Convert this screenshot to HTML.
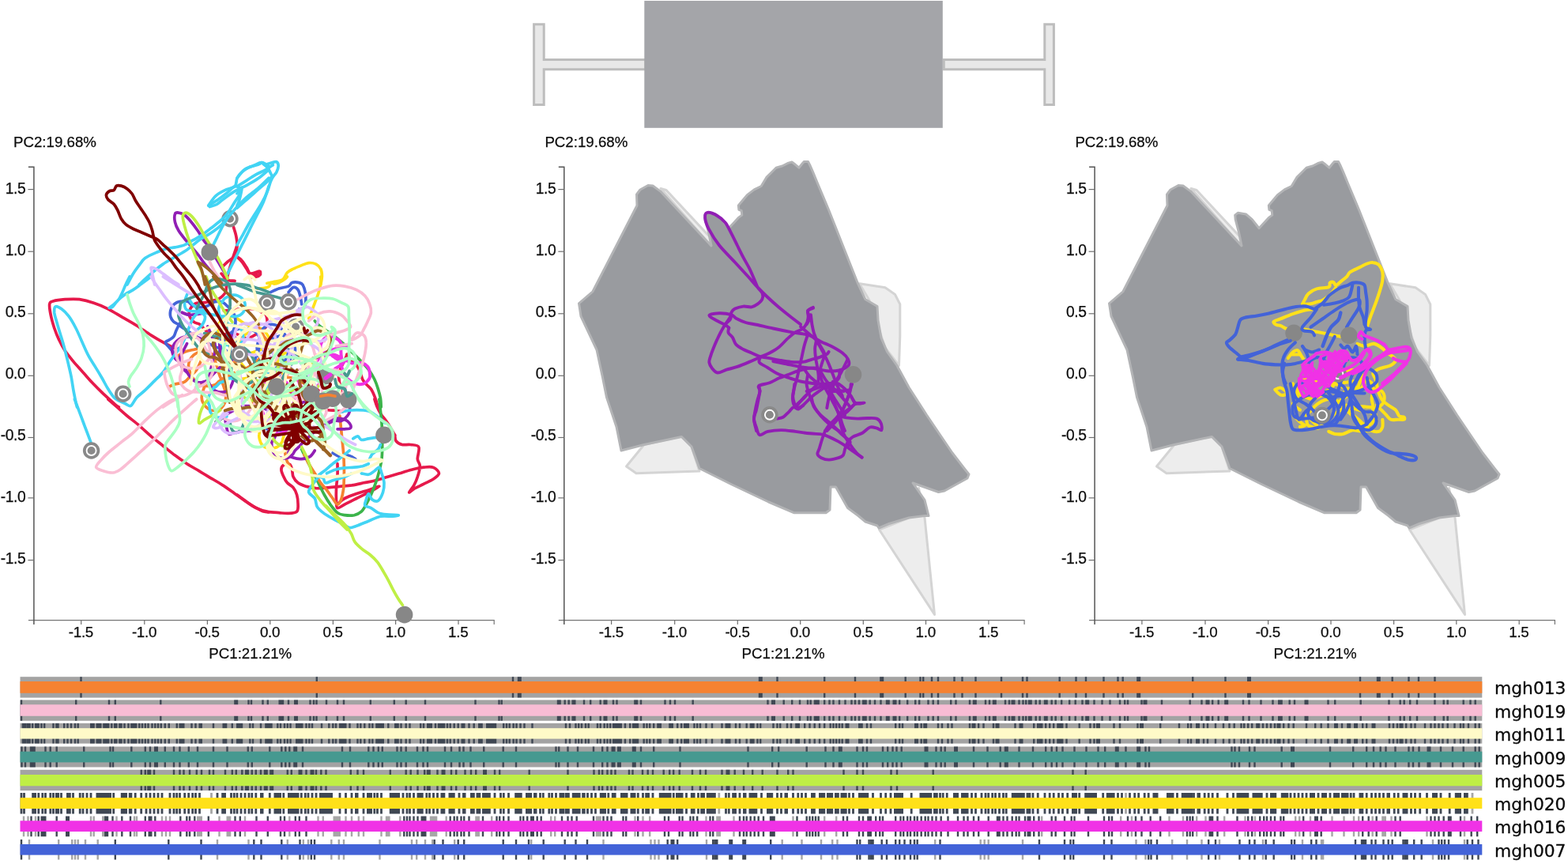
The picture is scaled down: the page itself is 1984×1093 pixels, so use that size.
<!DOCTYPE html>
<html lang="en"><head><meta charset="utf-8"><title>PCA trajectories</title>
<style>
html,body{margin:0;padding:0;background:#fff;}
body{width:1984px;height:1093px;overflow:hidden;}
svg{display:block;}
.ax{font-family:"Liberation Sans",sans-serif;font-size:18.8px;letter-spacing:-0.3px;fill:#0c0c0c;stroke:#0c0c0c;stroke-width:0.25px;}
.lab{font-family:"Liberation Sans",sans-serif;font-size:18.7px;fill:#0c0c0c;stroke:#0c0c0c;stroke-width:0.25px;}
.nm{font-family:"DejaVu Sans","Liberation Sans",sans-serif;font-size:21.8px;fill:#0c0c0c;stroke:#0c0c0c;stroke-width:0.3px;}
.tr{fill:none;stroke-linejoin:round;stroke-linecap:round;}
.axl{stroke:#555;stroke-width:1.5;fill:none;}
.tk{stroke:#707070;stroke-width:1.2;fill:none;}
.axx{stroke:#757575;stroke-width:1.2;fill:none;}
</style></head><body>
<svg width="1984" height="1093" viewBox="0 0 1984 1093">
<rect width="1984" height="1093" fill="#fff"/>
<g id="boxglyph">
<path d="M675.6,30.7H688.2V75.6H817V87.7H688.2V132.6H675.6Z" fill="#e8e8e8" stroke="#bdbdbd" stroke-width="3"/>
<path d="M1194.3,75.6H1321.8V30.7H1333.4V132.6H1321.8V87.7H1194.3Z" fill="#e8e8e8" stroke="#bdbdbd" stroke-width="3"/>
<rect x="815.3" y="1" width="377.5" height="160.8" fill="#a4a5a9"/>
</g>
<g id="axes0">
<path class="axx" d="M35.9,784.6H625.2V790.1"/>
<path class="axl" d="M35.9,211.2H42.9V790.1"/>
<line class="tk" x1="35.4" x2="42.9" y1="239.6" y2="239.6"/>
<text class="ax" style="font-size:19.3px;letter-spacing:-0.45px" x="32.3" y="245.3" text-anchor="end">1.5</text>
<line class="tk" x1="35.4" x2="42.9" y1="318.2" y2="318.2"/>
<text class="ax" style="font-size:19.3px;letter-spacing:-0.45px" x="32.3" y="323.3" text-anchor="end">1.0</text>
<line class="tk" x1="35.4" x2="42.9" y1="396.8" y2="396.8"/>
<text class="ax" style="font-size:19.3px;letter-spacing:-0.45px" x="32.3" y="401.2" text-anchor="end">0.5</text>
<line class="tk" x1="35.4" x2="42.9" y1="475.3" y2="475.3"/>
<text class="ax" style="font-size:19.3px;letter-spacing:-0.45px" x="32.3" y="479.3" text-anchor="end">0.0</text>
<line class="tk" x1="35.4" x2="42.9" y1="553.5" y2="553.5"/>
<text class="ax" style="font-size:19.3px;letter-spacing:-0.45px" x="32.3" y="557.2" text-anchor="end">-0.5</text>
<line class="tk" x1="35.4" x2="42.9" y1="629.9" y2="629.9"/>
<text class="ax" style="font-size:19.3px;letter-spacing:-0.45px" x="32.3" y="635.1" text-anchor="end">-1.0</text>
<line class="tk" x1="35.4" x2="42.9" y1="708.6" y2="708.6"/>
<text class="ax" style="font-size:19.3px;letter-spacing:-0.45px" x="32.3" y="712.7" text-anchor="end">-1.5</text>
<line class="tk" x1="102.7" x2="102.7" y1="784.6" y2="790.1"/>
<text class="ax" x="102.4" y="806.2" text-anchor="middle">-1.5</text>
<line class="tk" x1="182.8" x2="182.8" y1="784.6" y2="790.1"/>
<text class="ax" x="182.5" y="806.2" text-anchor="middle">-1.0</text>
<line class="tk" x1="262.4" x2="262.4" y1="784.6" y2="790.1"/>
<text class="ax" x="262.1" y="806.2" text-anchor="middle">-0.5</text>
<line class="tk" x1="341.8" x2="341.8" y1="784.6" y2="790.1"/>
<text class="ax" x="341.5" y="806.2" text-anchor="middle">0.0</text>
<line class="tk" x1="421.4" x2="421.4" y1="784.6" y2="790.1"/>
<text class="ax" x="421.1" y="806.2" text-anchor="middle">0.5</text>
<line class="tk" x1="500.6" x2="500.6" y1="784.6" y2="790.1"/>
<text class="ax" x="500.3" y="806.2" text-anchor="middle">1.0</text>
<line class="tk" x1="580.0" x2="580.0" y1="784.6" y2="790.1"/>
<text class="ax" x="579.7" y="806.2" text-anchor="middle">1.5</text>
<text class="lab" x="17.0" y="185.8">PC2:19.68%</text>
<text class="lab" x="264.3" y="833">PC1:21.21%</text>
</g>
<g id="axes1">
<path class="axx" d="M706.8,784.6H1296.1V790.1"/>
<path class="axl" d="M706.8,211.2H713.8V790.1"/>
<line class="tk" x1="706.3" x2="713.8" y1="239.6" y2="239.6"/>
<text class="ax" style="font-size:19.3px;letter-spacing:-0.45px" x="703.2" y="245.3" text-anchor="end">1.5</text>
<line class="tk" x1="706.3" x2="713.8" y1="318.2" y2="318.2"/>
<text class="ax" style="font-size:19.3px;letter-spacing:-0.45px" x="703.2" y="323.3" text-anchor="end">1.0</text>
<line class="tk" x1="706.3" x2="713.8" y1="396.8" y2="396.8"/>
<text class="ax" style="font-size:19.3px;letter-spacing:-0.45px" x="703.2" y="401.2" text-anchor="end">0.5</text>
<line class="tk" x1="706.3" x2="713.8" y1="475.3" y2="475.3"/>
<text class="ax" style="font-size:19.3px;letter-spacing:-0.45px" x="703.2" y="479.3" text-anchor="end">0.0</text>
<line class="tk" x1="706.3" x2="713.8" y1="553.5" y2="553.5"/>
<text class="ax" style="font-size:19.3px;letter-spacing:-0.45px" x="703.2" y="557.2" text-anchor="end">-0.5</text>
<line class="tk" x1="706.3" x2="713.8" y1="629.9" y2="629.9"/>
<text class="ax" style="font-size:19.3px;letter-spacing:-0.45px" x="703.2" y="635.1" text-anchor="end">-1.0</text>
<line class="tk" x1="706.3" x2="713.8" y1="708.6" y2="708.6"/>
<text class="ax" style="font-size:19.3px;letter-spacing:-0.45px" x="703.2" y="712.7" text-anchor="end">-1.5</text>
<line class="tk" x1="773.6" x2="773.6" y1="784.6" y2="790.1"/>
<text class="ax" x="773.3" y="806.2" text-anchor="middle">-1.5</text>
<line class="tk" x1="853.7" x2="853.7" y1="784.6" y2="790.1"/>
<text class="ax" x="853.4" y="806.2" text-anchor="middle">-1.0</text>
<line class="tk" x1="933.3" x2="933.3" y1="784.6" y2="790.1"/>
<text class="ax" x="933.0" y="806.2" text-anchor="middle">-0.5</text>
<line class="tk" x1="1012.7" x2="1012.7" y1="784.6" y2="790.1"/>
<text class="ax" x="1012.4" y="806.2" text-anchor="middle">0.0</text>
<line class="tk" x1="1092.3" x2="1092.3" y1="784.6" y2="790.1"/>
<text class="ax" x="1092.0" y="806.2" text-anchor="middle">0.5</text>
<line class="tk" x1="1171.5" x2="1171.5" y1="784.6" y2="790.1"/>
<text class="ax" x="1171.2" y="806.2" text-anchor="middle">1.0</text>
<line class="tk" x1="1250.9" x2="1250.9" y1="784.6" y2="790.1"/>
<text class="ax" x="1250.6" y="806.2" text-anchor="middle">1.5</text>
<text class="lab" x="689.4" y="185.8">PC2:19.68%</text>
<text class="lab" x="938.6" y="833">PC1:21.21%</text>
</g>
<g id="axes2">
<path class="axx" d="M1378.1,784.6H1967.4V790.1"/>
<path class="axl" d="M1378.1,211.2H1385.1V790.1"/>
<line class="tk" x1="1377.6" x2="1385.1" y1="239.6" y2="239.6"/>
<text class="ax" style="font-size:19.3px;letter-spacing:-0.45px" x="1374.5" y="245.3" text-anchor="end">1.5</text>
<line class="tk" x1="1377.6" x2="1385.1" y1="318.2" y2="318.2"/>
<text class="ax" style="font-size:19.3px;letter-spacing:-0.45px" x="1374.5" y="323.3" text-anchor="end">1.0</text>
<line class="tk" x1="1377.6" x2="1385.1" y1="396.8" y2="396.8"/>
<text class="ax" style="font-size:19.3px;letter-spacing:-0.45px" x="1374.5" y="401.2" text-anchor="end">0.5</text>
<line class="tk" x1="1377.6" x2="1385.1" y1="475.3" y2="475.3"/>
<text class="ax" style="font-size:19.3px;letter-spacing:-0.45px" x="1374.5" y="479.3" text-anchor="end">0.0</text>
<line class="tk" x1="1377.6" x2="1385.1" y1="553.5" y2="553.5"/>
<text class="ax" style="font-size:19.3px;letter-spacing:-0.45px" x="1374.5" y="557.2" text-anchor="end">-0.5</text>
<line class="tk" x1="1377.6" x2="1385.1" y1="629.9" y2="629.9"/>
<text class="ax" style="font-size:19.3px;letter-spacing:-0.45px" x="1374.5" y="635.1" text-anchor="end">-1.0</text>
<line class="tk" x1="1377.6" x2="1385.1" y1="708.6" y2="708.6"/>
<text class="ax" style="font-size:19.3px;letter-spacing:-0.45px" x="1374.5" y="712.7" text-anchor="end">-1.5</text>
<line class="tk" x1="1444.9" x2="1444.9" y1="784.6" y2="790.1"/>
<text class="ax" x="1444.6" y="806.2" text-anchor="middle">-1.5</text>
<line class="tk" x1="1525.0" x2="1525.0" y1="784.6" y2="790.1"/>
<text class="ax" x="1524.7" y="806.2" text-anchor="middle">-1.0</text>
<line class="tk" x1="1604.6" x2="1604.6" y1="784.6" y2="790.1"/>
<text class="ax" x="1604.3" y="806.2" text-anchor="middle">-0.5</text>
<line class="tk" x1="1684.0" x2="1684.0" y1="784.6" y2="790.1"/>
<text class="ax" x="1683.7" y="806.2" text-anchor="middle">0.0</text>
<line class="tk" x1="1763.6" x2="1763.6" y1="784.6" y2="790.1"/>
<text class="ax" x="1763.3" y="806.2" text-anchor="middle">0.5</text>
<line class="tk" x1="1842.8" x2="1842.8" y1="784.6" y2="790.1"/>
<text class="ax" x="1842.5" y="806.2" text-anchor="middle">1.0</text>
<line class="tk" x1="1922.2" x2="1922.2" y1="784.6" y2="790.1"/>
<text class="ax" x="1921.9" y="806.2" text-anchor="middle">1.5</text>
<text class="lab" x="1360.4" y="185.8">PC2:19.68%</text>
<text class="lab" x="1611.6" y="833">PC1:21.21%</text>
</g>
<g id="hull1">
<polygon points="1087.5,358.8 1120.0,363.8 1132.5,372.5 1138.8,385.0 1138.8,425.0 1137.5,462.5 1120.0,440.0 1100.0,380.0" fill="#ededed" stroke="#d4d4d4" stroke-width="3" stroke-linejoin="round"/>
<polygon points="815.0,562.5 792.5,590.0 805.0,598.8 885.0,596.0 875.0,565.0 862.0,552.0" fill="#ededed" stroke="#d4d4d4" stroke-width="3" stroke-linejoin="round"/>
<polygon points="1112.5,670.0 1182.5,777.5 1170.0,655.0 1162.5,617.5 1150.0,655.0" fill="#ededed" stroke="#d4d4d4" stroke-width="3" stroke-linejoin="round"/>
<polygon points="836.0,238.5 843.0,240.5 903.5,305.5 900.5,312.0" fill="#ededed" stroke="#d4d4d4" stroke-width="3" stroke-linejoin="round"/>
<polygon points="732.5,383.8 750.0,368.8 806.0,260.0 805.5,246.0 810.0,240.0 820.0,234.5 826.0,235.0 835.7,242.1 900.0,310.9 896.6,294.3 892.2,277.6 891.7,272.1 895.5,269.3 905.5,271.0 913.3,277.6 922.1,288.7 934.3,275.4 938.8,272.1 938.2,266.5 934.9,265.4 934.3,259.9 939.9,253.2 945.4,246.6 954.3,239.9 963.2,235.5 966.5,229.9 969.8,224.4 976.5,217.7 982.0,212.2 989.8,210.0 997.6,206.1 1002.0,205.0 1006.4,208.3 1010.9,212.2 1015.3,206.7 1017.5,204.4 1022.5,204.4 1025.3,210.0 1028.6,217.7 1034.1,231.0 1049.0,266.5 1085.0,357.5 1095.0,378.8 1110.0,387.5 1111.0,405.0 1115.0,427.5 1122.5,445.0 1135.0,462.5 1150.0,490.0 1172.5,525.0 1205.0,573.0 1220.0,592.5 1226.0,600.0 1224.0,605.0 1195.0,621.0 1187.5,622.5 1155.0,611.0 1170.0,632.5 1175.0,652.5 1170.0,652.5 1150.0,655.0 1125.0,662.5 1112.0,668.0 1110.0,665.0 1095.0,660.0 1086.0,652.5 1072.5,642.5 1057.5,616.0 1051.0,616.0 1050.0,645.0 1045.0,648.8 1005.0,648.8 972.5,635.0 925.0,612.5 885.0,592.5 875.0,565.0 862.5,552.5 815.0,562.5 786.0,570.0 780.0,540.0 767.5,502.5 762.5,477.5 755.0,442.5 735.0,400.0" fill="#999b9f" stroke="#b3b4b6" stroke-width="3" stroke-linejoin="round"/>
</g>
<g id="hull2">
<polygon points="1758.5,358.8 1791.0,363.8 1803.5,372.5 1809.8,385.0 1809.8,425.0 1808.5,462.5 1791.0,440.0 1771.0,380.0" fill="#ededed" stroke="#d4d4d4" stroke-width="3" stroke-linejoin="round"/>
<polygon points="1486.0,562.5 1463.5,590.0 1476.0,598.8 1556.0,596.0 1546.0,565.0 1533.0,552.0" fill="#ededed" stroke="#d4d4d4" stroke-width="3" stroke-linejoin="round"/>
<polygon points="1783.5,670.0 1853.5,777.5 1841.0,655.0 1833.5,617.5 1821.0,655.0" fill="#ededed" stroke="#d4d4d4" stroke-width="3" stroke-linejoin="round"/>
<polygon points="1507.0,238.5 1514.0,240.5 1574.5,305.5 1571.5,312.0" fill="#ededed" stroke="#d4d4d4" stroke-width="3" stroke-linejoin="round"/>
<polygon points="1403.5,383.8 1421.0,368.8 1477.0,260.0 1476.5,246.0 1481.0,240.0 1491.0,234.5 1497.0,235.0 1506.7,242.1 1571.0,310.9 1567.6,294.3 1563.2,277.6 1562.7,272.1 1566.5,269.3 1576.5,271.0 1584.3,277.6 1593.1,288.7 1605.3,275.4 1609.8,272.1 1609.2,266.5 1605.9,265.4 1605.3,259.9 1610.9,253.2 1616.4,246.6 1625.3,239.9 1634.2,235.5 1637.5,229.9 1640.8,224.4 1647.5,217.7 1653.0,212.2 1660.8,210.0 1668.6,206.1 1673.0,205.0 1677.4,208.3 1681.9,212.2 1686.3,206.7 1688.5,204.4 1693.5,204.4 1696.3,210.0 1699.6,217.7 1705.1,231.0 1720.0,266.5 1756.0,357.5 1766.0,378.8 1781.0,387.5 1782.0,405.0 1786.0,427.5 1793.5,445.0 1806.0,462.5 1821.0,490.0 1843.5,525.0 1876.0,573.0 1891.0,592.5 1897.0,600.0 1895.0,605.0 1866.0,621.0 1858.5,622.5 1826.0,611.0 1841.0,632.5 1846.0,652.5 1841.0,652.5 1821.0,655.0 1796.0,662.5 1783.0,668.0 1781.0,665.0 1766.0,660.0 1757.0,652.5 1743.5,642.5 1728.5,616.0 1722.0,616.0 1721.0,645.0 1716.0,648.8 1676.0,648.8 1643.5,635.0 1596.0,612.5 1556.0,592.5 1546.0,565.0 1533.5,552.5 1486.0,562.5 1457.0,570.0 1451.0,540.0 1438.5,502.5 1433.5,477.5 1426.0,442.5 1406.0,400.0" fill="#999b9f" stroke="#b3b4b6" stroke-width="3" stroke-linejoin="round"/>
</g>
<g id="traj0" style="stroke-width:3.7">
<path class="tr" stroke="#e6194b" d="M295.5,287.2C296.0,289.0 297.8,294.0 298.6,297.8C299.3,301.6 300.3,305.6 300.1,309.9C299.8,314.2 299.1,320.0 297.1,323.5C295.0,327.1 290.5,328.8 288.0,331.1C285.5,333.4 282.9,336.1 281.9,337.1"/>
<path class="tr" stroke="#e6194b" d="M297.1,323.5C298.3,324.3 302.1,325.5 304.6,328.1C307.1,330.6 310.2,335.6 312.2,338.6C314.2,341.7 314.2,345.2 316.7,346.2C319.2,347.2 325.3,344.4 327.3,344.7C329.3,344.9 330.1,347.0 328.8,347.7C327.6,348.5 321.2,349.0 319.7,349.2"/>
<path class="tr" stroke="#e6194b" d="M300.1,309.9C299.1,312.9 295.8,322.5 294.0,328.1C292.3,333.6 290.5,338.9 289.5,343.2C288.5,347.5 286.7,351.8 288.0,353.8C289.2,355.8 295.5,355.0 297.1,355.3"/>
<path class="tr" stroke="#e6194b" d="M300.0,325.0C301.0,326.0 304.0,328.6 306.0,331.1C308.1,333.6 310.3,337.6 312.1,340.2C313.9,342.7 313.9,345.7 316.6,346.2C319.4,346.7 327.0,342.7 328.7,343.2C330.5,343.7 329.0,348.0 327.2,349.2C325.5,350.5 319.7,350.5 318.1,350.7"/>
<path class="tr" stroke="#e6194b" d="M224.5,442.2C222.0,441.0 214.9,437.7 209.4,434.7C203.8,431.7 197.3,427.9 191.2,424.1C185.2,420.3 179.1,415.8 173.1,412.0C167.0,408.2 161.0,404.9 154.9,401.4C148.9,397.9 142.8,393.9 136.8,390.8C130.7,387.8 124.7,385.3 118.6,383.3C112.6,381.2 106.5,379.5 100.5,378.7C94.4,378.0 87.9,378.4 82.3,378.7C76.8,379.1 70.5,380.0 67.2,381.0C63.9,382.0 63.2,381.9 62.7,384.8C62.2,387.7 63.2,393.3 64.2,398.4C65.2,403.4 67.0,409.7 68.7,415.0C70.5,420.3 72.5,425.4 74.8,430.1C77.0,434.9 79.3,439.2 82.3,443.8C85.4,448.3 89.1,452.8 92.9,457.4C96.7,461.9 101.0,466.4 105.0,471.0C109.1,475.5 112.8,480.0 117.1,484.6C121.4,489.1 125.9,493.6 130.7,498.2C135.5,502.7 142.6,509.0 145.8,511.8C149.1,514.6 149.6,514.4 150.4,515.0"/>
<path class="tr" stroke="#e6194b" d="M136.8,505.0C138.8,506.8 144.8,512.1 148.9,515.6C152.9,519.1 156.4,522.4 161.0,526.2C165.5,529.9 171.0,534.0 176.1,538.3C181.1,542.6 186.2,547.6 191.2,551.9C196.2,556.2 201.3,559.9 206.3,564.0C211.4,568.0 216.4,572.3 221.5,576.1C226.5,579.8 231.5,583.4 236.6,586.7C241.6,589.9 246.7,592.7 251.7,595.7C256.7,598.8 261.8,601.8 266.8,604.8C271.9,607.8 276.9,610.6 281.9,613.9C287.0,617.1 292.0,620.9 297.1,624.5C302.1,628.0 307.6,632.0 312.2,635.0C316.7,638.1 320.7,640.6 324.3,642.6C327.8,644.6 330.7,646.3 333.3,647.1C336.0,648.0 338.9,647.8 340.0,647.9"/>
<path class="tr" stroke="#e6194b" d="M300.0,626.0C302.0,627.5 308.1,632.3 312.1,635.0C316.1,637.8 319.9,640.6 324.2,642.6C328.5,644.6 333.0,646.1 337.8,647.1C342.6,648.1 348.4,648.3 352.9,648.6C357.5,649.0 361.2,649.7 365.0,649.4C368.8,649.2 373.6,649.0 375.6,647.1C377.6,645.2 377.1,641.6 377.1,638.1C377.1,634.5 376.6,629.5 375.6,626.0C374.6,622.4 373.1,619.4 371.1,616.9C369.1,614.4 365.5,613.1 363.5,610.8C361.5,608.6 360.2,606.1 359.0,603.3C357.7,600.5 355.9,596.7 355.9,594.2C355.9,591.7 357.2,589.3 359.0,588.2C360.7,587.0 364.8,586.4 366.5,587.4C368.3,588.4 368.8,591.6 369.6,594.2C370.3,596.9 369.8,600.5 371.1,603.3C372.3,606.1 374.3,608.8 377.1,610.8C379.9,612.9 383.9,614.2 387.7,615.4C391.5,616.5 395.3,617.4 399.8,617.7C404.3,617.9 409.9,617.3 414.9,616.9C420.0,616.5 425.0,615.9 430.0,615.4C435.1,614.9 440.1,614.6 445.2,613.9C450.2,613.1 455.2,611.9 460.3,610.8C465.3,609.8 470.4,609.1 475.4,607.8C480.4,606.6 485.5,604.8 490.5,603.3C495.6,601.8 500.6,600.3 505.6,598.8C510.7,597.2 515.7,595.5 520.8,594.2C525.8,593.0 531.4,591.7 535.9,591.2C540.4,590.7 544.7,589.9 548.0,591.2C551.3,592.4 555.5,596.2 555.5,598.8C555.5,601.3 551.3,604.0 548.0,606.3C544.7,608.6 539.9,610.3 535.9,612.4C531.9,614.4 526.8,616.6 523.8,618.4C520.8,620.2 517.7,623.7 517.7,622.9C517.7,622.2 522.0,617.1 523.8,613.9C525.6,610.6 527.1,607.3 528.3,603.3C529.6,599.3 531.4,593.5 531.4,589.7C531.4,585.9 528.6,584.6 528.3,580.6C528.1,576.6 531.4,568.5 529.8,565.5C528.3,562.5 522.8,563.0 519.3,562.5C515.7,562.0 511.7,563.2 508.7,562.5C505.6,561.7 502.6,559.9 501.1,557.9C499.6,555.9 499.8,551.6 499.6,550.4"/>
<path class="tr" stroke="#e6194b" d="M427.0,586.7C427.0,589.2 427.3,596.7 427.0,601.8C426.8,606.8 425.8,611.6 425.5,616.9C425.3,622.2 425.3,629.2 425.5,633.5C425.8,637.8 425.3,641.8 427.0,642.6C428.8,643.4 432.1,640.1 436.1,638.1C440.1,636.0 446.2,633.0 451.2,630.5C456.3,628.0 461.5,625.5 466.3,622.9C471.1,620.4 479.9,615.9 479.9,615.4C479.9,614.9 471.1,618.4 466.3,619.9C461.5,621.4 456.3,622.7 451.2,624.5C446.2,626.2 439.9,628.5 436.1,630.5C432.3,632.5 429.8,635.5 428.5,636.6"/>
<path class="tr" stroke="#e6194b" d="M439.1,448.3C439.9,449.3 441.6,452.1 443.6,454.3C445.7,456.6 449.2,459.1 451.2,461.9C453.2,464.7 454.5,467.9 455.7,471.0C457.0,474.0 457.5,477.5 458.8,480.0C460.0,482.6 461.5,484.1 463.3,486.1C465.1,488.1 467.6,489.6 469.4,492.1C471.1,494.7 472.6,498.2 473.9,501.2C475.2,504.2 476.2,508.0 476.9,510.3C477.7,512.6 478.2,514.2 478.4,515.0"/>
<path class="tr" stroke="#e6194b" d="M439.1,448.3C438.6,449.5 437.3,453.1 436.1,455.8C434.8,458.6 432.8,461.9 431.6,464.9C430.3,467.9 428.8,470.5 428.5,474.0C428.3,477.5 429.5,482.6 430.0,486.1C430.5,489.6 431.3,493.6 431.6,495.2"/>
<path class="tr" stroke="#e6194b" d="M473.9,505.0C474.4,506.5 475.7,511.0 476.9,514.1C478.2,517.1 479.2,519.6 481.5,523.1C483.7,526.7 487.5,530.7 490.5,535.2C493.5,539.8 498.1,547.8 499.6,550.4"/>
<path class="tr" stroke="#e6194b" d="M283.3,393.0C284.2,392.9 287.1,392.8 289.0,392.7C290.8,392.5 292.5,392.5 294.5,392.2C296.5,392.0 298.8,391.5 300.9,391.2C302.9,391.0 304.9,390.7 306.9,390.6C309.0,390.5 311.2,390.8 313.3,390.8C315.3,390.8 317.0,390.5 319.1,390.7C321.2,390.8 323.9,391.0 325.7,391.7C327.6,392.3 328.6,393.6 330.3,394.6C332.0,395.6 334.8,396.3 336.1,397.8C337.3,399.2 337.4,401.3 337.8,403.3C338.1,405.3 338.5,407.7 338.1,409.6C337.8,411.5 337.0,413.2 335.8,414.6C334.6,415.9 332.7,416.3 331.0,417.5C329.3,418.7 327.3,420.6 325.6,421.8C323.9,423.0 322.5,423.9 320.7,424.8C318.9,425.8 316.7,427.0 314.8,427.5C312.9,427.9 311.1,428.1 309.3,427.6C307.4,427.1 305.4,425.3 303.5,424.4C301.7,423.5 299.9,422.8 298.1,422.3C296.3,421.9 294.6,421.8 292.7,421.8C290.8,421.7 288.5,421.4 286.7,422.0C284.8,422.6 283.5,424.6 281.6,425.4C279.7,426.2 277.4,426.6 275.4,426.6C273.3,426.6 271.4,426.2 269.5,425.5C267.7,424.9 265.8,424.1 264.3,422.9C262.8,421.7 262.0,419.8 260.7,418.3C259.3,416.8 257.6,415.2 256.2,413.7C254.7,412.3 253.7,410.8 252.0,409.9C250.4,408.9 248.1,409.0 246.4,408.0C244.7,407.0 243.2,405.6 242.0,403.9C240.8,402.3 239.7,399.9 239.3,398.0C239.0,396.2 239.3,394.6 239.9,392.8C240.5,391.1 241.6,389.0 242.8,387.5C244.1,386.0 245.5,384.7 247.3,383.9C249.2,383.2 251.7,383.3 253.8,383.1C255.8,382.9 257.8,382.9 259.8,382.6C261.9,382.3 264.1,381.5 266.0,381.0C267.9,380.6 269.5,380.4 271.4,379.9C273.2,379.3 275.4,378.8 277.2,377.9C278.9,376.9 280.4,375.7 281.8,374.3C283.2,372.9 284.8,371.3 285.6,369.4C286.3,367.5 286.3,364.8 286.4,362.8C286.5,360.7 286.5,358.9 286.1,356.9C285.7,354.9 284.7,352.8 283.7,351.0C282.7,349.2 280.7,346.9 280.1,346.1"/>
<path class="tr" stroke="#e6194b" d="M402.9,493.8C402.1,493.2 399.8,491.1 398.2,489.8C396.6,488.5 394.8,487.4 393.4,486.0C391.9,484.7 390.9,483.1 389.6,481.7C388.4,480.3 387.3,479.3 385.7,477.9C384.1,476.5 381.7,474.6 380.0,473.4C378.3,472.3 377.1,471.4 375.3,470.8C373.6,470.2 371.3,469.6 369.4,470.0C367.6,470.3 365.7,471.7 364.1,472.9C362.5,474.2 360.8,475.9 359.8,477.4C358.8,479.0 358.3,480.2 358.1,482.1C358.0,483.9 358.4,486.7 359.1,488.7C359.7,490.6 360.6,492.5 362.0,493.8C363.4,495.2 365.7,495.9 367.7,496.8C369.6,497.7 371.9,499.0 373.8,499.3C375.7,499.7 377.2,498.5 379.0,498.8C380.9,499.2 383.0,500.7 384.9,501.5C386.8,502.3 388.7,502.8 390.3,503.9C392.0,504.9 393.4,506.9 394.9,508.0C396.4,509.1 397.8,509.3 399.6,510.4C401.3,511.4 403.3,513.3 405.2,514.4C407.0,515.5 408.9,516.2 410.6,516.9C412.2,517.6 413.1,518.3 415.1,518.7C417.1,519.1 420.3,519.1 422.4,519.2C424.5,519.4 425.7,519.5 427.5,519.8C429.3,520.0 432.2,520.6 433.2,520.8"/>
<circle cx="291.0" cy="276.7" r="10.7" fill="#898989"/>
<circle cx="291.0" cy="276.7" r="6.0" fill="none" stroke="#fff" stroke-width="1.9"/>
<path class="tr" stroke="#3cb44b" d="M398.3,405.9C399.5,407.2 403.1,411.2 405.8,413.5C408.6,415.8 411.6,417.3 414.9,419.6C418.2,421.8 422.0,424.3 425.5,427.1C429.0,429.9 433.1,433.4 436.1,436.2C439.1,439.0 441.1,441.2 443.6,443.8C446.2,446.3 448.4,448.5 451.2,451.3C454.0,454.1 457.5,457.4 460.3,460.4C463.1,463.4 465.6,466.2 467.8,469.5C470.1,472.7 472.1,476.3 473.9,480.0C475.7,483.8 477.2,488.1 478.4,492.1C479.7,496.2 480.8,500.4 481.5,504.2C482.1,508.0 482.1,513.2 482.2,515.0"/>
<path class="tr" stroke="#3cb44b" d="M479.9,505.0C480.2,507.5 480.9,515.1 481.5,520.1C482.0,525.2 482.6,530.2 483.0,535.2C483.3,540.3 483.6,545.3 483.7,550.4C483.8,555.4 483.8,560.4 483.7,565.5C483.6,570.5 483.6,575.6 483.0,580.6C482.3,585.6 481.2,590.7 479.9,595.7C478.7,600.8 477.2,605.8 475.4,610.8C473.6,615.9 471.4,621.4 469.4,626.0C467.3,630.5 465.3,634.5 463.3,638.1C461.3,641.6 459.8,644.9 457.3,647.1C454.7,649.4 451.7,650.9 448.2,651.7C444.7,652.4 439.6,652.2 436.1,651.7C432.6,651.2 430.0,650.9 427.0,648.6C424.0,646.4 420.7,641.8 417.9,638.1C415.2,634.3 412.9,630.5 410.4,626.0C407.9,621.4 405.3,615.9 402.8,610.8C400.3,605.8 397.8,600.8 395.3,595.7C392.7,590.7 390.0,585.1 387.7,580.6C385.4,576.1 382.7,570.5 381.7,568.5"/>
<path class="tr" stroke="#3cb44b" d="M272.9,533.7C273.9,533.2 277.1,532.0 278.9,530.7C280.7,529.4 282.7,526.9 283.4,526.2"/>
<path class="tr" stroke="#ffe119" d="M337.8,358.3C339.1,358.1 342.1,357.6 345.4,356.8C348.6,356.0 354.4,355.8 357.5,353.8C360.5,351.8 361.2,347.0 363.5,344.7C365.8,342.4 368.0,341.7 371.1,340.2C374.1,338.6 378.4,336.9 381.7,335.6C384.9,334.4 387.7,332.9 390.7,332.6C393.8,332.3 397.3,332.9 399.8,334.1C402.3,335.4 404.6,337.6 405.8,340.2C407.1,342.7 407.4,345.9 407.4,349.2C407.4,352.5 406.1,358.2 405.8,360.0"/>
<path class="tr" stroke="#ffe119" d="M325.7,365.1C327.2,365.0 332.3,364.9 334.8,364.4C337.3,363.9 339.6,363.2 340.8,362.1C342.1,361.0 341.3,358.1 342.3,357.6C343.3,357.1 345.1,359.1 346.9,359.1C348.6,359.1 350.7,358.6 352.9,357.6C355.2,356.6 358.7,354.3 360.5,353.0C362.2,351.8 363.0,350.5 363.5,350.0"/>
<path class="tr" stroke="#ffe119" d="M405.8,350.0C405.8,351.5 406.4,355.5 405.8,359.1C405.3,362.6 404.1,367.1 402.8,371.2C401.6,375.2 399.8,379.2 398.3,383.3C396.8,387.3 395.0,392.1 393.8,395.4C392.5,398.6 391.2,401.7 390.7,402.9"/>
<path class="tr" stroke="#ffe119" d="M351.4,457.4C350.4,457.9 347.3,459.4 345.3,460.6C343.3,461.9 341.3,463.4 339.4,464.8C337.5,466.1 335.9,467.4 333.9,468.7C332.0,470.0 329.9,471.3 327.9,472.6C326.0,473.8 324.2,475.3 322.2,476.1C320.2,477.0 318.5,477.1 316.0,477.6C313.6,478.1 310.2,478.8 307.7,479.1C305.2,479.4 303.1,480.0 300.9,479.5C298.8,479.1 296.7,477.8 294.9,476.5C293.1,475.3 291.2,474.0 290.1,472.0C289.0,470.1 288.5,467.2 288.4,464.9C288.2,462.7 288.6,460.9 289.4,458.6C290.1,456.4 291.2,453.2 292.9,451.5C294.6,449.8 297.3,449.2 299.7,448.7C302.1,448.2 305.0,448.7 307.4,448.5C309.8,448.3 311.9,447.7 314.1,447.3C316.2,446.9 318.0,446.5 320.1,445.8C322.2,445.1 324.7,444.2 326.9,443.3C329.1,442.5 331.2,442.1 333.3,440.8C335.4,439.5 338.2,437.8 339.4,435.7C340.6,433.5 341.0,430.4 340.6,428.1C340.2,425.8 338.4,423.8 337.2,422.0C336.0,420.2 334.9,418.4 333.2,417.3C331.5,416.1 329.2,415.0 326.9,414.9C324.6,414.9 321.7,415.8 319.4,416.9C317.2,417.9 315.1,419.7 313.3,421.0C311.4,422.4 310.0,423.4 308.5,425.1C307.1,426.8 305.8,429.2 304.8,431.3C303.7,433.3 303.0,435.2 302.5,437.5C301.9,439.8 301.3,442.6 301.3,445.1C301.2,447.5 301.6,450.2 302.1,452.4C302.7,454.6 303.4,456.4 304.5,458.4C305.6,460.3 307.2,462.3 308.8,464.0C310.4,465.7 312.3,467.1 314.2,468.5C316.2,469.9 318.4,471.7 320.6,472.4C322.8,473.0 325.3,472.7 327.5,472.2C329.7,471.8 332.0,471.0 333.7,469.7C335.5,468.3 336.8,466.4 337.9,464.4C338.9,462.3 339.7,459.8 340.0,457.4C340.3,455.0 339.7,452.1 339.5,449.8C339.3,447.4 339.4,445.5 339.0,443.3C338.5,441.1 337.6,438.9 336.9,436.6C336.3,434.3 336.0,431.6 335.1,429.5C334.3,427.4 333.4,425.9 332.0,424.0C330.7,422.1 328.8,419.8 326.8,418.1C324.9,416.5 322.6,415.1 320.6,414.1C318.6,413.1 316.8,412.9 314.8,412.0C312.7,411.0 310.1,409.8 308.1,408.6C306.1,407.4 304.8,406.1 302.9,404.9C301.0,403.6 298.7,401.9 296.7,401.2C294.6,400.5 292.6,400.2 290.4,400.5C288.2,400.7 285.3,401.4 283.4,402.5C281.4,403.6 279.9,405.2 278.6,407.0C277.3,408.8 275.9,411.0 275.4,413.3C275.0,415.7 275.3,418.9 276.0,421.1C276.7,423.2 277.9,424.6 279.5,426.1C281.1,427.7 283.5,429.3 285.7,430.2C287.9,431.1 290.5,430.9 292.8,431.5C295.2,432.0 297.5,433.1 299.6,433.8C301.8,434.4 304.7,435.1 305.7,435.3"/>
<path class="tr" stroke="#ffe119" d="M359.7,483.5C359.9,484.7 360.6,488.4 360.8,490.7C361.0,493.0 361.2,495.2 360.9,497.5C360.7,499.8 360.1,502.1 359.4,504.3C358.7,506.5 357.9,508.9 357.0,510.9C356.0,513.0 355.1,514.8 353.7,516.7C352.3,518.6 350.2,520.6 348.6,522.3C346.9,524.0 345.6,525.4 344.0,527.1C342.3,528.9 340.6,531.0 338.9,532.7C337.3,534.4 335.4,535.4 334.0,537.0C332.5,538.7 331.1,540.7 330.1,542.8C329.0,544.9 328.1,547.5 327.9,549.7C327.6,551.9 327.9,553.8 328.5,555.9C329.1,558.0 330.0,560.6 331.3,562.3C332.6,564.0 334.4,565.6 336.4,566.4C338.3,567.2 340.5,567.4 343.0,567.2C345.4,567.0 348.7,566.7 350.9,565.4C353.2,564.2 355.3,561.6 356.5,559.8C357.7,558.1 357.4,556.9 358.0,554.9C358.7,552.9 359.7,550.0 360.2,547.7C360.8,545.3 361.2,543.1 361.1,540.7C361.0,538.4 359.6,535.9 359.6,533.6C359.7,531.2 361.3,529.0 361.5,526.7C361.7,524.3 360.9,521.8 360.6,519.5C360.3,517.1 359.8,514.9 359.9,512.5C360.0,510.1 361.0,507.3 361.2,504.9C361.4,502.6 361.1,500.5 361.0,498.3C360.8,496.0 360.5,493.7 360.4,491.4C360.3,489.2 360.7,486.9 360.3,484.7C360.0,482.5 359.2,480.3 358.4,478.1C357.7,475.9 357.0,473.7 355.8,471.6C354.7,469.6 352.3,468.0 351.5,465.8C350.8,463.6 350.8,460.8 351.1,458.6C351.4,456.3 352.2,454.2 353.5,452.3C354.9,450.4 357.5,448.5 359.4,447.3C361.4,446.1 364.2,445.2 365.1,444.8"/>
<path class="tr" stroke="#4363d8" d="M342.3,369.7C344.1,368.9 349.1,366.4 352.9,365.1C356.7,363.9 362.2,363.4 365.0,362.1C367.8,360.8 367.3,358.3 369.6,357.6C371.8,356.8 376.4,357.1 378.6,357.6C380.9,358.1 381.9,358.6 383.2,360.6C384.4,362.6 385.6,366.4 386.2,369.7C386.8,372.9 387.2,377.0 386.9,380.2C386.7,383.5 386.1,387.6 384.7,389.3C383.3,391.1 379.6,390.6 378.6,390.8"/>
<path class="tr" stroke="#4363d8" d="M365.0,369.7C366.0,368.6 369.1,364.1 371.1,363.6C373.1,363.1 375.6,364.6 377.1,366.6C378.6,368.6 379.4,372.7 380.1,375.7C380.9,378.7 381.4,383.3 381.7,384.8"/>
<path class="tr" stroke="#4363d8" d="M227.5,409.0C226.7,410.5 224.2,415.3 223.0,418.0C221.7,420.8 221.5,423.6 219.9,425.6C218.4,427.6 215.7,428.9 213.9,430.1C212.1,431.4 209.4,431.7 209.4,433.2C209.4,434.7 212.1,437.2 213.9,439.2C215.7,441.2 217.9,445.0 219.9,445.3C222.0,445.5 225.0,441.5 226.0,440.7"/>
<path class="tr" stroke="#4363d8" style="stroke-width:4" d="M333.3,541.3C335.3,541.8 341.3,543.8 345.4,544.3C349.4,544.8 355.4,544.3 357.5,544.3"/>
<path class="tr" stroke="#4363d8" d="M421.0,573.0C422.5,573.8 426.8,577.1 430.0,577.6C433.3,578.1 437.3,575.6 440.6,576.1C443.9,576.6 448.2,579.8 449.7,580.6"/>
<path class="tr" stroke="#4363d8" d="M286.6,443.6C285.5,443.1 282.2,441.7 279.9,440.9C277.6,440.1 275.1,439.8 272.9,439.0C270.7,438.2 268.7,437.1 266.7,436.0C264.6,434.9 262.6,433.6 260.6,432.5C258.6,431.4 256.7,430.5 254.7,429.4C252.8,428.3 250.8,427.0 248.8,425.8C246.8,424.7 244.7,423.8 242.6,422.4C240.5,421.1 238.3,419.0 236.4,417.7C234.4,416.3 232.8,415.7 230.9,414.4C229.0,413.2 226.8,411.3 224.9,410.0C223.0,408.8 221.0,408.3 219.5,406.7C218.0,405.2 216.5,402.9 215.8,400.6C215.2,398.4 215.2,395.7 215.7,393.3C216.3,391.0 217.5,388.2 218.9,386.4C220.3,384.6 222.0,383.4 224.0,382.5C226.0,381.6 228.5,381.1 230.8,381.0C233.2,380.8 236.0,380.8 238.0,381.6C240.0,382.4 240.8,384.7 242.7,385.7C244.6,386.8 247.3,387.6 249.6,388.1C252.0,388.6 254.5,388.9 256.8,388.6C259.1,388.4 261.2,387.6 263.3,386.6C265.3,385.5 267.1,383.4 269.3,382.5C271.5,381.7 274.2,381.2 276.3,381.3C278.5,381.4 280.5,381.8 282.4,382.9C284.4,383.9 286.2,385.9 288.1,387.6C289.9,389.3 292.0,391.1 293.4,392.9C294.8,394.8 295.8,396.4 296.6,398.6C297.3,400.7 297.9,403.6 298.0,406.0C298.1,408.4 297.8,410.5 297.3,412.7C296.7,414.9 295.3,417.1 294.7,419.4C294.0,421.6 293.6,424.0 293.1,426.3C292.7,428.6 292.2,430.8 291.9,433.2C291.6,435.6 291.7,438.4 291.5,440.6C291.4,442.9 291.2,444.5 291.0,446.7C290.9,448.9 290.9,451.7 290.6,454.1C290.2,456.5 289.2,458.6 289.0,460.9C288.7,463.2 288.9,465.5 289.1,467.7C289.4,470.0 289.5,472.4 290.5,474.5C291.6,476.6 293.7,478.8 295.6,480.1C297.5,481.5 299.6,482.4 301.8,482.8C304.0,483.2 306.5,483.1 308.7,482.7C311.0,482.2 313.5,481.4 315.3,480.0C317.1,478.5 318.6,476.2 319.6,474.0C320.6,471.8 320.8,469.1 321.1,466.7C321.5,464.3 321.3,461.9 321.7,459.6C322.0,457.3 322.5,455.2 323.3,453.0C324.0,450.8 325.5,448.8 326.2,446.7C327.0,444.5 327.3,442.4 327.7,440.0C328.0,437.7 328.4,434.8 328.4,432.4C328.4,430.1 328.5,428.2 327.7,426.1C326.9,424.0 325.4,421.4 323.7,419.8C322.0,418.3 319.9,417.7 317.7,417.0C315.4,416.2 312.8,415.7 310.4,415.5C308.0,415.2 305.9,415.2 303.5,415.7C301.1,416.1 298.2,417.1 296.2,418.2C294.1,419.2 292.9,420.5 291.2,421.9C289.5,423.4 287.4,425.1 285.9,426.9C284.5,428.6 283.6,430.5 282.4,432.5C281.3,434.5 279.9,436.6 279.1,438.9C278.3,441.1 277.8,444.7 277.5,445.9"/>
<path class="tr" stroke="#4363d8" d="M360.3,469.0C360.6,467.8 361.3,464.0 362.3,461.9C363.3,459.8 365.0,458.2 366.2,456.3C367.4,454.4 368.2,452.4 369.4,450.4C370.6,448.4 372.8,446.3 373.4,444.2C374.0,442.1 373.6,439.8 373.1,437.7C372.6,435.6 371.5,433.3 370.1,431.6C368.8,429.9 366.7,428.8 364.7,427.6C362.7,426.4 360.4,424.6 358.1,424.3C355.8,424.0 353.2,425.1 351.0,425.8C348.8,426.5 347.1,427.1 345.1,428.4C343.0,429.6 340.6,431.7 338.9,433.3C337.2,434.9 335.8,435.8 334.8,437.9C333.9,440.0 333.7,443.4 333.4,445.7C333.2,448.1 333.5,449.7 333.6,451.9C333.8,454.2 333.4,457.1 334.3,459.1C335.3,461.2 337.2,463.2 339.2,464.3C341.2,465.5 343.9,466.3 346.2,466.2C348.5,466.1 351.1,464.8 353.2,463.7C355.2,462.5 357.1,461.1 358.5,459.4C360.0,457.7 361.0,455.5 362.0,453.4C363.0,451.2 364.4,449.0 364.7,446.8C365.1,444.5 364.4,442.2 364.4,439.8C364.4,437.3 365.1,434.4 364.7,432.1C364.4,429.7 363.2,427.6 362.1,425.7C361.1,423.8 359.7,422.5 358.4,420.6C357.2,418.6 356.2,415.4 354.5,413.8C352.8,412.2 350.4,411.5 348.2,411.0C346.1,410.4 343.9,410.1 341.6,410.6C339.4,411.1 336.7,412.6 334.8,414.0C333.0,415.3 331.5,416.7 330.5,418.8C329.4,420.8 329.3,423.8 328.7,426.1C328.0,428.5 327.2,430.4 326.6,432.6C326.0,434.9 325.2,437.6 325.1,439.8C325.1,442.0 325.6,443.7 326.2,445.8C326.7,447.9 327.4,450.1 328.5,452.3C329.6,454.4 331.5,456.9 332.8,458.9C334.1,461.0 334.9,462.6 336.1,464.5C337.3,466.4 338.9,468.0 340.0,470.2C341.1,472.3 341.9,475.2 342.5,477.5C343.1,479.7 343.4,482.7 343.6,483.8"/>
<path class="tr" stroke="#f58231" d="M430.0,526.2C430.3,528.9 431.0,537.5 431.6,542.8C432.1,548.1 432.6,552.9 433.1,557.9C433.6,563.0 434.2,568.0 434.6,573.0C435.0,578.1 435.2,583.1 435.3,588.2C435.5,593.2 435.5,598.2 435.3,603.3C435.2,608.3 435.2,613.6 434.6,618.4C433.9,623.2 432.8,628.7 431.6,632.0C430.3,635.3 428.8,638.3 427.0,638.1C425.3,637.8 423.2,633.5 421.0,630.5C418.7,627.5 415.9,623.2 413.4,619.9C410.9,616.6 408.4,614.4 405.8,610.8C403.3,607.3 400.8,602.8 398.3,598.8C395.8,594.7 393.0,590.7 390.7,586.7C388.5,582.6 385.7,576.6 384.7,574.6"/>
<path class="tr" stroke="#f58231" d="M360.5,568.5C360.7,570.5 361.0,577.1 362.0,580.6C363.0,584.1 365.8,588.2 366.5,589.7"/>
<path class="tr" stroke="#f58231" d="M221.5,452.8C223.5,451.6 229.5,447.0 233.5,445.3C237.6,443.5 242.1,443.0 245.6,442.2C249.2,441.5 253.2,441.0 254.7,440.7"/>
<path class="tr" stroke="#f58231" d="M213.9,489.1C215.2,488.6 218.2,487.1 221.5,486.1C224.7,485.1 230.3,484.8 233.5,483.1C236.8,481.3 238.6,478.0 241.1,475.5C243.6,473.0 246.4,471.2 248.7,467.9C250.9,464.7 253.7,457.9 254.7,455.8"/>
<path class="tr" stroke="#f58231" d="M301.5,456.1C300.5,456.5 297.3,457.7 295.1,458.7C293.0,459.7 290.7,461.1 288.6,462.1C286.5,463.2 284.5,463.8 282.6,464.8C280.6,465.8 278.8,466.9 276.7,468.1C274.7,469.3 272.2,470.6 270.4,472.0C268.6,473.5 267.3,474.9 265.9,476.7C264.6,478.5 263.4,480.6 262.1,482.7C260.9,484.8 259.7,487.0 258.7,489.3C257.7,491.7 256.9,494.6 256.3,496.9C255.7,499.1 255.1,500.9 255.2,503.0C255.2,505.1 255.8,507.4 256.9,509.5C257.9,511.6 259.6,513.8 261.3,515.4C263.0,517.0 264.9,518.4 267.0,519.0C269.1,519.5 271.7,519.2 273.9,518.7C276.2,518.2 278.7,517.3 280.4,515.8C282.1,514.3 283.4,511.9 284.3,509.8C285.2,507.7 285.6,505.5 285.7,503.2C285.9,500.9 285.7,498.4 285.2,496.1C284.8,493.8 283.9,491.7 283.2,489.5C282.5,487.4 281.8,485.3 281.0,483.2C280.3,481.1 279.4,478.9 278.6,476.7C277.8,474.5 276.9,472.2 276.2,470.1C275.5,467.9 275.3,466.1 274.6,463.7C273.9,461.4 272.8,458.4 272.1,456.1C271.3,453.8 271.6,451.4 270.3,449.7C269.0,448.0 266.6,446.8 264.4,445.8C262.2,444.8 259.2,443.9 256.9,443.8C254.7,443.8 253.0,444.7 251.0,445.6C249.0,446.5 246.8,447.5 245.0,449.1C243.3,450.6 241.6,452.9 240.5,455.0C239.4,457.2 238.6,459.7 238.5,462.0C238.4,464.2 239.2,466.4 239.8,468.7C240.4,471.0 240.9,473.7 242.0,475.7C243.0,477.7 244.6,479.0 246.3,480.7C248.0,482.4 250.3,484.6 252.4,485.8C254.5,487.0 256.6,487.7 258.8,488.1C261.1,488.4 263.6,488.4 266.0,488.1C268.3,487.8 270.8,487.2 272.7,486.3C274.6,485.3 275.5,483.8 277.4,482.3C279.4,480.9 282.3,478.7 284.5,477.4C286.6,476.2 288.3,475.6 290.2,474.6C292.1,473.7 294.0,472.5 296.0,471.7C298.0,470.9 300.0,470.6 302.2,469.8C304.5,469.0 307.2,467.9 309.4,466.9C311.6,466.0 313.2,465.1 315.2,463.9C317.3,462.8 319.8,461.4 321.7,459.9C323.6,458.4 325.1,456.7 326.8,455.1C328.5,453.5 330.2,451.9 331.7,450.2C333.3,448.5 335.0,446.9 336.2,444.9C337.3,443.0 338.4,440.5 338.7,438.4C339.1,436.2 339.2,433.9 338.4,431.8C337.7,429.7 335.4,427.8 334.1,425.8C332.9,423.8 332.1,421.9 330.9,419.8C329.6,417.8 327.8,415.5 326.8,413.4C325.8,411.3 325.1,408.3 324.7,407.3"/>
<path class="tr" stroke="#f58231" d="M402.3,515.7C402.2,514.5 402.0,511.1 401.8,508.8C401.6,506.6 401.6,504.3 400.9,502.0C400.2,499.8 399.1,497.3 397.8,495.3C396.5,493.3 394.8,491.5 393.1,490.0C391.3,488.4 389.4,486.8 387.3,485.8C385.3,484.7 382.8,484.5 380.7,483.6C378.7,482.7 377.1,481.2 375.0,480.3C373.0,479.3 370.6,478.2 368.3,477.7C366.0,477.3 363.5,477.1 361.2,477.5C359.0,477.8 356.9,479.1 354.8,480.1C352.7,481.0 350.9,482.8 348.6,483.4C346.4,483.9 343.7,483.6 341.3,483.6C338.9,483.6 336.7,483.5 334.3,483.5C331.9,483.5 329.2,483.1 326.9,483.6C324.7,484.2 322.4,485.4 320.7,486.8C319.1,488.2 318.0,490.0 317.1,492.0C316.2,494.0 315.2,496.4 315.2,498.7C315.1,501.0 315.7,503.7 316.8,505.8C317.8,508.0 319.6,510.2 321.5,511.5C323.3,512.8 325.9,513.1 328.0,513.6C330.1,514.2 332.1,514.7 334.3,515.0C336.6,515.3 339.3,515.5 341.7,515.7C344.1,515.8 346.1,515.9 348.6,515.6C351.1,515.4 354.2,514.8 356.5,514.4C358.8,513.9 360.4,513.0 362.5,512.8C364.6,512.7 366.7,513.1 369.1,513.4C371.5,513.7 374.4,514.0 376.7,514.6C379.0,515.3 380.8,516.4 383.0,517.3C385.2,518.2 388.1,518.7 389.9,520.0C391.7,521.3 393.2,524.5 393.8,525.3"/>
<path class="tr" stroke="#911eb4" d="M278.9,355.3C277.4,353.8 273.1,349.7 269.8,346.2C266.6,342.7 262.3,337.9 259.3,334.1C256.2,330.3 254.2,326.8 251.7,323.5C249.2,320.3 246.9,317.7 244.1,314.5C241.4,311.2 238.1,307.7 235.1,303.9C232.0,300.1 228.3,295.6 226.0,291.8C223.7,288.0 222.2,284.7 221.5,281.2C220.7,277.7 220.7,272.6 221.5,270.6C222.2,268.6 224.0,268.8 226.0,269.1C228.0,269.3 231.0,270.4 233.5,272.1C236.1,273.9 238.3,276.4 241.1,279.7C243.9,283.0 247.4,287.7 250.2,291.8C253.0,295.8 255.0,299.8 257.7,303.9C260.5,307.9 263.8,311.4 266.8,316.0C269.8,320.5 272.9,326.0 275.9,331.1C278.9,336.1 283.4,343.7 285.0,346.2"/>
<path class="tr" stroke="#911eb4" style="stroke-width:4" d="M230.5,395.4C232.0,395.9 236.1,398.1 239.6,398.4C243.1,398.6 248.4,397.4 251.7,396.9C255.0,396.4 258.0,395.6 259.3,395.4"/>
<path class="tr" stroke="#911eb4" d="M236.6,434.7C235.8,436.2 233.5,440.7 232.0,443.8C230.5,446.8 227.8,449.3 227.5,452.8C227.2,456.4 229.0,461.9 230.5,464.9C232.0,467.9 235.6,470.0 236.6,471.0"/>
<path class="tr" stroke="#911eb4" d="M285.0,530.7C285.2,532.2 285.7,536.8 286.5,539.8C287.2,542.8 287.7,547.6 289.5,548.9C291.3,550.1 293.3,548.0 297.1,547.3C300.8,546.7 307.1,545.4 312.2,545.1C317.2,544.7 324.8,545.1 327.3,545.1"/>
<path class="tr" stroke="#911eb4" d="M413.4,532.2C415.4,531.7 421.7,529.4 425.5,529.2C429.3,528.9 433.3,529.7 436.1,530.7C438.9,531.7 440.9,533.5 442.1,535.2C443.4,537.0 444.7,540.0 443.6,541.3C442.6,542.6 438.9,542.6 436.1,542.8C433.3,543.1 428.5,542.8 427.0,542.8"/>
<path class="tr" stroke="#911eb4" d="M366.5,565.5C366.3,567.0 364.3,572.3 365.0,574.6C365.8,576.8 368.3,578.1 371.1,579.1C373.8,580.1 378.1,580.9 381.7,580.6C385.2,580.4 389.5,579.3 392.2,577.6C395.0,575.8 397.3,571.3 398.3,570.0"/>
<path class="tr" stroke="#911eb4" d="M258.5,432.9C257.6,432.1 255.4,429.1 253.4,428.1C251.4,427.1 248.5,427.0 246.3,426.7C244.0,426.3 242.0,426.0 239.8,426.0C237.5,425.9 234.9,425.9 232.7,426.4C230.5,427.0 228.6,427.8 226.7,429.1C224.7,430.4 222.5,432.3 221.0,434.3C219.6,436.3 218.4,438.8 218.0,441.1C217.6,443.3 217.9,445.6 218.6,447.7C219.2,449.8 220.5,452.0 221.9,453.7C223.4,455.5 225.6,456.7 227.3,458.2C229.0,459.7 230.7,461.1 232.1,462.9C233.5,464.6 234.5,466.8 235.7,468.8C236.8,470.8 237.8,472.9 239.2,474.9C240.6,476.8 242.3,479.1 244.1,480.5C245.9,482.0 247.9,483.0 250.0,483.5C252.1,483.9 254.3,483.9 256.6,483.4C258.8,482.8 261.5,481.8 263.4,480.4C265.3,479.0 266.5,476.7 268.1,475.0C269.7,473.3 271.1,471.9 272.8,470.2C274.4,468.6 276.0,466.6 277.8,465.1C279.6,463.5 281.8,462.1 283.7,461.0C285.7,459.9 287.3,459.7 289.2,458.5C291.2,457.3 293.5,455.5 295.4,453.9C297.3,452.3 299.4,450.8 300.6,448.9C301.7,446.9 302.4,444.3 302.5,442.2C302.7,440.1 301.9,438.3 301.5,436.1C301.0,433.9 301.0,430.8 299.8,428.9C298.5,427.1 296.2,425.5 294.0,424.8C291.9,424.2 288.9,424.4 286.7,425.0C284.4,425.5 281.9,426.6 280.5,428.2C279.0,429.7 278.4,431.9 278.0,434.1C277.7,436.3 277.9,439.0 278.3,441.4C278.7,443.7 279.3,445.8 280.2,448.0C281.2,450.1 282.8,452.4 284.0,454.4C285.2,456.4 286.4,457.9 287.5,459.9C288.6,461.8 289.7,463.9 290.7,466.0C291.6,468.1 292.6,470.2 293.4,472.4C294.1,474.6 295.2,476.9 295.2,479.1C295.3,481.4 294.4,483.6 293.4,485.9C292.5,488.2 291.2,491.1 289.6,492.8C287.9,494.5 285.8,495.5 283.6,495.9C281.3,496.4 278.4,496.2 276.1,495.7C273.8,495.2 271.3,494.1 269.7,492.7C268.0,491.3 267.1,489.6 266.0,487.5C264.9,485.4 263.3,482.5 263.1,480.3C263.0,478.0 264.7,476.2 265.3,473.9C265.9,471.6 266.3,468.8 266.8,466.5C267.4,464.2 267.8,462.4 268.3,460.1C268.8,457.8 269.4,454.9 270.0,452.6C270.5,450.4 271.3,448.8 271.6,446.7C272.0,444.6 272.3,442.3 272.3,439.8C272.2,437.4 272.1,434.4 271.3,432.0C270.6,429.5 268.8,427.5 267.8,425.4C266.8,423.3 266.3,421.2 265.4,419.1C264.6,417.0 263.3,413.9 262.8,412.9"/>
<path class="tr" stroke="#911eb4" d="M382.0,509.5C383.0,509.1 385.9,508.0 388.1,507.4C390.2,506.7 392.6,506.0 394.9,505.6C397.2,505.2 399.3,504.9 401.8,504.8C404.3,504.7 407.6,505.0 410.1,504.7C412.6,504.5 414.8,503.7 416.8,503.3C418.9,502.8 420.4,502.4 422.6,502.1C424.7,501.9 427.5,501.3 429.7,501.6C431.9,501.9 433.9,502.7 435.9,504.1C437.9,505.5 440.3,507.9 441.4,510.1C442.6,512.3 442.7,514.8 442.7,517.1C442.7,519.3 442.3,521.5 441.3,523.5C440.3,525.5 438.4,527.6 436.7,529.1C435.1,530.6 433.4,532.1 431.3,532.6C429.2,533.1 426.4,531.8 424.1,532.2C421.7,532.5 419.3,533.8 417.1,534.7C415.0,535.6 413.0,536.6 410.9,537.7C408.9,538.8 407.0,540.0 405.1,541.3C403.1,542.6 401.2,544.0 399.3,545.4C397.4,546.9 395.2,548.5 393.5,550.1C391.7,551.6 390.4,553.2 388.7,554.7C387.1,556.2 385.3,557.5 383.7,559.1C382.0,560.8 380.7,562.7 379.0,564.5C377.3,566.2 375.0,567.9 373.5,569.7C372.0,571.4 371.7,573.6 370.1,575.1C368.6,576.7 366.3,578.5 364.2,579.2C362.0,579.9 359.3,579.9 357.1,579.6C354.9,579.2 352.9,578.5 351.1,577.3C349.2,576.1 347.2,574.4 346.0,572.5C344.8,570.6 344.3,568.2 344.0,565.9C343.7,563.6 343.4,561.0 344.1,558.8C344.7,556.7 346.9,555.2 347.9,553.0C348.8,550.9 349.4,548.5 349.8,546.1C350.2,543.7 350.4,540.8 350.2,538.6C349.9,536.3 349.0,534.5 348.2,532.4C347.3,530.3 346.3,528.2 345.0,526.1C343.7,524.0 341.9,521.4 340.2,519.8C338.5,518.3 336.9,517.7 334.8,516.9C332.7,516.0 329.9,515.2 327.6,514.6C325.3,514.1 323.2,513.6 320.9,513.5C318.6,513.3 316.0,513.6 313.6,513.7C311.3,513.8 309.2,513.5 306.8,514.0C304.5,514.5 301.7,515.6 299.5,516.7C297.3,517.8 295.4,519.3 293.5,520.4C291.6,521.5 289.9,521.8 288.1,523.2C286.3,524.5 283.7,527.8 282.8,528.7"/>
<path class="tr" stroke="#42d4f4" d="M263.8,260.0C265.8,258.8 271.9,255.2 275.9,252.5C279.9,249.7 284.5,246.2 288.0,243.4C291.5,240.6 294.3,236.6 297.1,235.8C299.8,235.1 303.6,237.1 304.6,238.9C305.6,240.6 304.4,243.6 303.1,246.4C301.8,249.2 299.3,252.0 297.1,255.5C294.8,259.0 292.0,264.1 289.5,267.6C287.0,271.1 285.7,273.1 281.9,276.7C278.2,280.2 271.4,285.2 266.8,288.8C262.3,292.3 258.5,295.3 254.7,297.8C250.9,300.3 247.7,301.9 244.1,303.9C240.6,305.9 237.3,308.4 233.5,309.9C229.8,311.4 225.2,312.2 221.5,312.9C217.7,313.7 214.6,313.4 210.9,314.5C207.1,315.5 203.3,317.0 198.8,319.0C194.2,321.0 187.4,323.8 183.6,326.6C179.9,329.3 178.6,332.3 176.1,335.6C173.6,338.9 171.0,342.2 168.5,346.2C166.0,350.3 162.2,357.7 161.0,360.0"/>
<path class="tr" stroke="#42d4f4" d="M263.8,260.0C265.3,258.0 269.3,251.2 272.9,247.9C276.4,244.6 280.9,242.4 285.0,240.4C289.0,238.3 294.5,238.3 297.1,235.8C299.6,233.3 298.6,228.3 300.1,225.2C301.6,222.2 303.6,219.9 306.1,217.7C308.6,215.4 311.7,213.3 315.2,211.6C318.7,210.0 324.5,208.9 327.3,207.9C330.1,206.8 329.7,205.2 331.8,205.6C334.0,206.0 338.6,209.4 340.0,210.1"/>
<path class="tr" stroke="#42d4f4" d="M340.0,214.7C337.9,216.4 331.9,222.0 327.3,225.2C322.7,228.5 317.2,231.5 312.2,234.3C307.1,237.1 302.1,238.9 297.1,241.9C292.0,244.9 285.7,249.7 281.9,252.5C278.2,255.2 277.1,257.0 274.4,258.5C271.6,260.0 266.8,261.0 265.3,261.5"/>
<path class="tr" stroke="#42d4f4" d="M340.0,225.2C337.9,227.3 331.9,233.3 327.3,237.3C322.7,241.4 316.7,245.4 312.2,249.4C307.6,253.5 303.9,257.5 300.1,261.5C296.3,265.6 293.0,269.6 289.5,273.6C286.0,277.7 282.7,282.2 278.9,285.7C275.1,289.3 271.4,291.8 266.8,294.8C262.3,297.8 256.7,300.3 251.7,303.9C246.7,307.4 241.6,312.4 236.6,316.0C231.5,319.5 226.5,322.0 221.5,325.0C216.4,328.1 211.4,330.6 206.3,334.1C201.3,337.6 196.2,341.9 191.2,346.2C186.2,350.5 178.6,357.7 176.1,360.0"/>
<path class="tr" stroke="#42d4f4" d="M340.0,235.8C338.9,239.1 336.0,249.2 333.3,255.5C330.7,261.8 327.3,267.6 324.3,273.6C321.2,279.7 318.2,285.7 315.2,291.8C312.2,297.8 309.2,303.9 306.1,309.9C303.1,316.0 300.1,322.0 297.1,328.1C294.0,334.1 289.5,343.2 288.0,346.2"/>
<path class="tr" stroke="#42d4f4" d="M289.5,273.6C288.2,275.6 284.5,281.2 281.9,285.7C279.4,290.3 276.9,295.8 274.4,300.8C271.9,305.9 268.1,313.4 266.8,316.0"/>
<path class="tr" stroke="#42d4f4" d="M300.0,225.2C301.5,223.5 305.8,217.2 309.1,214.7C312.3,212.1 316.1,211.6 319.7,210.1C323.2,208.6 327.7,205.8 330.2,205.6C332.8,205.3 332.8,208.5 334.8,208.6C336.8,208.7 339.8,207.0 342.3,206.3C344.9,205.7 348.3,204.2 349.9,204.8C351.5,205.5 352.2,208.0 352.2,210.1C352.2,212.3 351.0,215.4 349.9,217.7C348.8,219.9 346.6,221.7 345.4,223.7C344.1,225.7 343.6,226.5 342.3,229.8C341.1,233.1 339.8,238.6 337.8,243.4C335.8,248.2 332.8,254.0 330.2,258.5C327.7,263.0 325.2,266.6 322.7,270.6C320.2,274.6 317.6,278.4 315.1,282.7C312.6,287.0 310.1,291.8 307.6,296.3C305.0,300.8 301.3,307.7 300.0,309.9"/>
<path class="tr" stroke="#42d4f4" d="M334.8,208.6C335.5,209.4 337.8,210.9 339.3,213.1C340.8,215.4 343.1,220.7 343.9,222.2"/>
<path class="tr" stroke="#42d4f4" d="M300.0,235.8C302.0,234.6 308.1,230.8 312.1,228.3C316.1,225.7 320.2,223.0 324.2,220.7C328.2,218.4 332.8,216.7 336.3,214.7C339.8,212.6 343.9,209.6 345.4,208.6"/>
<path class="tr" stroke="#42d4f4" d="M300.0,244.9C301.0,243.6 305.5,236.1 306.0,237.3C306.6,238.6 304.0,248.7 303.0,252.5C302.0,256.2 300.5,258.8 300.0,260.0"/>
<path class="tr" stroke="#42d4f4" d="M300.0,263.0C302.0,261.3 308.1,256.0 312.1,252.5C316.1,248.9 320.2,245.4 324.2,241.9C328.2,238.3 333.0,234.3 336.3,231.3C339.6,228.3 342.6,225.0 343.9,223.7"/>
<path class="tr" stroke="#42d4f4" d="M164.0,350.0C163.2,351.5 161.0,355.8 159.5,359.1C157.9,362.3 156.4,366.4 154.9,369.7C153.4,372.9 152.1,376.2 150.4,378.7C148.6,381.2 146.4,383.0 144.3,384.8C142.3,386.5 138.5,388.8 138.3,389.3C138.0,389.8 141.1,389.3 142.8,387.8C144.6,386.3 146.4,382.8 148.9,380.2C151.4,377.7 154.7,374.9 157.9,372.7C161.2,370.4 165.0,368.9 168.5,366.6C172.1,364.4 175.3,361.8 179.1,359.1C182.9,356.3 189.2,351.5 191.2,350.0"/>
<path class="tr" stroke="#42d4f4" d="M97.5,515.0C97.2,513.9 96.7,512.3 95.9,508.8C95.2,505.2 93.9,499.2 92.9,493.6C91.9,488.1 91.2,481.8 89.9,475.5C88.6,469.2 86.9,462.1 85.4,455.8C83.9,449.5 82.3,443.2 80.8,437.7C79.3,432.2 77.8,427.6 76.3,422.6C74.8,417.5 73.0,412.0 71.8,407.5C70.5,402.9 69.0,398.6 68.7,395.4C68.5,392.1 68.7,388.6 70.2,387.8C71.8,387.0 75.0,388.8 77.8,390.8C80.6,392.8 83.9,395.9 86.9,399.9C89.9,403.9 93.2,409.7 95.9,415.0C98.7,420.3 101.0,426.1 103.5,431.7C106.0,437.2 108.3,443.0 111.1,448.3C113.8,453.6 117.1,458.4 120.1,463.4C123.2,468.4 126.4,473.7 129.2,478.5C132.0,483.3 134.0,487.9 136.8,492.1C139.5,496.4 142.3,501.2 145.8,504.2C149.4,507.3 154.7,508.8 157.9,510.3C161.2,511.8 163.0,514.6 165.5,513.3C168.0,512.0 170.0,506.0 173.1,502.7C176.1,499.4 179.9,497.2 183.6,493.6C187.4,490.1 192.0,485.3 195.7,481.6C199.5,477.8 203.3,474.7 206.3,471.0C209.4,467.2 211.4,462.7 213.9,458.9C216.4,455.1 218.9,451.8 221.5,448.3C224.0,444.8 226.7,441.5 229.0,437.7C231.3,433.9 233.3,429.6 235.1,425.6C236.8,421.6 238.1,417.3 239.6,413.5C241.1,409.7 242.1,405.9 244.1,402.9C246.1,399.9 249.2,395.9 251.7,395.4C254.2,394.9 258.5,397.4 259.3,399.9C260.0,402.4 258.0,407.5 256.2,410.5C254.5,413.5 249.9,416.8 248.7,418.0"/>
<path class="tr" stroke="#42d4f4" d="M236.6,372.7C236.1,374.4 233.5,380.0 233.5,383.3C233.5,386.5 234.1,390.6 236.6,392.3C239.1,394.1 244.9,393.9 248.7,393.9C252.4,393.9 257.5,392.6 259.3,392.3"/>
<path class="tr" stroke="#42d4f4" d="M94.4,505.0C95.2,507.0 97.5,513.1 99.0,517.1C100.5,521.1 102.0,525.2 103.5,529.2C105.0,533.2 106.5,537.3 108.0,541.3C109.6,545.3 111.4,550.4 112.6,553.4C113.7,556.4 114.5,558.4 114.8,559.4"/>
<path class="tr" stroke="#42d4f4" d="M425.5,523.1C427.3,522.6 431.8,520.9 436.1,520.1C440.4,519.4 446.2,518.6 451.2,518.6C456.3,518.6 461.8,518.6 466.3,520.1C470.9,521.6 474.9,525.2 478.4,527.7C482.0,530.2 486.0,534.0 487.5,535.2"/>
<path class="tr" stroke="#42d4f4" d="M446.7,554.9C447.7,554.4 451.0,551.6 452.7,551.9C454.5,552.1 455.0,555.9 457.3,556.4C459.5,556.9 463.1,555.4 466.3,554.9C469.6,554.4 475.2,553.6 476.9,553.4"/>
<path class="tr" stroke="#42d4f4" d="M481.5,562.5C480.9,563.5 480.2,566.5 478.4,568.5C476.7,570.5 472.6,572.5 470.9,574.6C469.1,576.6 468.3,579.6 467.8,580.6"/>
<path class="tr" stroke="#42d4f4" d="M442.1,570.0C440.6,571.3 436.6,574.8 433.1,577.6C429.5,580.4 424.7,583.6 421.0,586.7C417.2,589.7 413.4,593.2 410.4,595.7C407.4,598.2 403.1,600.3 402.8,601.8C402.6,603.3 407.4,603.3 408.9,604.8C410.4,606.3 409.9,610.3 411.9,610.8C413.9,611.4 416.9,609.1 421.0,607.8C425.0,606.6 432.1,604.8 436.1,603.3C440.1,601.8 443.6,599.5 445.2,598.8"/>
<path class="tr" stroke="#42d4f4" d="M413.4,598.8C415.2,598.0 420.2,595.3 424.0,594.2C427.8,593.1 432.1,592.4 436.1,591.9C440.1,591.4 444.4,591.6 448.2,591.2C452.0,590.8 455.7,590.4 458.8,589.7C461.8,588.9 465.1,587.2 466.3,586.7"/>
<path class="tr" stroke="#42d4f4" d="M457.3,598.8C458.8,599.0 463.6,600.8 466.3,600.3C469.1,599.8 471.6,597.2 473.9,595.7C476.2,594.2 478.4,590.7 479.9,591.2C481.5,591.7 482.0,595.5 483.0,598.8C484.0,602.0 485.7,606.8 486.0,610.8C486.2,614.9 485.7,619.2 484.5,622.9C483.2,626.7 480.7,632.0 478.4,633.5C476.2,635.0 472.9,633.5 470.9,632.0C468.9,630.5 467.6,624.5 466.3,624.5C465.1,624.5 464.1,629.5 463.3,632.0C462.6,634.5 460.8,637.8 461.8,639.6C462.8,641.3 466.6,641.1 469.4,642.6C472.1,644.1 475.2,647.3 478.4,648.6C481.7,650.0 484.7,650.4 489.0,650.9C493.3,651.4 502.9,651.3 504.1,651.7C505.4,652.1 500.4,652.9 496.6,653.2C492.8,653.4 486.5,652.2 481.5,653.2C476.4,654.2 471.4,657.2 466.3,659.2C461.3,661.2 455.2,663.9 451.2,665.3C447.2,666.7 445.2,668.1 442.1,667.6C439.1,667.0 436.6,664.1 433.1,662.3C429.5,660.4 425.0,658.5 421.0,656.2C416.9,653.9 412.1,651.2 408.9,648.6C405.6,646.1 403.1,644.1 401.3,641.1C399.5,638.1 400.1,633.5 398.3,630.5C396.5,627.5 391.5,625.5 390.7,622.9C390.0,620.4 391.7,618.7 393.8,615.4C395.8,612.1 401.3,605.3 402.8,603.3"/>
<path class="tr" stroke="#42d4f4" d="M273.1,420.4C273.3,421.3 273.7,424.0 274.3,425.9C274.9,427.8 275.6,430.2 276.8,431.8C278.1,433.4 280.0,434.8 281.8,435.5C283.6,436.3 285.6,436.0 287.5,436.4C289.5,436.7 291.9,437.5 293.7,437.5C295.6,437.6 296.8,437.3 298.6,436.8C300.3,436.3 302.9,435.6 304.4,434.4C306.0,433.1 307.3,430.9 307.8,429.1C308.3,427.4 307.6,425.7 307.3,423.8C307.0,422.0 306.9,419.6 306.1,417.9C305.3,416.3 304.1,414.8 302.5,413.8C300.9,412.8 298.5,412.5 296.4,411.9C294.4,411.4 292.3,411.0 290.3,410.4C288.4,409.8 286.6,409.2 284.9,408.2C283.2,407.2 281.2,405.9 280.1,404.4C278.9,402.9 278.7,401.1 278.1,399.3C277.6,397.5 276.9,395.5 276.8,393.5C276.7,391.5 276.8,389.2 277.4,387.4C278.0,385.7 279.2,384.5 280.4,382.8C281.6,381.1 282.9,378.7 284.5,377.4C286.1,376.1 288.1,375.6 289.9,374.9C291.7,374.2 293.4,373.3 295.2,373.2C297.1,373.1 299.2,373.4 301.0,374.1C302.9,374.9 304.9,376.0 306.3,377.5C307.8,378.9 309.1,381.0 309.7,382.9C310.3,384.7 310.2,386.6 309.9,388.5C309.7,390.4 309.3,392.6 308.3,394.3C307.2,396.0 305.7,397.6 303.8,398.7C302.0,399.7 299.3,400.3 297.3,400.5C295.2,400.7 293.5,399.7 291.5,399.6C289.6,399.6 287.5,399.9 285.5,400.0C283.5,400.0 281.6,400.2 279.7,400.0C277.8,399.8 276.0,399.1 274.0,398.8C272.0,398.4 269.6,398.2 267.6,397.8C265.6,397.4 264.0,397.0 262.1,396.4C260.2,395.7 258.0,394.6 256.2,393.8C254.4,393.0 252.9,392.8 251.2,391.7C249.6,390.6 247.8,388.8 246.4,387.4C244.9,386.1 243.7,385.1 242.5,383.5C241.3,382.0 239.7,378.9 239.2,378.0"/>
<path class="tr" stroke="#42d4f4" d="M286.9,526.8C285.9,526.9 283.3,527.4 281.2,527.6C279.1,527.8 276.4,528.4 274.5,528.0C272.5,527.6 270.9,526.4 269.4,525.1C268.0,523.9 266.5,522.5 265.8,520.6C265.1,518.7 265.6,515.7 265.2,513.8C264.8,511.8 263.7,510.7 263.5,508.9C263.3,507.2 263.5,504.9 263.8,503.0C264.2,501.2 264.7,499.6 265.7,497.7C266.6,495.8 268.1,493.2 269.5,491.7C270.9,490.1 272.7,489.5 274.1,488.3C275.6,487.1 276.4,485.4 278.1,484.4C279.8,483.3 282.5,482.9 284.3,482.0C286.2,481.1 287.2,479.4 289.1,478.9C291.0,478.5 293.7,478.8 295.8,479.3C297.9,479.8 300.1,480.8 301.6,481.8C303.2,482.8 303.6,484.0 305.1,485.2C306.6,486.4 309.1,487.9 310.8,489.1C312.6,490.3 314.0,491.5 315.7,492.3C317.4,493.1 319.0,493.5 321.0,493.9C323.0,494.2 325.6,494.4 327.7,494.4C329.8,494.4 331.8,494.6 333.5,493.8C335.2,493.0 336.8,491.1 338.0,489.4C339.1,487.6 339.9,485.2 340.4,483.4C340.8,481.5 341.0,480.2 340.7,478.4C340.4,476.5 338.8,473.4 338.4,472.4"/>
<circle cx="115.6" cy="570.0" r="10.7" fill="#898989"/>
<circle cx="115.6" cy="570.0" r="6.0" fill="none" stroke="#fff" stroke-width="1.9"/>
<circle cx="486.0" cy="550.4" r="10.8" fill="#878787"/>
<path class="tr" stroke="#f032e6" d="M399.8,449.8C401.3,449.3 405.3,448.0 408.9,446.8C412.4,445.5 417.2,443.5 421.0,442.2C424.7,441.0 428.5,439.7 431.6,439.2C434.6,438.7 437.9,439.2 439.1,439.2"/>
<path class="tr" stroke="#f032e6" style="stroke-width:5" d="M421.0,449.8C422.5,450.8 427.3,454.8 430.0,455.8C432.8,456.9 436.3,455.8 437.6,455.8"/>
<path class="tr" stroke="#f032e6" style="stroke-width:4" d="M424.0,466.4C425.5,465.4 430.8,462.4 433.1,460.4C435.3,458.4 436.8,455.3 437.6,454.3"/>
<path class="tr" stroke="#f032e6" style="stroke-width:5" d="M411.9,478.5 L417.9,474.0"/>
<path class="tr" stroke="#f032e6" style="stroke-width:4" d="M426.0,469.3C425.4,469.9 424.0,471.7 422.5,473.0C421.1,474.2 419.2,475.5 417.3,476.7C415.5,478.0 413.2,479.4 411.4,480.4C409.5,481.5 407.9,481.8 406.4,483.1C404.9,484.3 403.7,486.2 402.4,487.6C401.0,489.0 400.0,490.5 398.4,491.4C396.7,492.4 394.8,493.3 392.6,493.5C390.5,493.8 387.4,493.5 385.5,492.9C383.7,492.3 382.7,491.2 381.6,489.9C380.5,488.5 379.5,486.9 378.8,485.0C378.1,483.0 377.2,480.2 377.4,478.3C377.6,476.4 379.0,475.0 380.2,473.3C381.5,471.7 383.2,469.4 384.9,468.3C386.6,467.2 388.7,467.4 390.5,466.6C392.2,465.8 394.3,464.8 395.6,463.5C397.0,462.2 397.6,460.3 398.7,458.8C399.9,457.4 401.7,456.5 402.6,454.7C403.6,453.0 404.0,450.1 404.5,448.1C404.9,446.1 405.0,444.6 405.2,442.7C405.4,440.7 405.2,438.3 405.7,436.3C406.2,434.4 407.2,432.5 408.3,430.9C409.4,429.3 410.8,427.6 412.6,426.8C414.4,426.0 417.0,425.7 419.0,425.8C420.9,425.9 422.3,426.5 424.1,427.4C425.8,428.3 428.2,429.6 429.5,431.1C430.8,432.6 431.7,434.6 432.0,436.5C432.3,438.4 431.4,440.3 431.4,442.3C431.3,444.3 431.5,446.7 431.6,448.7C431.7,450.6 432.2,452.0 432.1,454.0C432.0,455.9 431.0,458.3 431.2,460.4C431.4,462.6 432.6,464.9 433.2,466.8C433.8,468.7 434.0,470.0 434.8,471.8C435.5,473.6 436.4,475.9 437.7,477.5C439.0,479.1 440.8,480.0 442.6,481.3C444.3,482.5 446.2,484.1 448.1,485.0C449.9,485.8 451.6,486.0 453.6,486.1C455.5,486.2 457.8,486.1 459.7,485.6C461.5,485.0 463.0,483.9 464.4,482.6C465.8,481.2 467.4,479.4 467.9,477.6C468.5,475.7 468.1,473.5 467.8,471.4C467.5,469.3 467.1,466.9 466.2,465.2C465.3,463.6 464.0,462.3 462.5,461.3C460.9,460.3 459.0,459.8 457.0,459.3C455.1,458.8 452.6,458.3 450.7,458.4C448.7,458.4 447.3,459.9 445.4,459.5C443.4,459.2 441.0,457.1 439.0,456.4C437.1,455.7 435.3,456.0 433.7,455.2C432.0,454.3 430.7,452.5 429.1,451.5C427.4,450.5 425.6,449.6 423.5,449.0C421.5,448.5 418.6,448.0 416.6,448.2C414.7,448.4 413.4,449.4 412.0,450.5C410.5,451.5 408.9,452.7 408.2,454.4C407.4,456.2 407.2,459.0 407.4,461.0C407.5,463.1 408.3,465.1 409.3,466.7C410.3,468.2 411.8,469.4 413.4,470.5C414.9,471.6 416.6,472.8 418.4,473.2C420.3,473.6 422.4,472.7 424.4,473.0C426.4,473.2 428.3,474.0 430.2,474.6C432.1,475.3 434.3,475.9 435.9,477.0C437.4,478.1 439.0,480.6 439.6,481.3"/>
<path class="tr" stroke="#f032e6" d="M358.4,532.8C359.2,532.2 361.8,530.4 362.9,528.8C364.0,527.1 364.1,524.7 365.1,522.9C366.1,521.1 368.0,519.6 368.9,517.9C369.8,516.1 369.8,514.2 370.4,512.3C371.0,510.4 372.3,508.5 372.4,506.5C372.4,504.5 371.2,502.4 370.8,500.4C370.5,498.3 371.0,496.2 370.3,494.3C369.7,492.5 368.1,490.8 366.8,489.1C365.6,487.5 364.3,485.6 363.0,484.2C361.6,482.8 360.2,481.9 358.7,480.8C357.2,479.7 355.8,478.2 353.9,477.4C352.1,476.7 349.4,476.3 347.5,476.4C345.5,476.6 343.7,477.5 342.2,478.5C340.7,479.4 339.6,480.7 338.4,482.1C337.2,483.4 336.1,484.7 334.8,486.4C333.6,488.1 331.8,490.3 330.9,492.2C330.1,494.1 329.9,495.7 329.7,497.7C329.5,499.7 329.5,502.1 329.4,504.2C329.4,506.3 329.2,508.4 329.3,510.4C329.4,512.3 329.7,514.2 330.3,515.9C330.8,517.7 331.7,519.1 332.4,521.0C333.1,522.9 333.7,525.4 334.4,527.3C335.1,529.2 335.6,530.5 336.4,532.3C337.3,534.0 338.6,535.9 339.4,537.7C340.2,539.6 339.9,541.8 341.2,543.4C342.5,545.0 345.5,546.2 347.4,547.1C349.3,548.0 350.8,548.9 352.6,548.8C354.4,548.7 356.5,547.5 358.2,546.7C359.9,545.8 361.7,545.1 362.9,543.7C364.0,542.3 364.7,539.2 365.1,538.3"/>
<path class="tr" stroke="#bfef45" d="M288.0,352.3C287.0,350.0 284.0,342.9 281.9,338.6C279.9,334.4 278.4,331.1 275.9,326.6C273.4,322.0 269.6,316.0 266.8,311.4C264.0,306.9 261.8,303.6 259.3,299.3C256.7,295.1 254.5,290.0 251.7,285.7C248.9,281.4 245.4,276.4 242.6,273.6C239.8,270.9 237.0,269.1 235.1,269.1C233.2,269.1 231.5,270.9 231.3,273.6C231.0,276.4 232.4,281.2 233.5,285.7C234.7,290.3 236.3,295.8 238.1,300.8C239.8,305.9 242.1,310.9 244.1,316.0C246.1,321.0 248.2,326.0 250.2,331.1C252.2,336.1 254.5,341.4 256.2,346.2C258.0,351.0 260.0,357.7 260.8,360.0"/>
<path class="tr" stroke="#bfef45" d="M263.8,505.0C262.8,506.3 259.5,509.5 257.7,512.6C256.0,515.6 254.2,519.4 253.2,523.1C252.2,526.9 250.7,534.0 251.7,535.2C252.7,536.5 256.2,532.5 259.3,530.7C262.3,528.9 266.6,526.7 269.8,524.7C273.1,522.6 277.4,519.6 278.9,518.6"/>
<path class="tr" stroke="#bfef45" d="M340.8,527.7C341.1,530.2 341.6,538.3 342.3,542.8C343.1,547.3 343.6,551.6 345.4,554.9C347.1,558.2 349.9,560.7 352.9,562.5C355.9,564.2 361.7,565.0 363.5,565.5"/>
<path class="tr" stroke="#bfef45" d="M381.7,565.5C382.7,567.5 385.9,573.5 387.7,577.6C389.5,581.6 391.0,585.1 392.2,589.7C393.5,594.2 394.5,599.8 395.3,604.8C396.0,609.8 395.0,615.1 396.8,619.9C398.5,624.7 402.3,629.0 405.8,633.5C409.4,638.1 413.9,642.6 417.9,647.1C422.0,651.7 426.5,656.9 430.0,660.7C433.6,664.6 437.6,668.4 439.1,670.0"/>
<path class="tr" stroke="#bfef45" d="M412.6,640.0C414.6,642.0 420.6,648.1 424.7,652.1C428.7,656.1 433.5,660.4 436.8,664.2C440.1,668.0 442.3,671.2 444.3,674.8C446.4,678.3 446.6,682.1 448.9,685.4C451.1,688.6 454.7,691.7 457.9,694.4C461.2,697.2 465.3,699.2 468.5,702.0C471.8,704.8 474.8,707.5 477.6,711.1C480.4,714.6 482.9,719.4 485.2,723.2C487.4,726.9 489.2,730.0 491.2,733.8C493.2,737.5 495.2,742.1 497.3,745.8C499.3,749.6 501.3,753.2 503.3,756.4C505.3,759.7 508.3,764.0 509.4,765.5"/>
<path class="tr" stroke="#bfef45" d="M260.8,350.0C261.8,352.5 264.3,360.1 266.8,365.1C269.3,370.2 272.9,375.2 275.9,380.2C278.9,385.3 281.9,390.8 285.0,395.4C288.0,399.9 292.5,405.4 294.0,407.5"/>
<path class="tr" stroke="#bfef45" d="M325.3,498.7C326.5,498.6 329.9,498.4 332.3,498.2C334.7,498.0 337.2,497.9 339.5,497.6C341.9,497.2 343.9,496.4 346.2,496.0C348.5,495.7 350.9,495.7 353.2,495.4C355.6,495.1 357.9,494.5 360.2,494.4C362.5,494.2 364.5,494.7 366.8,494.5C369.0,494.4 371.4,493.7 373.7,493.3C376.0,492.8 378.1,492.4 380.6,492.0C383.1,491.7 386.5,491.5 388.8,491.3C391.2,491.0 392.4,490.7 394.5,490.4C396.7,490.1 400.0,490.4 402.0,489.4C404.0,488.3 405.3,486.1 406.6,484.1C407.9,482.1 409.4,479.6 409.9,477.4C410.3,475.1 410.0,472.7 409.4,470.5C408.7,468.4 407.5,466.4 406.0,464.6C404.6,462.9 402.4,460.8 400.5,459.9C398.5,458.9 396.5,459.1 394.3,458.8C392.0,458.6 389.5,458.7 387.1,458.4C384.7,458.2 382.2,457.6 380.0,457.3C377.8,457.1 376.3,456.8 373.9,457.0C371.6,457.1 368.4,457.7 366.0,458.1C363.6,458.5 361.6,458.7 359.5,459.5C357.3,460.4 354.7,461.7 353.0,463.2C351.3,464.8 350.4,466.9 349.3,468.8C348.2,470.7 347.5,472.6 346.5,474.7C345.5,476.7 344.1,478.9 343.3,481.2C342.5,483.4 342.4,486.1 341.6,488.3C340.8,490.5 339.8,492.5 338.5,494.5C337.3,496.4 335.8,498.3 334.1,500.0C332.5,501.6 330.5,503.4 328.6,504.5C326.6,505.7 324.8,506.7 322.5,506.8C320.2,507.0 317.1,506.3 314.8,505.5C312.5,504.8 310.4,503.9 308.7,502.5C307.0,501.1 305.4,499.5 304.6,497.4C303.8,495.3 303.5,492.2 304.1,489.9C304.6,487.7 306.3,485.6 307.9,484.0C309.6,482.4 311.5,481.0 313.7,480.4C315.9,479.8 318.8,480.1 321.2,480.5C323.6,480.8 326.1,481.4 328.2,482.5C330.4,483.6 333.1,486.3 334.0,487.1"/>
<circle cx="511.6" cy="777.6" r="10.8" fill="#878787"/>
<circle cx="265.3" cy="319.0" r="10.8" fill="#878787"/>
<path class="tr" stroke="#fabed4" d="M265.3,331.1C266.3,333.1 269.1,339.4 271.4,343.2C273.6,347.0 276.6,351.0 278.9,353.8C281.2,356.6 284.0,358.9 285.0,360.0"/>
<path class="tr" stroke="#fabed4" d="M377.1,378.7C379.4,377.5 385.9,373.4 390.7,371.2C395.5,368.9 400.8,366.8 405.8,365.1C410.9,363.5 415.9,361.8 421.0,361.3C426.0,360.8 431.0,361.2 436.1,362.1C441.1,363.0 446.9,364.6 451.2,366.6C455.5,368.6 459.0,371.2 461.8,374.2C464.6,377.2 466.6,381.2 467.8,384.8C469.1,388.3 469.9,391.6 469.4,395.4C468.9,399.1 466.3,403.9 464.8,407.5C463.3,411.0 461.8,413.8 460.3,416.5C458.8,419.3 458.3,421.8 455.7,424.1C453.2,426.4 445.9,430.6 445.2,430.1C444.4,429.6 448.7,422.1 451.2,421.1C453.7,420.1 458.3,422.1 460.3,424.1C462.3,426.1 463.1,429.4 463.3,433.2C463.6,436.9 462.6,442.5 461.8,446.8C461.0,451.1 460.0,454.8 458.8,458.9C457.5,462.9 455.7,466.9 454.2,471.0C452.7,475.0 451.0,479.3 449.7,483.1C448.4,486.8 447.2,491.9 446.7,493.6"/>
<path class="tr" stroke="#fabed4" d="M390.7,405.9C392.7,404.4 398.3,398.9 402.8,396.9C407.4,394.9 413.2,393.6 417.9,393.9C422.7,394.1 428.0,396.4 431.6,398.4C435.1,400.4 437.1,403.4 439.1,405.9C441.1,408.5 444.2,411.5 443.6,413.5C443.1,415.5 439.1,416.8 436.1,418.0C433.1,419.3 429.0,419.8 425.5,421.1C422.0,422.3 417.4,423.8 414.9,425.6C412.4,427.4 411.1,430.6 410.4,431.7"/>
<path class="tr" stroke="#fabed4" d="M425.5,437.7C427.3,437.4 432.8,436.7 436.1,436.2C439.4,435.7 443.6,434.9 445.2,434.7"/>
<path class="tr" stroke="#fabed4" d="M207.8,471.0C208.1,472.5 208.6,477.0 209.4,480.0C210.1,483.1 210.9,486.1 212.4,489.1C213.9,492.1 215.7,496.2 218.4,498.2C221.2,500.2 224.7,501.7 229.0,501.2C233.3,500.7 240.4,497.7 244.1,495.2C247.9,492.6 250.4,487.6 251.7,486.1"/>
<path class="tr" stroke="#fabed4" d="M207.8,471.0C209.6,470.0 214.6,466.9 218.4,464.9C222.2,462.9 226.5,460.6 230.5,458.9C234.6,457.1 240.6,455.1 242.6,454.3"/>
<path class="tr" stroke="#fabed4" d="M206.3,515.0C208.3,513.7 214.4,509.8 218.4,507.3C222.5,504.7 228.5,501.0 230.5,499.7"/>
<path class="tr" stroke="#fabed4" d="M248.7,505.0C246.7,506.8 241.1,511.6 236.6,515.6C232.0,519.6 226.5,524.4 221.5,529.2C216.4,534.0 211.4,539.3 206.3,544.3C201.3,549.4 196.2,554.6 191.2,559.4C186.2,564.2 181.1,568.5 176.1,573.0C171.0,577.6 165.0,583.1 161.0,586.7C156.9,590.2 154.9,592.3 151.9,594.2C148.9,596.1 146.4,597.7 142.8,598.0C139.3,598.2 134.3,596.9 130.7,595.7C127.2,594.6 122.2,593.5 121.7,591.2C121.1,588.9 124.9,585.4 127.7,582.1C130.5,578.8 134.0,575.3 138.3,571.5C142.6,567.8 148.4,563.5 153.4,559.4C158.4,555.4 163.5,551.9 168.5,547.3C173.6,542.8 178.6,537.0 183.6,532.2C188.7,527.4 193.7,522.6 198.8,518.6C203.8,514.6 210.1,510.3 213.9,508.0C217.7,505.8 220.2,505.5 221.5,505.0"/>
<path class="tr" stroke="#fabed4" d="M411.9,532.2C414.2,531.0 421.0,527.7 425.5,524.7C430.0,521.6 436.8,515.8 439.1,514.1"/>
<path class="tr" stroke="#fabed4" d="M300.0,541.3C302.5,541.5 310.1,542.3 315.1,542.8C320.2,543.3 327.7,544.1 330.2,544.3"/>
<path class="tr" stroke="#fabed4" d="M288.6,500.8C287.4,500.5 283.5,499.7 280.9,499.1C278.3,498.4 275.7,497.3 273.2,496.9C270.6,496.5 268.5,496.7 265.8,496.6C263.1,496.5 259.9,496.2 257.0,496.1C254.0,496.0 251.1,496.1 248.4,495.9C245.6,495.8 242.9,495.9 240.5,495.2C238.0,494.5 235.7,493.1 233.8,491.5C231.8,489.8 230.0,487.8 229.0,485.4C228.0,483.1 227.6,480.0 227.8,477.3C228.0,474.5 229.9,471.5 230.3,468.9C230.6,466.2 229.9,463.9 230.0,461.3C230.0,458.6 230.7,455.6 230.6,453.0C230.4,450.3 229.4,447.9 229.2,445.3C229.0,442.7 228.9,440.0 229.2,437.5C229.5,434.9 229.9,432.2 231.2,430.0C232.4,427.9 234.7,426.0 236.9,424.6C239.0,423.2 241.7,422.1 244.2,421.6C246.6,421.2 249.2,421.4 251.7,422.1C254.2,422.9 257.3,424.5 259.2,426.4C261.1,428.2 262.2,431.1 263.3,433.4C264.3,435.7 264.8,437.8 265.3,440.3C265.7,442.8 266.4,445.8 266.0,448.5C265.6,451.1 264.5,454.1 263.0,456.2C261.5,458.4 259.1,460.0 257.0,461.5C254.8,463.0 252.7,464.5 250.2,465.3C247.7,466.1 244.9,466.3 242.2,466.2C239.5,466.0 236.5,465.4 234.0,464.4C231.5,463.3 228.9,461.7 227.2,459.9C225.5,458.0 224.8,455.7 224.0,453.3C223.2,450.9 222.6,448.3 222.4,445.6C222.2,442.9 222.2,439.4 223.0,437.0C223.7,434.5 225.1,432.7 226.8,431.0C228.6,429.2 231.1,427.5 233.5,426.4C236.0,425.4 239.1,424.6 241.7,424.8C244.4,425.0 247.4,426.1 249.6,427.5C251.8,428.9 253.5,431.1 255.0,433.1C256.6,435.1 257.6,437.3 259.1,439.6C260.5,441.9 262.4,444.4 263.6,446.8C264.9,449.1 265.7,451.1 266.7,453.5C267.7,455.9 269.1,458.4 269.5,461.1C270.0,463.8 269.8,467.0 269.4,469.5C268.9,472.1 268.0,474.1 266.9,476.4C265.7,478.7 264.3,481.4 262.3,483.3C260.3,485.3 257.3,487.0 254.9,488.1C252.4,489.3 248.7,489.8 247.4,490.1"/>
<path class="tr" stroke="#fabed4" d="M332.6,472.4C333.8,473.0 337.5,475.1 340.0,475.9C342.5,476.6 345.0,476.9 347.6,476.9C350.3,476.9 353.3,476.5 355.8,475.9C358.4,475.3 360.4,474.2 363.0,473.3C365.6,472.4 368.7,471.2 371.2,470.3C373.7,469.4 375.5,468.7 378.0,468.0C380.6,467.4 383.8,466.8 386.5,466.6C389.1,466.3 391.5,466.4 394.1,466.4C396.6,466.4 399.0,466.2 401.7,466.3C404.3,466.4 407.2,466.6 410.0,466.9C412.7,467.2 415.8,467.9 418.4,468.1C421.0,468.3 423.1,467.6 425.5,468.2C428.0,468.7 431.1,469.8 433.0,471.6C435.0,473.3 436.4,476.2 437.3,478.5C438.1,480.9 438.5,483.1 438.3,485.8C438.0,488.5 436.9,492.2 435.7,494.5C434.4,496.8 432.7,498.2 430.7,499.6C428.6,501.0 425.9,502.5 423.4,502.9C421.0,503.3 418.6,502.0 415.9,502.0C413.3,502.1 410.4,502.7 407.6,503.2C404.8,503.7 401.7,504.8 399.1,505.2C396.6,505.5 394.7,505.2 392.1,505.2C389.6,505.2 386.8,505.3 384.0,505.0C381.1,504.7 377.8,504.3 375.2,503.6C372.6,502.8 370.4,501.7 368.3,500.5C366.1,499.2 364.1,497.6 362.1,495.9C360.2,494.2 358.1,492.4 356.7,490.1C355.3,487.8 354.4,484.7 354.0,482.1C353.5,479.4 353.4,476.5 353.9,474.0C354.4,471.6 355.4,469.4 356.8,467.3C358.2,465.1 360.4,462.8 362.5,461.2C364.5,459.6 366.8,458.1 369.2,457.4C371.6,456.7 374.3,456.6 376.9,457.0C379.5,457.5 382.4,458.9 384.8,460.0C387.2,461.1 389.5,462.1 391.5,463.7C393.5,465.2 395.2,467.2 396.8,469.3C398.3,471.4 399.6,474.1 400.8,476.5C402.0,479.0 403.0,481.6 404.0,483.9C405.1,486.3 406.3,488.1 407.0,490.6C407.8,493.2 407.8,496.5 408.5,499.3C409.3,502.1 410.7,505.1 411.4,507.7C412.1,510.3 412.3,512.6 412.5,515.1C412.7,517.7 413.3,520.4 412.5,522.9C411.8,525.4 409.7,528.1 408.0,530.0C406.3,531.9 403.3,533.8 402.4,534.5"/>
<path class="tr" stroke="#fabed4" d="M329.0,459.7C328.9,461.0 328.1,464.9 328.1,467.7C328.1,470.4 328.8,473.5 329.1,476.1C329.4,478.8 329.5,480.8 329.8,483.4C330.1,486.1 330.8,489.3 331.0,492.0C331.2,494.7 331.1,497.1 331.1,499.8C331.1,502.4 330.8,505.5 330.9,508.0C331.0,510.6 331.5,512.5 331.7,515.1C331.9,517.7 331.8,520.8 332.1,523.6C332.4,526.4 332.7,529.5 333.5,531.9C334.3,534.4 335.4,536.7 337.1,538.3C338.8,540.0 341.4,541.1 343.9,542.0C346.4,542.8 349.7,543.6 352.2,543.3C354.8,543.0 357.0,541.8 359.1,540.3C361.1,538.8 363.1,536.7 364.5,534.5C365.9,532.3 366.3,529.4 367.5,526.9C368.6,524.4 370.1,521.9 371.4,519.5C372.6,517.1 374.1,514.6 375.1,512.4C376.2,510.2 376.6,508.5 377.6,506.2C378.7,503.9 380.1,500.9 381.5,498.4C382.9,495.9 384.7,493.5 386.2,491.2C387.8,488.9 389.3,486.9 390.7,484.7C392.2,482.6 393.9,480.6 395.0,478.3C396.2,475.9 397.0,473.2 397.7,470.7C398.5,468.2 399.2,466.1 399.6,463.4C399.9,460.7 400.1,457.2 399.9,454.5C399.7,451.9 398.8,449.9 398.1,447.3C397.4,444.7 396.9,441.7 395.8,439.2C394.7,436.7 393.1,434.7 391.6,432.5C390.2,430.4 388.9,427.8 387.0,426.1C385.1,424.3 382.8,422.9 380.3,422.1C377.7,421.2 374.5,420.8 371.9,421.0C369.2,421.3 366.5,422.3 364.5,423.7C362.4,425.2 361.0,427.5 359.7,429.8C358.4,432.1 357.6,435.0 356.6,437.5C355.6,440.0 354.5,442.4 353.6,444.9C352.7,447.4 352.2,450.0 350.9,452.3C349.7,454.6 347.7,456.8 346.1,459.0C344.4,461.1 342.6,463.4 340.9,465.5C339.3,467.6 337.2,469.1 336.1,471.4C335.0,473.7 335.1,477.0 334.3,479.4C333.5,481.9 332.2,483.7 331.3,486.1C330.5,488.5 330.3,491.4 329.3,493.9C328.3,496.5 326.7,498.9 325.6,501.5C324.5,504.0 324.0,506.6 322.7,509.1C321.4,511.6 319.4,514.2 317.8,516.4C316.3,518.7 315.3,520.6 313.6,522.5C311.9,524.3 310.1,526.0 307.9,527.6C305.7,529.2 303.1,531.1 300.4,532.0C297.8,532.8 294.6,532.8 292.0,532.5C289.4,532.2 285.9,530.5 284.7,530.1"/>
<path class="tr" stroke="#469990" d="M340.0,369.7C337.9,368.9 331.9,366.6 327.3,365.1C322.7,363.6 317.2,361.6 312.2,360.6C307.1,359.6 302.1,359.1 297.1,359.1C292.0,359.1 287.0,359.6 281.9,360.6C276.9,361.6 271.9,363.1 266.8,365.1C261.8,367.1 256.7,370.4 251.7,372.7C246.7,374.9 240.4,377.0 236.6,378.7C232.8,380.5 230.5,381.2 229.0,383.3C227.5,385.3 228.0,388.1 227.5,390.8C227.0,393.6 225.5,396.6 226.0,399.9C226.5,403.2 228.5,406.7 230.5,410.5C232.5,414.3 235.6,418.8 238.1,422.6C240.6,426.4 242.9,429.6 245.6,433.2C248.4,436.7 251.7,441.2 254.7,443.8C257.7,446.3 262.3,447.5 263.8,448.3"/>
<path class="tr" stroke="#469990" d="M300.0,360.6C302.0,361.3 308.1,363.6 312.1,365.1C316.1,366.6 319.9,368.4 324.2,369.7C328.5,370.9 333.5,371.7 337.8,372.7C342.1,373.7 346.1,374.7 349.9,375.7C353.7,376.7 358.7,378.2 360.5,378.7"/>
<path class="tr" stroke="#469990" d="M442.1,469.5C441.6,470.5 440.1,475.0 439.1,475.5C438.1,476.0 436.6,473.0 436.1,472.5"/>
<path class="tr" stroke="#469990" d="M424.0,480.0C424.5,481.6 425.0,487.1 427.0,489.1C429.0,491.1 434.1,490.1 436.1,492.1C438.1,494.2 437.6,500.2 439.1,501.2C440.6,502.2 444.2,498.7 445.2,498.2"/>
<path class="tr" stroke="#469990" d="M291.0,535.2C291.5,536.8 292.5,542.3 294.0,544.3C295.5,546.3 298.1,547.8 300.1,547.3C302.1,546.8 304.6,543.6 306.1,541.3C307.6,539.0 308.6,535.0 309.2,533.7"/>
<path class="tr" stroke="#469990" d="M258.6,421.5C259.7,421.7 263.1,422.4 265.2,423.1C267.3,423.8 269.0,424.9 271.2,425.7C273.4,426.4 276.2,427.0 278.5,427.5C280.8,427.9 282.9,427.9 285.2,428.5C287.5,429.1 290.1,430.4 292.2,431.1C294.4,431.8 296.2,431.7 298.3,432.8C300.4,433.9 303.0,436.2 305.0,437.6C307.0,439.0 308.6,439.9 310.3,441.2C312.0,442.6 313.8,444.0 315.3,445.7C316.8,447.4 318.1,449.5 319.2,451.5C320.4,453.6 321.4,455.9 322.2,458.2C323.1,460.4 323.8,462.7 324.2,465.0C324.5,467.3 324.7,469.6 324.4,472.0C324.1,474.4 323.6,477.5 322.5,479.4C321.4,481.4 319.7,482.7 317.7,483.8C315.7,484.9 313.0,485.8 310.7,486.2C308.4,486.5 306.2,486.5 304.2,485.8C302.2,485.0 300.2,483.1 298.5,481.4C296.9,479.7 295.4,477.8 294.5,475.7C293.5,473.5 293.3,470.7 292.9,468.5C292.6,466.3 292.5,464.8 292.3,462.4C292.2,459.9 292.2,456.4 291.9,454.0C291.6,451.6 290.9,450.3 290.7,448.1C290.6,445.8 290.9,443.1 290.9,440.7C290.9,438.4 291.0,436.1 290.8,434.0C290.5,431.8 289.8,430.1 289.2,427.8C288.7,425.6 288.0,423.0 287.6,420.6C287.1,418.2 286.8,415.8 286.6,413.4C286.5,411.1 286.6,408.7 286.8,406.4C286.9,404.1 287.2,401.9 287.7,399.6C288.2,397.3 289.3,395.1 289.9,392.8C290.5,390.6 291.0,388.3 291.2,386.1C291.4,383.9 291.0,381.8 291.1,379.4C291.1,377.0 291.6,374.0 291.6,371.6C291.6,369.3 291.6,367.7 291.1,365.4C290.5,363.2 289.5,360.0 288.3,358.2C287.0,356.4 285.6,355.5 283.7,354.6C281.8,353.7 279.1,353.1 276.7,352.9C274.3,352.7 271.6,352.5 269.4,353.5C267.2,354.5 264.9,356.6 263.5,358.8C262.0,360.9 261.3,364.2 260.5,366.4C259.6,368.7 259.4,370.2 258.5,372.1C257.7,374.0 256.4,375.8 255.3,377.9C254.1,380.1 252.8,383.0 251.7,385.0C250.7,387.1 249.5,389.4 249.0,390.3"/>
<path class="tr" stroke="#469990" d="M372.6,454.9C371.9,456.0 369.7,459.2 368.4,461.2C367.0,463.2 366.0,464.8 364.7,466.8C363.3,468.8 361.4,471.2 360.2,473.1C359.1,475.1 358.7,476.4 357.8,478.4C357.0,480.4 355.7,482.7 355.1,484.9C354.4,487.2 354.1,489.4 354.2,491.9C354.2,494.3 354.8,497.1 355.5,499.5C356.2,501.8 357.3,504.1 358.2,506.1C359.1,508.2 360.3,509.9 361.1,512.0C361.9,514.0 361.8,516.5 363.0,518.5C364.2,520.5 366.2,522.7 368.3,524.0C370.3,525.2 372.9,525.9 375.1,526.0C377.3,526.1 379.3,525.2 381.3,524.5C383.3,523.7 385.5,522.7 387.2,521.2C388.8,519.8 390.8,517.8 391.4,515.7C392.1,513.6 391.1,510.7 391.2,508.3C391.3,506.0 392.0,503.8 392.0,501.6C392.0,499.3 391.4,496.8 391.0,494.6C390.7,492.3 390.3,490.3 389.9,488.0C389.4,485.7 388.6,483.0 388.2,480.7C387.8,478.4 387.6,476.3 387.2,474.0C386.8,471.7 386.3,469.1 385.9,466.8C385.4,464.6 385.2,462.6 384.6,460.4C384.0,458.2 383.7,455.4 382.4,453.5C381.0,451.6 378.4,450.2 376.5,448.9C374.5,447.5 372.8,446.5 370.8,445.4C368.7,444.4 366.6,443.0 364.3,442.5C362.1,442.0 359.5,442.5 357.3,442.4C355.0,442.4 353.1,441.7 351.0,442.1C348.9,442.6 346.7,444.0 344.4,445.0C342.2,445.9 339.8,446.7 337.8,448.0C335.8,449.2 334.2,450.8 332.4,452.5C330.7,454.2 328.4,456.0 327.4,458.1C326.4,460.1 326.5,462.6 326.4,464.8C326.4,467.1 326.4,469.6 327.3,471.6C328.3,473.6 330.2,475.6 332.1,476.8C334.0,478.0 336.4,478.5 338.8,478.8C341.1,479.1 343.8,479.1 346.1,478.5C348.4,478.0 350.8,477.3 352.4,475.7C353.9,474.1 354.6,471.3 355.4,469.1C356.2,466.9 357.1,464.8 357.3,462.4C357.6,460.1 357.7,457.5 357.2,455.2C356.6,453.0 355.1,450.8 353.9,448.8C352.7,446.8 351.1,445.2 349.7,443.2C348.3,441.2 346.3,438.1 345.6,437.0"/>
<circle cx="365.0" cy="381.8" r="10.7" fill="#898989"/>
<circle cx="365.0" cy="381.8" r="6.0" fill="none" stroke="#fff" stroke-width="1.9"/>
<circle cx="337.8" cy="383.3" r="10.7" fill="#898989"/>
<circle cx="337.8" cy="383.3" r="6.0" fill="none" stroke="#fff" stroke-width="1.9"/>
<path class="tr" stroke="#dcbeff" d="M195.7,360.0C195.2,357.7 193.5,349.8 192.7,346.2C192.0,342.7 190.5,339.7 191.2,338.6C192.0,337.6 194.7,338.9 197.3,340.2C199.8,341.4 202.8,343.7 206.3,346.2C209.9,348.7 215.2,353.0 218.4,355.3C221.7,357.6 224.7,359.2 226.0,360.0"/>
<path class="tr" stroke="#dcbeff" d="M191.2,350.0C192.0,351.3 193.7,354.5 195.7,357.6C197.8,360.6 200.8,364.6 203.3,368.1C205.8,371.7 208.1,375.2 210.9,378.7C213.6,382.3 216.9,385.8 219.9,389.3C223.0,392.8 225.7,396.4 229.0,399.9C232.3,403.4 235.8,407.0 239.6,410.5C243.4,414.0 248.2,418.0 251.7,421.1C255.2,424.1 259.3,427.4 260.8,428.6"/>
<path class="tr" stroke="#dcbeff" d="M206.3,350.0C208.3,351.3 214.4,355.0 218.4,357.6C222.5,360.1 226.5,362.6 230.5,365.1C234.6,367.6 240.6,371.4 242.6,372.7"/>
<path class="tr" stroke="#dcbeff" d="M288.0,523.1C286.0,524.7 278.9,529.4 275.9,532.2C272.9,535.0 269.8,538.3 269.8,539.8C269.8,541.3 272.9,542.0 275.9,541.3C278.9,540.5 284.0,537.3 288.0,535.2C292.0,533.2 298.1,530.2 300.1,529.2"/>
<path class="tr" stroke="#dcbeff" d="M312.1,410.5C313.9,410.0 319.2,407.5 322.7,407.5C326.2,407.5 330.0,410.7 333.3,410.5C336.5,410.2 339.1,407.2 342.3,405.9C345.6,404.7 349.4,403.9 352.9,402.9C356.5,401.9 359.7,401.2 363.5,399.9C367.3,398.6 372.6,396.4 375.6,395.4C378.6,394.4 380.6,394.1 381.7,393.9"/>
<path class="tr" stroke="#dcbeff" d="M396.8,431.7C398.3,431.7 403.1,432.2 405.8,431.7C408.6,431.1 412.1,429.1 413.4,428.6"/>
<path class="tr" stroke="#dcbeff" d="M402.8,535.2C404.8,536.2 410.6,538.8 414.9,541.3C419.2,543.8 424.2,547.6 428.5,550.4C432.8,553.1 437.1,555.9 440.6,557.9C444.2,559.9 448.2,561.7 449.7,562.5"/>
<path class="tr" stroke="#dcbeff" d="M396.8,539.8 L408.9,547.3"/>
<path class="tr" stroke="#dcbeff" d="M301.8,428.3C303.0,428.5 306.9,429.3 309.3,429.5C311.6,429.6 313.9,429.3 316.1,429.4C318.3,429.6 320.2,429.9 322.5,430.3C324.7,430.8 327.4,431.5 329.7,432.1C331.9,432.7 333.9,433.1 336.1,433.8C338.3,434.6 340.7,435.6 343.1,436.3C345.4,437.1 348.0,437.7 350.2,438.5C352.3,439.3 353.8,440.2 355.8,441.0C357.9,441.8 360.3,442.3 362.5,443.2C364.7,444.2 367.1,445.4 369.0,446.8C370.9,448.3 372.4,450.4 374.1,452.0C375.7,453.7 377.2,455.0 378.6,456.8C380.1,458.5 381.5,460.6 382.8,462.5C384.1,464.4 385.2,466.2 386.5,468.1C387.9,470.0 390.0,471.8 391.2,473.9C392.4,475.9 392.4,478.4 393.6,480.4C394.7,482.4 397.1,483.8 398.2,485.8C399.3,487.8 399.8,490.0 400.2,492.3C400.6,494.5 401.2,497.0 400.7,499.3C400.2,501.6 398.2,504.1 397.4,506.3C396.5,508.4 396.2,510.1 395.5,512.2C394.9,514.2 394.2,516.5 393.3,518.7C392.4,521.0 391.7,523.7 390.3,525.5C388.9,527.4 386.9,528.9 384.9,529.9C382.9,531.0 380.5,531.9 378.3,532.0C376.2,532.2 374.1,531.7 372.0,530.9C369.8,530.1 367.0,528.9 365.4,527.3C363.8,525.7 363.5,523.5 362.4,521.4C361.3,519.2 360.0,516.5 358.7,514.4C357.4,512.2 355.7,510.6 354.7,508.6C353.7,506.6 353.4,504.7 352.9,502.5C352.3,500.3 351.8,497.9 351.1,495.7C350.5,493.4 349.7,491.0 349.1,488.8C348.6,486.5 348.1,484.4 347.9,482.2C347.6,479.9 347.8,477.8 347.6,475.5C347.5,473.1 347.1,470.2 346.8,467.9C346.5,465.6 346.0,464.1 345.8,461.9C345.6,459.6 345.6,456.9 345.6,454.3C345.7,451.8 345.4,448.9 346.1,446.8C346.8,444.6 348.4,443.3 349.7,441.2C351.0,439.2 352.3,436.5 353.8,434.7C355.4,432.9 357.2,431.6 359.3,430.6C361.3,429.6 363.9,429.1 366.1,428.7C368.4,428.3 370.6,428.1 372.7,428.4C374.8,428.7 376.5,429.9 378.7,430.6C381.0,431.2 383.7,431.4 386.1,432.2C388.4,433.0 390.7,434.2 392.9,435.3C395.1,436.5 397.3,437.9 399.2,439.1C401.0,440.4 402.8,441.1 403.9,442.9C405.1,444.6 405.7,447.3 406.1,449.7C406.6,452.0 407.0,454.8 406.6,456.9C406.1,459.0 404.8,460.5 403.3,462.2C401.9,463.8 399.7,464.9 397.9,466.6C396.1,468.2 394.5,470.9 392.5,472.1C390.4,473.2 387.7,473.3 385.6,473.4C383.4,473.5 381.8,473.4 379.5,472.8C377.3,472.1 374.3,471.0 372.3,469.6C370.2,468.2 368.6,466.1 367.4,464.2C366.2,462.3 365.5,460.3 365.2,458.1C364.9,455.9 365.3,453.3 365.6,451.0C366.0,448.6 366.4,446.0 367.4,443.8C368.3,441.6 369.9,439.7 371.2,437.8C372.5,436.0 373.4,434.3 375.0,432.7C376.6,431.0 378.9,429.5 380.8,427.9C382.7,426.3 384.5,424.5 386.3,423.2C388.0,421.9 389.4,421.2 391.2,419.9C393.1,418.7 395.5,417.4 397.2,415.8C398.9,414.2 400.2,412.2 401.2,410.2C402.1,408.1 402.8,405.8 402.8,403.5C402.8,401.3 402.2,398.5 401.0,396.6C399.8,394.7 397.3,393.3 395.5,391.9C393.6,390.6 391.7,388.9 389.7,388.5C387.8,388.0 385.8,388.5 383.6,389.2C381.3,389.9 378.4,391.3 376.4,392.5C374.3,393.8 373.2,395.1 371.4,396.7C369.7,398.3 367.8,400.7 365.9,402.3C364.0,403.9 361.6,404.7 360.0,406.2C358.4,407.8 357.6,409.9 356.3,411.7C355.0,413.6 353.3,415.4 352.0,417.3C350.7,419.2 349.1,422.2 348.5,423.2"/>
<path class="tr" stroke="#dcbeff" d="M379.7,539.0C378.6,538.9 375.5,538.6 373.1,538.6C370.8,538.6 368.2,538.9 365.7,539.0C363.1,539.1 360.4,539.1 358.0,539.1C355.6,539.1 353.6,538.9 351.4,538.7C349.2,538.6 347.1,538.6 344.7,538.3C342.4,538.0 339.6,537.6 337.4,537.0C335.2,536.4 333.8,535.6 331.8,534.8C329.7,534.0 327.1,533.2 324.8,532.2C322.6,531.1 320.4,529.8 318.4,528.5C316.5,527.2 315.2,525.7 313.2,524.4C311.2,523.2 308.7,522.1 306.4,521.2C304.1,520.2 301.3,519.4 299.2,519.0C297.1,518.5 295.8,518.4 293.8,518.5C291.8,518.5 289.2,518.4 287.2,519.3C285.2,520.3 283.3,522.4 281.7,524.3C280.2,526.2 278.4,528.5 277.9,530.7C277.4,533.0 278.0,535.7 278.7,537.9C279.3,540.0 280.3,542.1 281.7,543.7C283.2,545.3 285.3,547.0 287.5,547.7C289.7,548.5 292.5,548.2 294.8,548.1C297.0,548.0 298.7,547.5 301.0,547.0C303.2,546.5 305.8,545.9 308.2,545.2C310.5,544.5 312.6,543.7 314.9,543.1C317.1,542.4 319.3,542.3 321.4,541.5C323.5,540.7 325.5,539.4 327.6,538.3C329.8,537.2 332.0,536.1 334.0,534.9C336.1,533.8 338.0,532.5 339.9,531.2C341.8,530.0 343.5,528.9 345.4,527.5C347.3,526.1 349.5,524.4 351.2,522.7C353.0,521.0 354.1,519.2 355.8,517.5C357.4,515.8 359.6,514.3 361.1,512.5C362.6,510.8 363.6,508.9 364.8,507.0C366.1,505.2 367.3,503.1 368.7,501.3C370.1,499.4 371.2,497.3 373.0,495.9C374.8,494.6 377.2,493.8 379.5,493.2C381.7,492.7 384.4,492.1 386.6,492.6C388.9,493.1 391.2,494.5 393.0,496.1C394.7,497.6 395.8,500.1 397.3,501.8C398.7,503.5 400.3,504.7 401.8,506.4C403.3,508.1 405.5,510.9 406.3,511.8"/>
<path class="tr" stroke="#dcbeff" d="M345.5,456.3C344.9,455.5 343.1,452.9 341.6,451.1C340.0,449.3 337.8,447.3 336.4,445.4C334.9,443.6 334.0,442.2 332.8,440.2C331.5,438.2 329.6,435.6 328.8,433.3C328.0,431.0 328.2,428.7 327.9,426.4C327.6,424.1 327.5,421.7 326.8,419.6C326.0,417.5 325.1,415.2 323.5,413.7C321.8,412.2 318.8,411.5 316.7,410.8C314.5,410.0 312.9,409.0 310.7,409.2C308.5,409.3 305.5,410.4 303.5,411.6C301.5,412.9 299.9,414.6 298.8,416.5C297.7,418.5 297.4,421.1 296.9,423.4C296.4,425.8 295.6,428.4 295.9,430.7C296.1,433.1 297.3,435.6 298.4,437.7C299.4,439.7 300.6,441.4 302.2,443.0C303.8,444.5 305.9,446.0 308.0,446.9C310.1,447.7 312.4,447.8 314.7,448.2C317.0,448.6 319.5,449.4 321.9,449.3C324.2,449.1 326.5,448.0 328.8,447.4C331.1,446.8 333.6,446.3 335.8,445.6C337.9,444.8 340.0,444.2 341.7,442.8C343.5,441.4 345.1,439.5 346.3,437.4C347.4,435.3 348.3,432.5 348.5,430.3C348.7,428.1 348.2,426.4 347.6,424.3C347.0,422.2 346.4,419.4 345.1,417.5C343.8,415.6 341.9,414.0 339.9,412.8C337.9,411.6 335.1,410.3 332.9,410.2C330.6,410.0 328.6,410.9 326.4,411.8C324.2,412.6 321.5,413.8 319.8,415.3C318.1,416.9 317.3,419.1 316.1,421.1C315.0,423.1 314.3,425.6 313.1,427.6C311.8,429.6 309.7,431.3 308.6,433.3C307.4,435.3 307.1,437.5 306.3,439.6C305.5,441.7 304.3,443.4 303.8,445.7C303.2,447.9 302.9,450.7 302.7,453.1C302.6,455.5 302.6,457.7 302.6,460.0C302.6,462.3 302.5,464.5 302.7,466.9C302.9,469.2 303.4,471.8 303.8,474.1C304.2,476.5 304.6,478.6 304.9,480.9C305.2,483.3 305.2,486.0 305.4,488.4C305.7,490.7 306.3,493.0 306.4,495.2C306.6,497.4 306.5,499.4 306.5,501.8C306.5,504.2 306.1,507.2 306.4,509.4C306.7,511.7 308.1,513.2 308.3,515.4C308.6,517.7 307.4,520.6 307.9,522.8C308.4,525.1 310.0,527.3 311.4,528.9C312.8,530.6 314.4,532.0 316.5,532.7C318.7,533.5 322.2,533.5 324.5,533.4C326.7,533.2 328.2,532.9 330.1,531.9C332.1,530.8 334.6,529.0 336.1,527.1C337.5,525.2 338.2,522.8 338.9,520.4C339.5,518.1 339.6,515.4 340.0,513.1C340.4,510.7 340.6,508.4 341.2,506.2C341.8,503.9 342.8,501.5 343.5,499.3C344.2,497.2 344.7,495.3 345.4,493.3C346.2,491.2 347.0,489.4 347.8,487.2C348.7,485.0 349.6,482.2 350.4,480.1C351.2,477.9 351.7,476.5 352.7,474.4C353.7,472.2 355.7,469.4 356.2,467.0C356.7,464.6 355.8,461.0 355.8,459.8"/>
<circle cx="374.1" cy="413.5" r="10.7" fill="#898989"/>
<circle cx="374.1" cy="413.5" r="6.0" fill="none" stroke="#fff" stroke-width="1.9"/>
<path class="tr" stroke="#9a6324" d="M259.3,360.0C259.0,358.7 258.5,355.6 257.7,352.3C257.0,349.0 256.0,343.7 254.7,340.2C253.5,336.6 249.4,331.6 250.2,331.1C250.9,330.6 256.0,334.6 259.3,337.1C262.5,339.7 266.3,342.7 269.8,346.2C273.4,349.7 278.7,356.3 280.4,358.3"/>
<path class="tr" stroke="#9a6324" d="M259.3,350.0C260.0,352.0 262.5,358.1 263.8,362.1C265.1,366.1 265.8,369.9 266.8,374.2C267.8,378.5 268.3,383.5 269.8,387.8C271.4,392.1 274.9,397.9 275.9,399.9"/>
<path class="tr" stroke="#9a6324" d="M269.8,350.0C271.4,352.0 275.6,358.3 278.9,362.1C282.2,365.9 286.0,369.4 289.5,372.7C293.0,376.0 296.8,379.0 300.1,381.8C303.4,384.5 305.9,386.3 309.2,389.3C312.4,392.3 316.7,396.4 319.7,399.9C322.8,403.4 326.0,408.7 327.3,410.5"/>
<path class="tr" stroke="#9a6324" style="stroke-width:4.5" d="M274.4,428.6C273.6,429.6 270.1,432.2 269.8,434.7C269.6,437.2 271.4,440.7 272.9,443.8C274.4,446.8 277.4,449.3 278.9,452.8C280.4,456.4 280.9,460.6 281.9,464.9C282.9,469.2 284.0,473.7 285.0,478.5C286.0,483.3 287.0,488.6 288.0,493.6C289.0,498.7 290.5,506.2 291.0,508.8"/>
<path class="tr" stroke="#9a6324" d="M384.7,431.7C384.2,433.2 382.7,437.2 381.7,440.7C380.6,444.3 379.1,450.8 378.6,452.8"/>
<path class="tr" stroke="#9a6324" d="M375.6,467.9 L378.6,475.5"/>
<path class="tr" stroke="#9a6324" style="stroke-width:4.5" d="M372.6,509.5C373.1,511.3 374.3,516.6 375.6,520.1C376.9,523.6 378.1,526.9 380.1,530.7C382.2,534.5 384.7,538.5 387.7,542.8C390.7,547.1 394.8,552.4 398.3,556.4C401.8,560.4 405.6,563.7 408.9,567.0C412.1,570.3 416.4,574.6 417.9,576.1"/>
<path class="tr" stroke="#9a6324" style="stroke-width:4" d="M320.9,471.1C321.8,471.7 324.2,473.1 326.2,474.3C328.1,475.5 330.3,477.2 332.5,478.4C334.8,479.7 337.8,480.7 339.9,481.6C342.0,482.5 343.1,483.3 345.2,483.8C347.4,484.3 350.4,484.2 352.8,484.6C355.1,484.9 357.2,485.2 359.5,485.9C361.7,486.6 363.9,487.7 366.1,488.5C368.3,489.3 370.7,489.7 372.9,490.5C375.1,491.4 377.6,492.6 379.5,493.8C381.5,495.1 383.3,496.5 384.6,498.2C385.9,499.9 386.3,502.1 387.4,504.1C388.6,506.1 390.6,507.9 391.5,510.1C392.5,512.3 392.7,514.9 393.1,517.3C393.5,519.6 394.0,521.8 394.0,524.2C393.9,526.5 393.2,529.0 392.7,531.2C392.2,533.4 392.1,535.4 391.1,537.3C390.0,539.2 388.3,541.2 386.5,542.4C384.7,543.6 382.4,544.2 380.2,544.5C378.0,544.7 375.3,544.8 373.2,544.1C371.0,543.5 368.8,542.2 367.1,540.7C365.3,539.3 364.1,537.2 362.7,535.3C361.3,533.3 359.9,530.9 358.6,528.9C357.3,526.9 356.1,525.1 354.7,523.3C353.3,521.4 351.6,519.7 350.3,517.9C349.0,516.2 348.1,514.5 346.6,512.7C345.2,510.9 342.9,508.9 341.5,507.1C340.0,505.3 339.1,503.7 338.0,501.7C336.8,499.6 335.4,496.9 334.6,494.8C333.7,492.7 333.2,491.1 332.7,489.0C332.1,486.9 331.5,484.6 331.2,482.3C330.9,480.0 331.1,477.4 331.1,475.1C331.0,472.7 330.5,470.3 330.6,468.0C330.8,465.8 331.4,463.7 332.0,461.4C332.5,459.1 333.1,456.2 334.0,454.1C335.0,452.0 336.2,450.5 337.7,448.7C339.3,447.0 341.5,445.2 343.3,443.8C345.1,442.3 346.7,441.4 348.7,440.3C350.7,439.2 353.1,438.4 355.3,437.2C357.4,436.0 359.6,433.8 361.7,432.9C363.8,431.9 365.7,431.9 367.9,431.3C370.1,430.8 372.5,430.2 374.7,429.5C376.9,428.9 379.0,428.4 381.1,427.6C383.3,426.8 385.8,425.9 387.9,425.0C389.9,424.1 391.4,423.4 393.6,422.3C395.8,421.3 398.7,419.0 401.0,418.5C403.3,418.0 405.4,418.7 407.6,419.5C409.7,420.3 412.1,421.7 413.9,423.2C415.6,424.7 417.2,426.5 418.0,428.6C418.9,430.6 419.1,433.2 419.0,435.4C418.8,437.5 418.5,439.6 417.3,441.6C416.2,443.5 413.8,445.6 412.0,446.9C410.1,448.2 408.3,448.5 406.3,449.4C404.3,450.3 402.1,451.5 399.9,452.3C397.7,453.2 395.1,453.3 393.2,454.6C391.2,455.8 389.5,457.8 388.1,459.7C386.7,461.6 385.9,463.9 384.8,465.8C383.8,467.8 382.6,469.4 381.7,471.6C380.9,473.7 380.3,476.3 379.8,478.7C379.4,481.1 379.1,483.4 379.3,485.7C379.6,488.0 380.8,490.2 381.4,492.5C382.0,494.7 382.1,497.0 383.0,499.2C383.9,501.3 385.6,503.6 386.9,505.6C388.3,507.5 389.8,508.9 391.0,510.8C392.3,512.8 393.4,515.2 394.5,517.3C395.7,519.4 396.5,521.6 397.9,523.5C399.3,525.3 401.2,526.7 402.7,528.5C404.2,530.2 406.0,531.9 407.0,533.8C407.9,535.8 408.2,538.1 408.5,540.4C408.8,542.6 409.2,545.3 408.6,547.4C408.0,549.6 406.4,551.7 404.6,553.2C402.9,554.7 400.3,555.8 398.2,556.6C396.1,557.3 394.3,558.1 392.2,557.8C390.1,557.5 387.6,555.9 385.6,554.6C383.6,553.4 382.0,551.9 380.2,550.1C378.5,548.4 376.5,546.2 375.3,544.1C374.1,542.1 373.8,539.8 372.8,537.8C371.8,535.7 370.7,533.6 369.3,531.7C368.0,529.9 366.4,528.1 364.8,526.6C363.2,525.1 361.6,523.7 359.6,522.5C357.6,521.3 355.2,520.5 353.0,519.6C350.8,518.6 348.6,517.4 346.3,516.6C344.1,515.9 341.7,515.3 339.5,514.9C337.2,514.5 334.9,514.5 332.7,514.4C330.6,514.3 328.8,514.3 326.6,514.3C324.4,514.3 322.1,514.4 319.7,514.6C317.2,514.9 314.4,515.3 311.9,515.6C309.5,515.9 307.4,516.5 305.1,516.7C302.9,516.9 300.7,516.6 298.4,516.7C296.2,516.8 294.0,516.8 291.7,517.3C289.4,517.8 286.0,519.1 284.8,519.4"/>
<path class="tr" stroke="#9a6324" style="stroke-width:4" d="M373.4,510.8C372.3,511.2 369.4,512.3 367.1,513.1C364.9,513.9 362.2,515.0 359.9,515.7C357.7,516.4 355.9,517.0 353.7,517.1C351.5,517.2 348.9,516.7 346.5,516.3C344.1,516.0 341.4,515.6 339.1,514.9C336.9,514.2 335.2,513.0 333.1,512.3C331.0,511.5 328.5,511.5 326.6,510.4C324.7,509.3 322.8,507.7 321.6,505.7C320.4,503.6 319.8,500.6 319.6,498.2C319.4,495.8 319.7,493.4 320.5,491.4C321.3,489.3 322.6,487.4 324.3,485.9C326.0,484.4 328.5,483.0 330.7,482.3C332.9,481.6 335.3,481.3 337.5,481.6C339.6,481.9 341.9,482.9 343.8,484.3C345.7,485.7 347.4,488.1 348.8,490.0C350.2,491.9 350.9,494.0 352.3,495.7C353.7,497.5 355.6,498.6 357.0,500.5C358.4,502.4 359.5,504.9 360.7,506.9C361.9,509.0 363.0,510.8 364.1,512.9C365.2,514.9 365.9,517.5 367.3,519.4C368.7,521.3 370.5,522.9 372.3,524.4C374.1,525.9 376.4,526.9 378.2,528.5C380.1,530.0 381.7,532.1 383.4,533.8C385.1,535.4 386.7,537.0 388.5,538.3C390.3,539.6 392.4,540.4 394.4,541.6C396.4,542.8 398.7,544.1 400.6,545.4C402.5,546.6 404.3,547.5 405.9,549.0C407.5,550.5 409.5,552.3 410.3,554.5C411.2,556.6 411.2,559.8 410.9,562.1C410.7,564.5 409.2,567.5 408.9,568.6"/>
<path class="tr" stroke="#9a6324" style="stroke-width:4" d="M316.6,465.1C317.7,464.7 320.9,463.4 323.1,462.9C325.3,462.3 327.5,462.2 329.9,461.8C332.3,461.5 335.2,460.9 337.6,460.6C340.0,460.3 342.0,460.0 344.3,460.0C346.6,460.0 349.1,460.4 351.4,460.7C353.6,461.1 355.8,461.5 358.0,462.2C360.2,462.8 362.5,463.6 364.6,464.6C366.6,465.6 368.5,466.9 370.4,468.3C372.2,469.6 374.0,471.0 375.7,472.5C377.4,474.1 378.9,475.6 380.5,477.5C382.0,479.4 383.5,481.9 384.9,483.9C386.3,485.9 387.8,487.6 389.0,489.5C390.2,491.4 391.6,492.9 392.2,495.1C392.8,497.3 393.0,500.3 392.8,502.5C392.6,504.6 391.9,506.2 390.9,508.1C389.8,509.9 388.2,512.2 386.4,513.8C384.6,515.4 382.1,516.5 379.9,517.6C377.7,518.7 375.7,520.0 373.4,520.2C371.1,520.5 368.6,519.5 366.2,519.2C363.8,519.0 361.4,519.2 359.2,518.7C356.9,518.3 354.7,517.4 352.8,516.3C350.8,515.2 349.5,513.7 347.5,512.4C345.5,511.1 342.5,510.0 340.7,508.4C339.0,506.9 338.5,504.5 337.0,502.9C335.5,501.3 333.3,500.6 331.7,498.9C330.2,497.2 328.8,494.7 327.5,492.7C326.1,490.6 324.9,488.9 323.9,486.7C322.9,484.5 322.3,481.7 321.7,479.5C321.1,477.2 320.6,475.3 320.2,473.1C319.8,470.9 319.8,468.7 319.1,466.4C318.5,464.1 317.2,461.4 316.2,459.2C315.1,457.1 313.9,455.4 312.8,453.5C311.7,451.5 310.9,449.4 309.6,447.6C308.3,445.9 306.6,444.6 304.9,443.0C303.1,441.3 300.9,439.3 299.1,437.7C297.3,436.1 296.2,434.6 294.2,433.2C292.2,431.8 289.2,430.5 287.1,429.3C285.0,428.0 283.5,426.8 281.7,425.7C279.9,424.7 278.1,423.6 276.1,422.9C274.1,422.1 272.0,421.1 269.8,421.1C267.5,421.2 264.9,422.0 262.8,423.2C260.7,424.3 258.4,426.1 257.1,428.0C255.8,430.0 255.0,432.7 254.8,434.9C254.7,437.1 255.4,439.3 256.2,441.4C257.0,443.6 258.0,446.2 259.4,447.8C260.9,449.5 262.5,450.5 264.7,451.3C266.9,452.0 270.2,451.6 272.5,452.5C274.8,453.3 276.5,455.2 278.5,456.2C280.5,457.2 282.3,457.8 284.3,458.4C286.3,459.1 288.2,459.6 290.5,460.1C292.8,460.6 295.7,460.9 298.2,461.3C300.6,461.8 303.0,462.0 305.1,463.0C307.1,464.0 308.9,465.6 310.3,467.3C311.8,469.0 313.2,471.1 314.0,473.2C314.8,475.2 315.3,477.5 315.1,479.7C314.8,481.9 313.3,484.3 312.5,486.4C311.7,488.6 311.4,490.6 310.3,492.6C309.1,494.7 307.0,496.6 305.6,498.5C304.2,500.4 303.2,502.5 301.8,504.2C300.3,506.0 297.8,508.3 297.0,509.1"/>
<path class="tr" stroke="#fffac8" d="M309.2,353.8C310.4,353.0 314.4,349.2 316.7,349.2C319.0,349.2 321.8,353.0 322.8,353.8"/>
<path class="tr" stroke="#fffac8" d="M241.1,486.1C241.6,483.6 242.9,476.0 244.1,471.0C245.4,465.9 246.9,460.9 248.7,455.8C250.4,450.8 252.2,445.5 254.7,440.7C257.2,435.9 260.5,431.4 263.8,427.1C267.1,422.8 270.8,419.1 274.4,415.0C277.9,411.0 281.2,406.5 285.0,402.9C288.7,399.4 292.5,396.1 297.1,393.9C301.6,391.6 307.1,389.8 312.2,389.3C317.2,388.8 324.8,390.6 327.3,390.8"/>
<path class="tr" stroke="#fffac8" d="M315.1,350.0C315.9,352.0 318.4,358.3 319.7,362.1C320.9,365.9 321.7,368.9 322.7,372.7C323.7,376.5 323.9,381.2 325.7,384.8C327.5,388.3 330.0,391.8 333.3,393.9C336.5,395.9 340.8,396.6 345.4,396.9C349.9,397.1 355.9,395.9 360.5,395.4C365.0,394.9 370.6,394.1 372.6,393.9"/>
<path class="tr" stroke="#fffac8" d="M300.0,392.3C302.5,391.8 310.1,389.1 315.1,389.3C320.2,389.6 327.7,393.1 330.2,393.9"/>
<path class="tr" stroke="#fffac8" d="M340.8,431.7C342.8,431.4 348.4,431.1 352.9,430.1C357.5,429.1 363.8,427.4 368.0,425.6C372.3,423.8 376.4,421.6 378.6,419.6C380.9,417.5 381.1,414.5 381.7,413.5"/>
<path class="tr" stroke="#fffac8" d="M368.0,443.8C369.8,444.5 374.8,446.8 378.6,448.3C382.4,449.8 387.4,451.6 390.7,452.8C394.0,454.1 397.0,455.3 398.3,455.8"/>
<path class="tr" stroke="#fffac8" d="M336.3,554.9C337.8,557.2 342.1,564.0 345.4,568.5C348.6,573.0 352.2,578.1 355.9,582.1C359.7,586.1 363.5,589.9 368.0,592.7C372.6,595.5 378.1,597.2 383.2,598.8C388.2,600.3 393.0,601.0 398.3,601.8C403.6,602.5 409.1,603.3 414.9,603.3C420.7,603.3 427.0,602.8 433.1,601.8C439.1,600.8 445.7,599.0 451.2,597.2C456.8,595.5 461.8,593.2 466.3,591.2C470.9,589.2 475.5,586.7 478.4,585.1C481.3,583.6 484.5,582.9 483.7,582.1C483.0,581.4 478.0,580.4 473.9,580.6C469.7,580.9 463.8,583.6 458.8,583.6C453.7,583.6 448.4,582.1 443.6,580.6C438.9,579.1 434.3,576.8 430.0,574.6C425.8,572.3 422.0,569.8 417.9,567.0C413.9,564.2 407.9,559.4 405.8,557.9"/>
<path class="tr" stroke="#fffac8" d="M325.0,445.4C325.7,446.3 327.5,448.8 328.9,450.8C330.2,452.7 331.6,455.0 333.0,457.0C334.4,459.0 335.8,460.8 337.3,462.5C338.8,464.3 340.8,465.4 342.2,467.3C343.6,469.2 344.5,471.6 345.6,473.9C346.7,476.1 347.6,478.8 348.7,480.8C349.9,482.8 351.4,484.3 352.4,486.1C353.4,488.0 353.6,489.9 354.9,491.9C356.2,493.9 358.2,496.3 360.1,498.0C361.9,499.8 363.9,500.9 365.8,502.3C367.7,503.7 369.8,505.1 371.5,506.5C373.2,507.9 374.3,509.3 376.0,510.7C377.6,512.2 379.4,513.8 381.3,515.2C383.3,516.5 385.4,517.9 387.7,518.8C390.0,519.7 392.7,520.3 395.0,520.5C397.3,520.8 399.1,520.7 401.3,520.4C403.4,520.1 405.8,519.6 407.9,518.6C410.0,517.7 411.9,515.9 413.8,514.6C415.8,513.4 418.0,512.6 419.7,511.1C421.3,509.5 422.4,507.1 424.0,505.3C425.5,503.4 428.0,502.0 429.0,499.9C430.0,497.9 430.0,495.0 430.0,492.8C430.0,490.6 430.0,488.7 429.1,486.7C428.1,484.8 425.7,483.1 424.3,481.2C423.0,479.2 422.5,477.0 421.2,475.0C419.9,473.0 418.0,470.9 416.7,469.1C415.4,467.2 414.5,466.0 413.4,464.0C412.3,462.0 411.1,459.3 410.2,457.0C409.3,454.8 408.8,452.7 408.1,450.5C407.4,448.3 406.7,446.1 406.0,443.9C405.4,441.8 405.3,439.6 404.2,437.5C403.1,435.4 401.3,432.8 399.4,431.4C397.5,429.9 395.0,429.7 392.8,428.8C390.7,427.9 388.3,427.1 386.2,426.1C384.1,425.1 382.1,424.0 380.1,423.0C378.1,421.9 376.1,421.0 374.1,419.8C372.0,418.6 370.0,416.9 367.9,415.7C365.7,414.6 363.2,413.7 361.2,412.8C359.1,411.9 357.6,411.3 355.7,410.3C353.7,409.3 351.5,408.0 349.3,406.8C347.2,405.7 344.8,404.7 343.0,403.3C341.1,401.9 339.9,400.0 338.2,398.5C336.5,396.9 334.6,395.8 332.9,394.1C331.3,392.4 329.7,390.2 328.3,388.4C327.0,386.6 326.5,384.8 324.7,383.2C323.0,381.6 320.1,379.4 317.8,378.7C315.6,378.0 313.4,378.5 311.2,378.9C309.0,379.3 306.6,379.8 304.7,381.2C302.8,382.5 301.7,385.1 300.0,386.8C298.3,388.5 296.1,389.6 294.5,391.3C292.9,393.0 291.8,395.0 290.6,397.0C289.5,399.0 288.7,401.1 287.8,403.3C286.9,405.4 285.9,407.8 285.0,409.9C284.1,412.1 282.9,414.2 282.3,416.4C281.8,418.6 281.9,420.6 281.8,422.9C281.7,425.2 281.5,427.7 281.6,430.1C281.8,432.5 282.2,435.0 282.8,437.3C283.5,439.7 284.6,442.2 285.5,444.4C286.3,446.5 286.8,448.5 287.7,450.5C288.7,452.5 289.9,454.5 291.1,456.4C292.4,458.3 294.2,459.8 295.4,461.7C296.6,463.7 297.4,466.1 298.4,468.3C299.4,470.5 300.5,472.9 301.4,475.1C302.4,477.2 303.4,479.0 304.3,481.2C305.2,483.3 305.8,485.8 306.9,487.9C308.0,490.0 309.8,491.9 310.9,493.9C311.9,495.9 312.4,497.7 313.2,499.8C314.0,501.9 314.7,504.4 315.6,506.7C316.5,508.9 317.6,511.1 318.6,513.1C319.6,515.2 320.7,517.0 321.7,519.0C322.7,521.1 323.4,523.6 324.7,525.7C326.0,527.7 327.5,529.9 329.2,531.5C330.9,533.1 332.8,534.3 334.9,535.2C337.1,536.2 339.9,536.8 342.1,537.0C344.3,537.3 346.0,537.4 348.1,536.8C350.1,536.2 352.4,534.8 354.4,533.5C356.4,532.2 358.6,530.7 360.2,528.9C361.9,527.1 363.6,524.9 364.5,522.7C365.3,520.6 365.3,518.4 365.6,516.0C365.9,513.6 366.2,510.7 366.1,508.4C366.0,506.1 365.7,504.5 365.1,502.3C364.5,500.1 363.3,497.6 362.4,495.4C361.6,493.2 361.2,490.8 359.9,488.9C358.7,487.0 356.9,485.5 355.2,484.0C353.5,482.4 351.7,481.0 349.8,479.7C348.0,478.5 346.1,477.2 344.0,476.3C341.8,475.3 339.4,474.6 337.0,474.3C334.7,474.0 332.2,474.2 329.9,474.4C327.6,474.6 325.3,474.9 323.1,475.5C320.9,476.2 318.9,477.3 316.8,478.3C314.6,479.4 311.8,480.6 310.1,482.0C308.3,483.4 307.7,485.1 306.5,486.9C305.2,488.7 303.7,490.7 302.6,492.9C301.6,495.0 300.7,497.6 300.2,499.9C299.7,502.2 299.5,504.6 299.5,506.9C299.5,509.2 299.9,511.5 300.3,513.7C300.7,516.0 301.4,518.4 302.1,520.6C302.8,522.8 303.7,525.0 304.7,526.9C305.8,528.8 307.1,530.5 308.6,532.2C310.1,534.0 311.8,536.1 313.8,537.4C315.8,538.7 318.4,539.6 320.6,539.9C322.7,540.2 324.6,539.9 326.8,539.2C329.0,538.5 332.2,537.3 333.9,535.7C335.5,534.0 335.6,531.1 336.7,529.1C337.9,527.2 339.4,525.9 340.8,523.9C342.2,522.0 343.7,519.4 344.9,517.4C346.1,515.4 346.8,513.7 348.0,512.0C349.3,510.2 351.1,508.6 352.4,506.7C353.7,504.8 354.5,502.7 355.7,500.6C356.8,498.5 357.8,496.2 359.3,494.2C360.8,492.3 363.2,490.7 364.7,488.9C366.2,487.1 366.9,485.2 368.3,483.3C369.7,481.5 371.6,479.9 373.1,478.0C374.7,476.0 376.1,473.3 377.6,471.6C379.1,470.0 380.5,469.7 382.2,468.1C383.9,466.5 386.0,463.5 387.7,461.9C389.4,460.3 390.6,459.9 392.2,458.5C393.9,457.0 396.0,454.6 397.7,453.0C399.4,451.4 400.6,450.3 402.3,448.7C404.0,447.1 406.0,445.1 407.8,443.5C409.7,441.9 412.0,440.9 413.4,439.1C414.7,437.2 415.8,434.8 416.1,432.5C416.5,430.2 416.0,427.5 415.4,425.3C414.8,423.0 414.1,420.7 412.5,419.0C410.9,417.3 408.1,415.9 405.9,415.1C403.7,414.3 401.4,414.1 399.3,414.4C397.2,414.6 395.5,416.0 393.4,416.7C391.2,417.3 388.7,417.9 386.4,418.3C384.1,418.6 381.9,418.5 379.5,418.7C377.2,418.9 374.7,419.4 372.3,419.5C369.9,419.5 367.6,419.0 365.2,419.0C362.8,419.0 360.2,419.3 357.9,419.4C355.6,419.5 353.9,419.7 351.6,419.7C349.2,419.6 346.4,419.4 344.0,419.2C341.5,419.1 339.4,418.7 337.1,418.6C334.8,418.6 332.4,418.8 330.2,418.6C327.9,418.5 326.1,418.3 323.8,418.0C321.4,417.7 318.5,417.4 316.1,417.0C313.7,416.5 311.8,415.9 309.5,415.3C307.3,414.7 304.8,414.1 302.5,413.5C300.2,413.0 298.1,412.4 295.8,412.1C293.5,411.7 291.2,411.2 288.8,411.1C286.5,411.1 283.9,411.7 281.7,411.8C279.4,411.9 277.6,411.6 275.3,411.8C273.0,412.0 270.0,412.4 267.6,413.0C265.3,413.6 263.3,414.6 261.2,415.4C259.1,416.3 257.2,417.2 255.1,418.3C253.1,419.4 250.5,420.4 248.9,421.9C247.3,423.4 246.5,425.4 245.6,427.6C244.7,429.7 243.9,433.4 243.6,434.6"/>
<path class="tr" stroke="#fffac8" d="M361.3,503.6C360.8,504.8 359.6,508.5 358.7,510.7C357.9,512.9 357.3,514.8 356.3,516.8C355.3,518.9 353.7,521.0 352.6,523.0C351.5,525.0 350.9,527.0 349.9,529.0C348.9,531.0 347.6,533.2 346.6,535.2C345.5,537.3 344.6,539.0 343.6,541.2C342.6,543.3 341.6,545.8 340.5,548.0C339.4,550.2 337.4,552.2 337.0,554.3C336.5,556.4 337.3,558.7 337.8,560.8C338.3,562.9 338.7,565.3 340.0,567.0C341.3,568.6 343.8,569.9 345.9,570.8C347.9,571.8 350.2,572.7 352.4,572.8C354.5,572.8 356.8,572.1 359.0,571.1C361.2,570.0 363.6,568.0 365.5,566.5C367.3,565.0 368.5,563.6 369.9,561.9C371.3,560.2 372.7,558.1 374.1,556.2C375.6,554.4 377.3,552.6 378.6,550.6C379.9,548.6 380.8,546.4 381.8,544.2C382.8,542.1 383.7,539.8 384.7,537.8C385.7,535.7 386.5,533.8 387.7,531.9C388.8,530.0 390.4,528.4 391.7,526.6C393.0,524.8 394.3,523.1 395.4,521.1C396.5,519.2 397.8,516.9 398.5,514.7C399.1,512.4 399.2,510.0 399.3,507.6C399.4,505.2 399.3,502.8 399.2,500.5C399.1,498.1 399.1,495.8 398.8,493.4C398.5,491.0 398.0,488.3 397.5,486.0C397.0,483.7 396.6,481.9 396.1,479.7C395.5,477.4 394.5,474.6 394.3,472.3C394.1,470.0 395.2,467.9 394.8,465.8C394.3,463.7 393.0,461.2 391.4,459.5C389.9,457.7 387.5,456.1 385.4,455.2C383.3,454.3 380.9,453.8 378.8,454.1C376.6,454.3 374.6,455.4 372.6,456.5C370.6,457.6 368.1,458.6 366.8,460.5C365.6,462.3 365.9,465.4 365.1,467.5C364.2,469.7 362.6,470.8 361.9,473.1C361.2,475.3 361.3,478.7 360.9,481.0C360.5,483.4 359.9,485.0 359.5,487.2C359.0,489.5 358.4,492.3 358.3,494.7C358.3,497.0 359.0,499.2 359.3,501.5C359.5,503.7 360.0,505.8 359.9,508.1C359.9,510.4 359.3,513.0 359.0,515.2C358.8,517.5 358.8,519.4 358.4,521.7C358.0,524.0 357.6,526.7 356.8,529.1C356.0,531.5 354.7,533.7 353.6,535.8C352.4,537.9 351.2,539.7 350.0,541.6C348.8,543.6 347.6,545.6 346.4,547.7C345.2,549.7 343.9,552.1 342.8,554.0C341.7,555.8 340.6,556.9 339.8,558.9C339.0,560.9 337.9,563.6 338.1,566.0C338.3,568.3 339.5,571.0 340.8,573.0C342.2,575.0 344.2,576.7 346.1,578.0C348.1,579.2 350.3,580.3 352.5,580.5C354.7,580.7 357.4,579.9 359.5,579.0C361.6,578.1 363.3,576.8 364.9,575.2C366.5,573.5 367.7,571.1 368.9,569.2C370.1,567.4 370.8,566.0 371.9,564.0C373.0,561.9 374.2,559.3 375.3,557.0C376.3,554.8 377.4,552.7 378.4,550.5C379.3,548.3 380.2,545.8 381.2,543.8C382.2,541.8 383.4,540.5 384.2,538.3C385.0,536.0 385.4,532.9 385.8,530.5C386.3,528.1 386.5,526.1 386.8,523.8C387.2,521.6 387.5,519.0 387.9,516.9C388.2,514.7 388.7,513.0 389.0,510.8C389.3,508.7 389.2,506.1 389.7,503.7C390.2,501.4 391.5,499.0 392.0,496.7C392.5,494.3 392.2,491.8 392.5,489.4C392.8,487.0 393.7,483.5 393.9,482.3"/>
<path class="tr" stroke="#fffac8" d="M346.2,481.7C346.1,480.6 345.6,477.3 345.5,475.1C345.5,472.8 346.0,470.5 345.9,468.0C345.9,465.5 345.1,462.7 345.2,460.3C345.3,457.9 346.0,455.9 346.5,453.7C347.0,451.6 347.5,449.4 348.0,447.2C348.5,445.0 348.6,443.0 349.3,440.6C350.0,438.3 351.3,435.3 352.2,433.0C353.0,430.8 353.5,429.2 354.4,427.2C355.2,425.3 356.3,423.4 357.5,421.2C358.6,419.0 359.7,416.1 361.1,414.2C362.6,412.3 364.2,411.0 366.1,409.8C368.0,408.6 370.4,407.7 372.5,406.7C374.6,405.7 376.5,404.9 378.7,403.9C380.9,402.9 383.7,401.5 386.0,400.5C388.2,399.5 390.2,398.5 392.3,398.0C394.4,397.5 396.4,397.0 398.6,397.6C400.8,398.2 403.7,400.1 405.5,401.6C407.2,403.1 408.1,404.5 409.0,406.5C409.9,408.5 410.7,411.4 410.7,413.7C410.7,416.0 409.9,418.4 408.9,420.4C407.8,422.5 406.1,424.6 404.4,426.2C402.8,427.7 400.8,428.6 399.0,429.7C397.1,430.8 395.6,432.0 393.3,432.8C391.1,433.7 387.8,434.2 385.4,434.8C383.1,435.4 381.5,435.9 379.3,436.3C377.0,436.6 374.2,436.6 371.9,437.0C369.7,437.4 367.9,438.0 365.6,438.4C363.3,438.8 360.8,439.1 358.4,439.3C356.0,439.5 353.7,439.7 351.4,439.6C349.1,439.5 347.0,438.7 344.6,438.6C342.3,438.4 339.5,438.9 337.2,438.9C334.9,438.8 333.1,438.4 331.0,438.2C328.8,438.0 326.8,437.7 324.4,437.5C321.9,437.3 318.7,437.2 316.3,437.0C313.9,436.8 312.4,436.7 310.1,436.5C307.8,436.3 304.7,435.7 302.3,435.6C299.9,435.5 298.0,436.0 295.6,435.8C293.2,435.7 290.4,434.9 288.0,434.5C285.7,434.1 283.9,434.1 281.7,433.6C279.5,433.1 277.1,432.1 274.9,431.4C272.6,430.8 270.4,429.8 268.2,429.8C265.9,429.8 263.2,430.7 261.2,431.4C259.2,432.1 257.6,432.5 256.1,434.0C254.5,435.5 252.7,438.1 252.1,440.3C251.5,442.5 252.1,445.0 252.4,447.3C252.8,449.6 253.0,452.3 254.2,454.2C255.4,456.0 257.5,457.6 259.5,458.6C261.5,459.7 264.0,460.2 266.3,460.5C268.6,460.8 271.0,460.4 273.3,460.5C275.6,460.7 277.9,461.3 280.3,461.5C282.7,461.7 285.3,461.7 287.6,462.0C290.0,462.2 292.2,462.3 294.5,462.8C296.7,463.3 298.9,464.0 301.1,464.8C303.2,465.7 305.6,466.7 307.5,467.9C309.5,469.0 310.9,470.3 312.7,471.7C314.5,473.0 316.9,474.2 318.6,475.9C320.2,477.7 321.4,480.2 322.6,482.1C323.9,484.0 324.9,485.4 325.8,487.3C326.8,489.3 327.7,491.5 328.3,493.8C328.8,496.1 329.1,498.6 329.3,501.0C329.4,503.5 329.5,506.1 329.1,508.4C328.8,510.7 327.8,512.7 327.0,514.9C326.3,517.1 325.9,519.6 324.7,521.5C323.5,523.5 321.9,525.1 319.9,526.4C317.9,527.7 315.0,529.0 312.7,529.2C310.3,529.4 308.0,528.7 305.9,527.8C303.7,527.0 301.3,525.7 299.9,524.0C298.4,522.3 298.2,519.7 297.2,517.6C296.2,515.4 294.6,513.0 293.7,510.9C292.7,508.8 292.0,507.0 291.4,504.8C290.8,502.6 290.6,500.1 290.2,497.7C289.8,495.3 289.5,492.8 289.1,490.5C288.8,488.2 288.6,486.3 288.1,484.0C287.7,481.6 286.8,478.8 286.6,476.6C286.3,474.3 286.3,472.7 286.5,470.4C286.6,468.2 287.2,465.8 287.4,463.3C287.5,460.9 287.0,458.1 287.3,455.8C287.6,453.5 288.7,451.8 289.2,449.6C289.7,447.5 289.9,445.3 290.4,443.0C291.0,440.7 291.4,437.7 292.5,435.6C293.6,433.6 295.1,432.2 296.8,430.6C298.5,429.0 300.7,427.7 302.5,426.1C304.2,424.5 305.4,422.6 307.3,421.1C309.2,419.6 311.8,418.5 313.7,417.2C315.6,415.8 317.0,414.5 318.8,413.0C320.6,411.6 322.8,410.2 324.4,408.5C326.1,406.8 327.4,404.7 328.8,402.8C330.2,401.0 331.0,398.9 332.8,397.3C334.6,395.8 337.3,394.1 339.6,393.4C341.9,392.8 344.5,393.0 346.7,393.6C348.9,394.1 351.0,395.4 352.7,396.8C354.5,398.2 355.5,400.3 357.0,402.0C358.5,403.7 360.4,405.3 361.8,407.1C363.3,408.9 364.6,410.9 365.9,412.9C367.1,414.9 368.1,416.9 369.1,419.0C370.2,421.0 371.1,423.0 372.0,425.1C372.9,427.1 373.7,429.0 374.5,431.4C375.3,433.7 376.0,436.9 376.8,439.1C377.5,441.4 378.3,442.8 379.0,444.8C379.7,446.9 380.3,449.1 380.9,451.4C381.4,453.7 382.1,456.2 382.6,458.5C383.0,460.8 383.0,462.9 383.3,465.2C383.7,467.6 384.1,470.2 384.5,472.6C385.0,475.0 385.6,477.4 386.0,479.7C386.5,482.0 387.0,483.9 387.4,486.2C387.8,488.6 388.1,491.7 388.5,494.0C388.9,496.3 389.6,497.8 390.0,500.0C390.3,502.1 390.5,504.6 390.5,506.9C390.5,509.2 390.4,511.5 390.1,513.7C389.8,515.9 388.7,519.3 388.5,520.4"/>
<path class="tr" stroke="#fffac8" d="M352.3,490.4C352.1,491.6 351.5,495.2 351.0,497.5C350.4,499.8 349.6,502.1 349.0,504.2C348.4,506.3 348.1,508.1 347.3,510.3C346.4,512.5 345.0,515.3 343.7,517.3C342.5,519.4 341.3,521.0 339.7,522.6C338.2,524.2 336.5,525.8 334.5,526.9C332.5,528.0 330.2,528.5 327.9,529.0C325.6,529.6 323.0,530.3 320.6,530.2C318.3,530.1 316.0,529.5 314.0,528.5C311.9,527.6 310.2,525.9 308.3,524.6C306.4,523.4 304.3,522.5 302.7,520.9C301.1,519.3 299.9,517.0 298.7,515.0C297.5,512.9 295.4,510.8 295.2,508.6C295.0,506.4 296.3,503.8 297.3,501.6C298.4,499.5 300.0,497.7 301.4,495.8C302.8,493.9 304.2,492.2 305.7,490.3C307.2,488.4 308.8,486.3 310.4,484.5C311.9,482.8 313.6,481.3 315.1,479.8C316.6,478.2 317.8,476.8 319.6,475.3C321.3,473.8 323.6,471.9 325.7,470.9C327.8,469.9 330.2,469.6 332.4,469.3C334.6,469.0 336.6,468.5 338.9,469.0C341.3,469.5 344.5,471.0 346.5,472.2C348.5,473.4 349.3,474.7 350.8,476.2C352.4,477.8 354.3,479.6 355.7,481.7C357.0,483.7 358.2,486.4 358.7,488.6C359.3,490.7 358.9,492.6 359.0,494.7C359.1,496.8 359.4,498.8 359.1,501.2C358.8,503.6 358.0,506.7 357.2,509.0C356.4,511.2 355.3,512.4 354.2,514.5C353.1,516.6 351.7,519.5 350.4,521.5C349.1,523.6 347.7,524.9 346.4,526.7C345.1,528.5 344.0,530.6 342.6,532.4C341.1,534.2 339.3,535.6 337.7,537.4C336.1,539.2 334.9,541.8 332.9,543.2C331.0,544.5 328.3,545.1 326.0,545.4C323.8,545.7 321.4,545.9 319.3,545.1C317.2,544.4 315.2,542.5 313.6,541.0C312.0,539.5 310.9,538.1 309.7,536.2C308.5,534.2 307.2,531.6 306.4,529.4C305.6,527.2 305.2,525.2 304.7,522.9C304.1,520.6 303.6,517.8 303.2,515.5C302.8,513.3 302.4,511.6 302.1,509.3C301.8,507.1 301.1,504.6 301.1,502.1C301.1,499.6 302.1,496.9 302.2,494.5C302.4,492.1 302.0,490.1 302.1,487.9C302.2,485.6 302.7,483.3 302.8,480.9C302.9,478.6 302.7,476.0 302.8,473.7C302.9,471.4 303.7,469.5 303.6,467.2C303.4,464.8 302.3,462.0 302.1,459.6C301.8,457.2 302.2,454.8 302.0,452.5C301.9,450.3 301.7,448.4 301.3,446.2C300.9,444.0 299.7,441.8 299.7,439.4C299.7,437.1 300.7,434.3 301.3,432.0C301.8,429.8 302.0,427.9 303.0,425.9C304.0,423.9 305.5,421.6 307.3,420.0C309.2,418.5 311.9,417.2 314.2,416.8C316.5,416.4 319.0,417.2 321.1,417.6C323.2,418.1 325.2,418.3 326.8,419.6C328.4,420.9 329.8,423.4 330.8,425.5C331.9,427.6 332.1,430.0 333.0,432.2C333.8,434.3 335.1,436.1 336.0,438.4C336.9,440.6 337.8,443.2 338.3,445.5C338.8,447.8 338.6,450.1 339.0,452.3C339.5,454.5 340.4,456.5 340.9,458.9C341.3,461.2 341.7,464.0 342.0,466.4C342.2,468.7 342.5,470.7 342.2,473.0C341.9,475.3 341.0,477.9 340.2,480.1C339.4,482.2 338.3,484.0 337.3,486.0C336.2,488.1 334.7,491.2 334.2,492.2"/>
<path class="tr" stroke="#800000" style="stroke-width:3.7" d="M297.0,439.0C295.0,436.8 288.8,430.4 285.0,425.6C281.2,420.9 278.7,416.6 274.4,410.5C270.1,404.4 264.4,396.4 259.3,389.3C254.2,382.2 247.2,372.5 244.1,368.1C241.0,363.7 241.8,364.8 240.6,363.0C239.4,361.2 238.5,359.8 236.8,357.4C235.2,354.9 233.0,351.3 230.7,348.3C228.4,345.3 225.7,342.5 223.2,339.2C220.7,335.9 218.1,331.6 215.6,328.6C213.1,325.6 210.3,323.5 208.0,321.0C205.7,318.5 203.9,316.2 201.9,313.4C199.9,310.6 197.1,306.9 195.8,304.3C194.5,301.7 194.5,300.1 194.0,298.0C193.5,295.9 193.5,294.6 192.7,291.8C191.9,289.0 190.5,284.5 189.0,281.2C187.5,277.9 185.6,275.1 183.7,272.1C181.8,269.1 179.6,266.0 177.6,263.0C175.6,260.0 173.4,257.0 171.6,254.0C169.8,251.0 168.8,247.5 167.0,245.0C165.2,242.5 163.3,240.6 161.0,238.9C158.7,237.2 155.7,235.7 153.4,235.1C151.1,234.5 148.9,234.2 147.4,235.1C145.9,236.0 145.8,239.3 144.3,240.4C142.8,241.5 139.9,240.9 138.3,241.9C136.7,242.9 134.8,244.6 134.5,246.4C134.2,248.2 135.2,250.5 136.8,252.5C138.4,254.5 142.3,256.2 144.3,258.5C146.3,260.8 147.4,263.1 148.9,266.1C150.4,269.1 151.6,273.7 153.4,276.7C155.2,279.7 157.0,282.1 159.5,284.2C162.0,286.3 165.2,287.9 168.5,289.5C171.8,291.1 175.3,292.4 179.1,294.0C182.9,295.6 187.9,297.8 191.2,299.3C194.5,300.8 196.4,301.1 198.9,302.8C201.4,304.5 203.9,307.3 206.4,309.6C208.9,311.9 211.5,314.0 214.0,316.4C216.5,318.8 219.1,321.2 221.6,324.0C224.1,326.8 226.7,330.1 229.2,333.2C231.7,336.2 234.3,339.3 236.8,342.3C239.3,345.3 242.1,348.4 244.4,351.4C246.7,354.4 248.8,357.7 250.5,360.5C252.2,363.3 251.5,363.3 254.7,368.1C257.9,372.9 265.3,382.2 269.9,389.3C274.4,396.4 278.5,404.4 282.0,410.5C285.5,416.6 288.3,421.0 291.0,425.6C293.7,430.2 296.8,435.9 298.0,438.0"/>
<path class="tr" stroke="#800000" style="stroke-width:3.8" d="M381.7,398.4C380.1,398.4 375.6,397.9 372.6,398.4C369.6,398.9 366.3,400.2 363.5,401.4C360.7,402.7 358.0,403.9 355.9,405.9C353.9,408.0 353.2,410.7 351.4,413.5C349.6,416.3 347.4,419.6 345.4,422.6C343.3,425.6 340.8,428.6 339.3,431.7C337.8,434.7 337.3,437.2 336.3,440.7C335.3,444.3 334.3,449.3 333.3,452.8C332.3,456.4 330.7,460.4 330.2,461.9"/>
<path class="tr" stroke="#800000" style="stroke-width:3.8" d="M390.7,431.7C389.2,431.4 384.9,429.9 381.7,430.1C378.4,430.4 374.1,431.9 371.1,433.2C368.0,434.4 365.8,435.9 363.5,437.7C361.2,439.5 359.2,441.7 357.5,443.8C355.7,445.8 353.7,448.8 352.9,449.8"/>
<path class="tr" stroke="#800000" style="stroke-width:3.8" d="M384.7,415.0C384.9,416.0 385.4,420.6 386.2,421.1C386.9,421.6 388.7,418.5 389.2,418.0"/>
<path class="tr" stroke="#800000" style="stroke-width:3.8" d="M312.1,467.9C313.9,466.9 318.9,463.9 322.7,461.9C326.5,459.9 331.0,457.4 334.8,455.8C338.6,454.3 343.6,453.3 345.4,452.8"/>
<path class="tr" stroke="#800000" style="stroke-width:3.8" d="M402.8,471.0C403.3,472.5 404.8,476.8 405.8,480.0C406.9,483.3 407.1,489.1 408.9,490.6C410.6,492.1 414.9,489.9 416.4,489.1C417.9,488.4 417.7,486.6 417.9,486.1"/>
<path class="tr" stroke="#800000" style="stroke-width:3.8" d="M330.3,520.1C330.6,522.6 331.1,530.5 331.8,535.2C332.6,540.0 333.5,545.8 334.9,548.9C336.2,551.9 339.1,552.6 340.0,553.4"/>
<path class="tr" stroke="#800000" style="stroke-width:3.8" d="M371.9,543.3C368.7,540.9 356.2,530.5 352.5,529.0C348.9,527.5 346.9,532.1 349.9,534.4C352.9,536.7 361.7,540.7 370.5,542.7C379.2,544.8 397.1,547.1 402.4,546.8C407.8,546.5 407.8,541.0 402.6,540.8C397.4,540.6 377.4,543.5 371.3,545.9C365.1,548.2 365.9,553.0 365.9,554.9C365.9,556.8 370.1,558.8 371.5,557.1C372.9,555.5 377.7,550.3 374.2,545.2C370.8,540.1 355.2,528.7 350.8,526.5C346.4,524.2 344.1,530.0 347.9,531.7C351.7,533.4 365.8,539.1 373.6,536.9C381.3,534.7 391.9,522.0 394.6,518.4C397.3,514.7 393.3,510.3 389.6,515.0C385.9,519.6 375.2,539.0 372.3,546.1C369.4,553.2 371.2,555.9 372.1,557.8C373.1,559.7 378.0,559.6 378.1,557.3C378.2,555.1 378.6,547.8 372.8,544.3C367.0,540.8 348.4,536.8 343.4,536.5C338.4,536.2 337.1,541.6 342.7,542.4C348.3,543.3 369.0,541.7 377.0,541.6C384.9,541.4 388.5,542.3 390.4,541.3C392.4,540.4 391.8,535.3 388.8,535.6C385.7,535.9 376.6,539.3 372.1,543.2C367.5,547.1 362.3,555.9 361.4,559.0C360.5,562.2 364.4,563.8 366.6,562.0C368.8,560.2 377.0,554.6 374.5,548.2C371.9,541.8 355.7,527.0 351.3,523.8C346.9,520.6 343.5,526.1 347.9,528.8C352.3,531.4 369.1,540.3 378.0,539.9C386.8,539.5 397.6,529.4 400.9,526.4C404.1,523.3 401.7,519.1 397.2,521.6C392.7,524.1 379.9,534.5 373.8,541.5C367.7,548.5 362.0,559.6 360.7,563.7C359.4,567.9 363.6,568.7 366.1,566.3C368.7,564.0 376.3,558.0 376.1,549.5C375.8,541.0 367.6,520.7 364.8,515.5C362.0,510.2 358.1,512.9 359.3,517.9C360.5,522.9 367.4,538.3 371.8,545.5C376.3,552.6 382.8,559.1 385.9,561.0C389.0,562.9 392.5,559.9 390.4,557.0C388.4,554.1 381.5,545.5 373.5,543.5C365.4,541.5 347.1,543.8 342.0,545.0C336.9,546.3 337.0,551.3 342.9,550.9C348.9,550.6 371.8,548.7 377.5,542.8C383.2,537.0 378.2,520.5 377.1,516.1C376.0,511.6 371.6,511.6 371.1,516.1C370.6,520.6 373.5,538.5 374.0,543.0"/>
<path class="tr" stroke="#800000" style="stroke-width:3.8" d="M367.7,481.9C368.3,483.0 370.0,486.3 371.3,488.2C372.6,490.1 374.3,491.5 375.5,493.5C376.6,495.5 377.2,498.0 378.0,500.3C378.7,502.5 379.3,504.8 379.9,507.1C380.4,509.4 380.9,512.0 381.2,514.2C381.6,516.5 382.1,518.5 381.9,520.7C381.7,522.8 381.0,525.0 380.1,527.2C379.1,529.4 377.6,532.0 376.1,533.8C374.5,535.7 372.5,537.2 370.5,538.2C368.5,539.1 366.2,539.6 364.1,539.6C361.9,539.6 359.9,539.1 357.7,538.1C355.6,537.2 352.9,535.4 351.2,533.6C349.6,531.8 349.0,529.5 348.0,527.3C346.9,525.1 346.2,522.6 345.0,520.6C343.8,518.6 342.4,517.0 340.9,515.4C339.3,513.8 337.9,512.5 336.0,511.1C334.1,509.8 331.3,509.2 329.6,507.6C327.9,505.9 326.6,503.5 325.9,501.3C325.1,499.1 324.7,496.7 324.9,494.4C325.1,492.1 325.9,489.5 327.1,487.6C328.2,485.6 329.7,483.9 331.7,482.6C333.8,481.2 336.9,480.3 339.1,479.4C341.3,478.6 343.1,478.3 345.0,477.3C346.9,476.3 348.5,475.1 350.5,473.7C352.5,472.3 355.0,470.0 356.9,469.0C358.9,468.0 360.2,467.6 362.4,467.7C364.5,467.8 367.8,468.7 370.0,469.4C372.3,470.2 373.9,471.0 375.8,472.2C377.7,473.5 380.0,475.1 381.6,476.8C383.3,478.5 384.1,480.4 385.6,482.3C387.0,484.1 389.1,485.8 390.3,488.0C391.6,490.1 392.8,493.0 393.1,495.2C393.3,497.4 392.5,499.2 391.9,501.3C391.4,503.3 390.8,505.4 389.7,507.5C388.6,509.5 387.2,511.6 385.5,513.5C383.7,515.4 381.0,517.5 379.2,519.0C377.5,520.4 376.6,521.0 374.8,522.2C373.0,523.5 370.2,525.2 368.2,526.4C366.2,527.5 364.6,528.1 362.7,529.2C360.7,530.2 357.5,532.1 356.4,532.7"/>
<circle cx="411.9" cy="475.5" r="10.8" fill="#878787"/>
<path class="tr" stroke="#aaffc3" d="M164.0,489.1C163.7,488.1 162.2,485.3 162.5,483.1C162.7,480.8 163.7,478.5 165.5,475.5C167.3,472.5 170.8,468.7 173.1,464.9C175.3,461.1 177.6,457.4 179.1,452.8C180.6,448.3 181.9,442.7 182.1,437.7C182.4,432.7 181.6,427.1 180.6,422.6C179.6,418.0 178.1,415.0 176.1,410.5C174.1,405.9 170.5,399.9 168.5,395.4C166.5,390.8 165.3,387.0 164.0,383.3C162.7,379.5 161.5,374.4 161.0,372.7"/>
<path class="tr" stroke="#aaffc3" d="M180.6,419.6C182.4,421.6 187.9,427.6 191.2,431.7C194.5,435.7 197.5,439.7 200.3,443.8C203.1,447.8 205.6,451.6 207.8,455.8C210.1,460.1 212.1,464.9 213.9,469.5C215.7,474.0 217.2,478.5 218.4,483.1C219.7,487.6 220.4,492.4 221.5,496.7C222.5,501.0 223.8,505.7 224.5,508.8C225.1,511.8 225.1,513.9 225.2,515.0"/>
<path class="tr" stroke="#aaffc3" d="M259.3,463.4C259.8,465.9 261.0,473.5 262.3,478.5C263.5,483.6 264.8,489.4 266.8,493.6C268.8,497.9 270.6,502.0 274.4,504.2C278.2,506.5 284.5,507.8 289.5,507.3C294.5,506.8 299.6,503.5 304.6,501.2C309.7,498.9 317.2,494.9 319.7,493.6"/>
<path class="tr" stroke="#aaffc3" d="M285.0,434.7C284.5,436.9 281.2,443.8 281.9,448.3C282.7,452.8 287.0,457.6 289.5,461.9C292.0,466.2 293.3,473.0 297.1,474.0C300.8,475.0 307.1,470.5 312.2,467.9C317.2,465.4 322.7,460.9 327.3,458.9C331.9,456.9 337.9,456.4 340.0,455.8"/>
<path class="tr" stroke="#aaffc3" d="M375.6,458.9C373.1,459.1 364.0,461.1 360.5,460.4C357.0,459.6 354.4,455.8 354.4,454.3C354.4,452.8 357.0,451.6 360.5,451.3C364.0,451.1 370.6,452.1 375.6,452.8C380.6,453.6 385.7,454.3 390.7,455.8C395.8,457.4 400.8,459.6 405.8,461.9C410.9,464.2 416.7,467.9 421.0,469.5C425.3,471.0 428.5,471.7 431.6,471.0C434.6,470.2 437.3,467.4 439.1,464.9C440.9,462.4 441.8,459.4 442.1,455.8C442.5,452.3 441.4,448.0 441.4,443.8C441.4,439.5 442.0,434.9 442.1,430.1C442.3,425.4 442.3,420.1 442.1,415.0C442.0,410.0 441.6,404.4 441.4,399.9C441.1,395.4 442.0,390.6 440.6,387.8C439.2,385.0 436.3,384.9 433.1,383.3C429.8,381.6 425.0,379.0 421.0,378.0C416.9,377.0 413.4,377.1 408.9,377.2C404.3,377.3 397.8,377.0 393.8,378.7C389.7,380.5 386.4,384.3 384.7,387.8C382.9,391.3 382.9,396.4 383.2,399.9C383.4,403.4 384.4,406.5 386.2,409.0C388.0,411.5 392.0,412.8 393.8,415.0C395.5,417.3 394.8,421.1 396.8,422.6C398.8,424.1 402.8,424.3 405.8,424.1C408.9,423.8 412.4,422.1 414.9,421.1C417.4,420.1 420.2,419.3 421.0,418.0C421.7,416.8 419.0,413.5 419.5,413.5C420.0,413.5 423.5,415.5 424.0,418.0C424.5,420.6 423.5,424.8 422.5,428.6C421.5,432.4 419.5,436.9 417.9,440.7C416.4,444.5 414.9,448.3 413.4,451.3C411.9,454.3 409.6,457.6 408.9,458.9"/>
<path class="tr" stroke="#aaffc3" d="M393.8,434.7C393.2,433.7 392.5,429.9 390.7,428.6C389.0,427.4 386.2,426.9 383.2,427.1C380.1,427.4 376.4,428.6 372.6,430.1C368.8,431.7 364.0,433.7 360.5,436.2C357.0,438.7 354.2,442.0 351.4,445.3C348.6,448.5 346.1,452.1 343.9,455.8C341.6,459.6 340.1,463.9 337.8,467.9C335.5,472.0 332.8,476.3 330.2,480.0C327.7,483.8 325.2,487.1 322.7,490.6C320.2,494.2 317.6,497.9 315.1,501.2C312.6,504.5 308.8,508.8 307.6,510.3"/>
<path class="tr" stroke="#aaffc3" d="M300.0,471.0C302.5,470.5 310.1,469.0 315.1,467.9C320.2,466.9 325.2,465.2 330.2,464.9C335.3,464.7 340.3,465.7 345.4,466.4C350.4,467.2 355.4,468.2 360.5,469.5C365.5,470.7 370.6,474.2 375.6,474.0C380.6,473.7 386.2,470.0 390.7,467.9C395.3,465.9 400.8,462.9 402.8,461.9"/>
<path class="tr" stroke="#aaffc3" d="M396.8,461.9C396.3,463.9 395.3,470.0 393.8,474.0C392.2,478.0 390.2,482.6 387.7,486.1C385.2,489.6 381.9,492.9 378.6,495.2C375.4,497.4 371.6,498.7 368.0,499.7C364.5,500.7 361.2,500.7 357.5,501.2C353.7,501.7 349.4,503.0 345.4,502.7C341.3,502.5 336.3,501.5 333.3,499.7C330.2,497.9 328.2,493.4 327.2,492.1"/>
<path class="tr" stroke="#aaffc3" d="M410.4,466.4C412.7,467.4 419.7,470.5 424.0,472.5C428.3,474.5 433.1,476.8 436.1,478.5C439.1,480.3 440.1,480.3 442.1,483.1C444.2,485.8 446.2,491.4 448.2,495.2C450.2,498.9 452.2,502.4 454.2,505.7C456.2,509.0 459.3,513.4 460.3,515.0"/>
<path class="tr" stroke="#aaffc3" d="M224.5,505.0C224.7,507.0 225.5,512.6 226.0,517.1C226.5,521.6 228.0,527.9 227.5,532.2C227.0,536.5 225.0,539.3 223.0,542.8C220.9,546.3 217.7,550.1 215.4,553.4C213.1,556.7 210.4,558.9 209.4,562.5C208.3,566.0 208.9,570.3 209.4,574.6C209.9,578.8 211.1,584.6 212.4,588.2C213.6,591.7 214.9,595.2 216.9,595.7C218.9,596.2 221.5,593.5 224.5,591.2C227.5,588.9 231.5,585.4 235.1,582.1C238.6,578.8 242.4,575.3 245.6,571.5C248.9,567.8 252.2,563.2 254.7,559.4C257.2,555.7 259.0,552.4 260.8,548.9C262.5,545.3 263.8,541.8 265.3,538.3C266.8,534.7 268.3,531.0 269.8,527.7C271.4,524.4 272.4,521.4 274.4,518.6C276.4,515.8 280.7,512.3 281.9,511.0"/>
<path class="tr" stroke="#aaffc3" d="M454.2,505.0C455.2,506.3 457.8,509.8 460.3,512.6C462.8,515.3 465.8,518.6 469.4,521.6C472.9,524.7 477.9,528.2 481.5,530.7C485.0,533.2 488.0,534.2 490.5,536.8C493.0,539.3 495.6,542.3 496.6,545.8C497.6,549.4 497.3,554.6 496.6,557.9C495.8,561.2 494.6,563.5 492.0,565.5C489.5,567.5 485.7,569.0 481.5,570.0C477.2,571.0 471.4,571.8 466.3,571.5C461.3,571.3 455.7,570.0 451.2,568.5C446.7,567.0 442.6,565.0 439.1,562.5C435.6,559.9 433.1,556.4 430.0,553.4C427.0,550.4 424.0,547.6 421.0,544.3C417.9,541.0 414.4,537.3 411.9,533.7C409.4,530.2 408.1,526.7 405.8,523.1C403.6,519.6 400.8,515.6 398.3,512.6C395.8,509.5 392.0,506.3 390.7,505.0"/>
<path class="tr" stroke="#aaffc3" d="M371.0,478.0C372.1,478.0 375.6,478.0 377.8,478.0C380.1,478.0 382.2,477.8 384.4,477.9C386.7,478.1 388.8,478.5 391.2,478.9C393.7,479.3 396.6,479.5 398.9,480.3C401.2,481.1 403.4,482.3 405.3,483.5C407.2,484.7 408.8,486.0 410.5,487.4C412.1,488.9 413.5,490.5 415.0,492.2C416.5,494.0 418.4,496.2 419.6,498.1C420.8,500.0 421.4,501.8 422.1,503.9C422.8,506.0 423.2,508.5 423.7,510.9C424.3,513.2 425.1,515.5 425.3,517.9C425.6,520.2 425.3,522.7 425.0,525.1C424.6,527.6 423.7,529.9 423.2,532.3C422.7,534.6 422.5,536.9 422.2,539.2C421.9,541.5 422.1,543.8 421.5,545.9C420.9,548.0 420.4,550.1 418.7,551.8C417.0,553.4 413.9,555.1 411.6,555.8C409.2,556.5 406.8,556.4 404.6,556.0C402.4,555.7 400.2,554.8 398.3,553.7C396.5,552.5 395.1,550.8 393.4,549.0C391.8,547.2 390.1,544.5 388.6,542.9C387.0,541.2 385.3,541.0 384.0,539.1C382.6,537.3 380.8,534.2 380.3,531.8C379.9,529.4 380.9,527.0 381.3,524.9C381.7,522.7 381.6,520.9 382.5,519.0C383.5,517.2 385.5,515.4 387.3,513.8C389.1,512.2 391.4,510.7 393.3,509.1C395.1,507.6 396.5,505.8 398.3,504.4C400.1,503.1 402.2,502.3 404.1,501.0C406.1,499.7 408.2,497.7 410.2,496.6C412.2,495.4 414.2,495.2 416.2,494.2C418.3,493.3 420.3,491.9 422.4,491.0C424.6,490.1 426.9,489.6 429.1,489.0C431.3,488.3 433.5,487.8 435.7,487.1C437.9,486.4 440.1,485.6 442.3,484.9C444.5,484.2 446.8,484.2 448.9,482.9C451.0,481.7 453.6,479.2 454.9,477.3C456.3,475.4 456.8,473.9 457.0,471.6C457.1,469.4 456.5,465.9 455.8,463.8C455.1,461.6 454.2,460.1 452.7,458.5C451.2,456.9 448.6,455.1 446.5,454.3C444.4,453.4 442.3,453.1 440.1,453.4C437.9,453.7 435.6,455.2 433.3,456.1C431.0,457.0 428.6,457.9 426.4,458.7C424.2,459.4 422.4,459.8 420.3,460.5C418.2,461.2 416.1,462.1 413.8,463.0C411.5,463.9 408.7,465.2 406.5,466.0C404.4,466.9 403.2,467.3 400.9,468.0C398.7,468.7 395.4,469.0 393.1,470.0C390.8,471.0 389.0,472.7 386.9,473.8C384.9,474.9 382.6,475.5 380.6,476.4C378.6,477.4 376.7,478.4 374.9,479.7C373.0,480.9 371.3,482.5 369.4,483.9C367.6,485.4 365.7,486.9 363.9,488.4C362.1,490.0 360.1,491.8 358.5,493.5C357.0,495.1 356.1,496.8 354.5,498.5C352.8,500.2 350.4,502.2 348.4,503.4C346.4,504.7 344.7,505.5 342.5,505.9C340.3,506.3 337.3,506.3 335.1,505.8C332.8,505.2 331.1,503.9 329.1,502.5C327.2,501.2 325.3,499.1 323.6,497.6C321.9,496.1 320.6,494.9 319.0,493.5C317.4,492.1 315.7,490.4 313.9,488.9C312.0,487.4 310.0,486.2 308.0,484.6C306.0,483.0 303.7,480.9 301.8,479.4C299.8,478.0 298.3,477.1 296.4,475.9C294.6,474.7 292.8,473.1 290.6,472.3C288.5,471.4 285.6,471.5 283.3,471.0C281.0,470.5 278.9,469.7 276.7,469.2C274.5,468.7 272.2,467.9 270.1,467.9C267.9,468.0 266.0,468.9 263.7,469.5C261.4,470.0 258.5,470.3 256.3,471.3C254.1,472.3 251.9,473.9 250.6,475.7C249.3,477.5 248.8,480.0 248.5,482.2C248.2,484.4 248.3,486.8 248.9,488.9C249.6,491.1 250.7,493.2 252.3,494.9C253.8,496.7 256.4,498.1 258.3,499.6C260.2,501.0 262.1,502.3 263.7,503.9C265.3,505.5 266.8,507.3 268.0,509.2C269.2,511.2 269.9,513.3 270.8,515.4C271.7,517.5 273.0,519.5 273.5,521.8C274.0,524.1 273.0,527.2 273.7,529.4C274.5,531.6 276.3,533.3 278.0,534.8C279.8,536.3 282.2,538.0 284.4,538.7C286.5,539.3 288.8,538.4 291.1,538.8C293.4,539.2 295.7,540.3 298.0,540.9C300.3,541.4 302.7,541.8 304.9,542.2C307.2,542.6 309.0,542.8 311.4,543.1C313.8,543.3 316.8,543.6 319.1,543.5C321.5,543.4 323.2,542.8 325.4,542.5C327.6,542.2 330.1,542.4 332.3,541.9C334.5,541.4 336.6,540.2 338.8,539.4C341.1,538.7 343.3,538.0 345.7,537.4C348.1,536.9 350.7,536.5 353.1,536.0C355.4,535.5 357.6,534.9 359.9,534.7C362.2,534.4 364.7,534.8 367.0,534.6C369.3,534.3 371.4,533.6 373.7,533.1C375.9,532.7 378.2,532.2 380.4,531.7C382.7,531.2 385.2,530.7 387.4,530.0C389.5,529.2 391.1,528.5 393.1,527.4C395.2,526.3 397.6,524.8 399.5,523.4C401.4,522.0 402.7,520.7 404.4,519.3C406.2,517.9 408.4,516.6 410.2,515.0C411.9,513.4 413.2,511.7 414.9,509.9C416.6,508.1 418.9,506.1 420.5,504.3C422.1,502.4 422.9,500.7 424.2,498.9C425.6,497.1 427.0,495.2 428.4,493.3C429.8,491.4 431.5,489.5 432.7,487.6C434.0,485.6 434.9,483.8 436.1,481.8C437.2,479.8 438.3,477.6 439.4,475.5C440.4,473.5 440.9,471.4 442.4,469.6C443.8,467.7 446.7,466.4 448.0,464.4C449.3,462.5 449.9,460.0 450.1,457.8C450.4,455.6 450.3,453.2 449.6,451.0C449.0,448.9 448.0,446.7 446.5,445.1C444.9,443.4 442.6,442.0 440.3,441.3C438.1,440.6 435.5,440.6 433.1,440.8C430.6,441.0 427.9,441.9 425.8,442.6C423.6,443.4 422.0,444.5 420.0,445.3C418.0,446.1 416.0,446.8 413.9,447.4C411.7,448.1 409.3,448.4 407.0,449.1C404.6,449.9 402.2,450.9 400.0,451.8C397.8,452.8 395.7,453.9 393.6,454.8C391.4,455.8 389.1,456.7 386.9,457.5C384.7,458.3 381.4,459.3 380.3,459.7"/>
<path class="tr" stroke="#aaffc3" d="M374.7,489.4C373.6,489.9 370.4,491.1 368.4,492.1C366.3,493.1 364.5,494.5 362.2,495.5C360.0,496.5 357.0,497.0 354.9,498.1C352.9,499.2 351.7,500.9 349.8,502.1C348.0,503.3 345.9,504.1 344.0,505.4C342.1,506.8 340.2,508.7 338.4,510.3C336.6,512.0 335.0,513.7 333.3,515.3C331.6,516.9 329.9,518.3 328.3,520.0C326.8,521.7 325.4,523.7 324.0,525.5C322.6,527.3 321.2,528.9 319.8,530.8C318.4,532.7 316.7,534.8 315.4,536.8C314.1,538.9 312.8,540.9 311.9,542.9C311.0,545.0 309.8,546.8 309.8,549.1C309.7,551.3 310.6,554.2 311.6,556.3C312.7,558.5 314.5,560.8 316.2,562.2C317.8,563.7 319.2,564.6 321.4,565.1C323.6,565.6 326.8,565.7 329.1,565.4C331.4,565.0 333.4,564.2 335.3,562.8C337.1,561.4 339.0,559.1 340.1,557.0C341.2,554.9 341.2,552.3 341.9,550.2C342.5,548.0 343.3,546.2 344.0,544.1C344.7,541.9 345.3,539.4 346.2,537.2C347.1,535.0 348.0,532.8 349.3,530.9C350.5,529.0 352.1,527.4 353.7,525.9C355.2,524.3 356.6,522.7 358.5,521.5C360.4,520.3 363.1,519.2 365.3,518.5C367.6,517.8 369.7,517.4 372.0,517.4C374.3,517.4 377.1,517.9 379.3,518.7C381.5,519.4 383.2,520.9 385.2,522.0C387.2,523.2 389.6,524.2 391.5,525.5C393.4,526.9 394.9,528.3 396.6,530.0C398.2,531.6 400.0,533.8 401.5,535.5C402.9,537.1 404.0,538.0 405.5,539.9C406.9,541.7 409.1,544.6 410.1,546.7C411.1,548.8 411.2,551.7 411.4,552.7"/>
<circle cx="155.7" cy="498.2" r="10.7" fill="#898989"/>
<circle cx="155.7" cy="498.2" r="6.0" fill="none" stroke="#fff" stroke-width="1.9"/>
<circle cx="303.0" cy="448.3" r="10.7" fill="#898989"/>
<circle cx="303.0" cy="448.3" r="6.0" fill="none" stroke="#fff" stroke-width="1.9"/>
<circle cx="393.8" cy="498.2" r="10.8" fill="#878787"/>
<circle cx="408.9" cy="507.3" r="10.8" fill="#878787"/>
<circle cx="421.0" cy="504.2" r="10.8" fill="#878787"/>
<circle cx="440.6" cy="505.8" r="10.8" fill="#878787"/>
<circle cx="349.9" cy="489.1" r="10.8" fill="#878787"/>
<path class="tr" stroke="#800000" style="stroke-width:4.0" d="M402.8,471.0C403.3,472.5 404.8,476.8 405.8,480.0C406.9,483.3 407.1,489.1 408.9,490.6C410.6,492.1 414.9,489.9 416.4,489.1C417.9,488.4 417.7,486.6 417.9,486.1"/>
<path class="tr" stroke="#469990" d="M442.1,469.5C441.6,470.5 440.1,475.0 439.1,475.5C438.1,476.0 436.6,473.0 436.1,472.5"/>
<path class="tr" stroke="#469990" d="M424.0,480.0C424.5,481.6 425.0,487.1 427.0,489.1C429.0,491.1 434.1,490.1 436.1,492.1C438.1,494.2 437.6,500.2 439.1,501.2C440.6,502.2 444.2,498.7 445.2,498.2"/>
<path class="tr" stroke="#f58231" d="M405.8,501.2C407.4,501.0 411.9,499.7 414.9,499.7C417.9,499.7 422.5,501.0 424.0,501.2"/>
<path class="tr" stroke="#f032e6" style="stroke-width:5" d="M411.9,478.5 L417.9,474.0"/>
</g>
<g id="traj1" style="stroke-width:3.9">
<path class="tr" stroke="#911eb4" d="M917.8,410.3C918.8,408.8 922.6,403.7 923.9,401.2C925.1,398.7 924.4,396.9 925.4,395.2C926.4,393.4 927.4,391.9 929.9,390.6C932.4,389.4 937.0,388.0 940.5,387.6C944.0,387.2 948.0,388.9 951.1,388.4C954.1,387.9 956.4,386.2 958.6,384.6C960.8,382.9 963.4,380.8 964.4,378.5C965.4,376.3 965.6,373.5 964.7,371.0C963.7,368.4 960.4,366.4 958.6,363.4C956.9,360.4 955.9,356.9 954.1,352.8C952.3,348.8 950.3,343.8 948.0,339.2C945.8,334.7 943.0,330.4 940.5,325.6C938.0,320.8 935.4,315.5 932.9,310.5C930.4,305.4 927.9,300.2 925.4,295.4C922.8,290.6 920.8,285.5 917.8,281.8C914.8,278.0 911.0,274.8 907.2,272.7C903.4,270.5 897.6,268.4 895.1,268.9C892.6,269.4 891.8,272.3 892.1,275.7C892.3,279.1 893.6,283.5 896.6,289.3C899.7,295.1 904.7,303.4 910.2,310.5C915.8,317.5 923.9,325.1 929.9,331.7C935.9,338.2 941.7,344.5 946.5,349.8C951.3,355.1 954.6,359.1 958.6,363.4C962.7,367.7 966.2,371.2 970.7,375.5C975.3,379.8 980.8,384.8 985.8,389.1C990.9,393.4 996.4,397.7 1001.0,401.2C1005.5,404.7 1011.0,408.8 1013.1,410.3"/>
<path class="tr" stroke="#911eb4" d="M1028.9,388.8C1027.8,389.6 1023.0,391.1 1022.1,393.6C1021.3,396.2 1023.9,401.5 1023.6,404.2C1023.4,407.0 1021.1,409.3 1020.6,410.3"/>
<path class="tr" stroke="#911eb4" d="M925.4,398.1C925.1,399.2 925.1,402.2 923.9,404.2C922.6,406.2 919.7,407.7 917.8,410.2C915.9,412.8 914.3,416.0 912.5,419.3C910.7,422.6 908.9,426.4 907.2,429.9C905.6,433.4 904.1,437.0 902.7,440.5C901.3,444.0 899.8,448.0 898.9,451.1C898.0,454.1 897.0,456.1 897.4,458.6C897.8,461.1 899.4,464.0 901.2,466.2C902.9,468.3 904.9,471.2 908.0,471.5C911.0,471.7 915.2,469.0 919.3,467.7C923.5,466.4 928.1,465.6 932.9,463.9C937.7,462.3 943.3,459.9 948.0,457.9C952.8,455.9 957.4,453.7 961.7,451.8C965.9,449.9 969.7,448.7 973.8,446.5C977.8,444.4 982.1,442.0 985.8,439.0C989.6,435.9 993.2,431.4 996.4,428.4C999.7,425.4 1002.2,423.0 1005.5,420.8C1008.8,418.7 1013.4,417.8 1016.1,415.5C1018.7,413.3 1020.2,410.1 1021.4,407.2C1022.5,404.3 1022.8,400.5 1022.9,398.1C1023.0,395.8 1021.1,394.2 1022.1,392.9C1023.1,391.5 1027.8,390.3 1028.9,389.8"/>
<path class="tr" stroke="#911eb4" d="M922.3,414.8C921.6,414.1 920.3,412.5 917.8,411.0C915.3,409.5 910.6,407.7 907.2,405.7C903.8,403.7 896.9,400.5 897.4,398.9C897.9,397.3 905.6,396.5 910.2,396.3C914.9,396.2 921.8,397.1 925.4,398.1C928.9,399.2 928.4,401.0 931.4,402.7C934.4,404.3 939.0,406.6 943.5,408.0C948.0,409.4 952.8,409.7 958.6,411.0C964.4,412.3 971.2,414.0 978.3,415.5C985.3,417.0 994.7,418.9 1001.0,420.1C1007.3,421.2 1012.1,421.6 1016.1,422.3C1020.1,423.1 1021.4,423.0 1025.2,424.6C1028.9,426.2 1034.2,429.9 1038.8,432.2C1043.3,434.4 1047.8,435.8 1052.4,438.2C1056.9,440.6 1062.6,443.9 1066.0,446.5C1069.4,449.2 1071.5,451.4 1072.8,454.1C1074.1,456.7 1075.4,460.0 1073.5,462.4C1071.7,464.8 1066.0,467.3 1061.5,468.5C1056.9,469.6 1051.4,469.6 1046.3,469.2C1041.3,468.8 1036.2,466.9 1031.2,466.2C1026.2,465.4 1021.1,465.4 1016.1,464.7C1011.0,463.9 1006.0,462.7 1001.0,461.7C995.9,460.6 989.6,459.4 985.8,458.6C982.1,457.9 979.5,457.4 978.3,457.1"/>
<path class="tr" stroke="#911eb4" d="M922.3,414.8C922.2,415.8 920.8,418.8 921.6,420.8C922.3,422.8 925.2,424.4 926.9,426.9C928.5,429.4 929.1,433.4 931.4,435.9C933.7,438.5 937.2,440.2 940.5,442.0C943.8,443.8 947.5,445.0 951.1,446.5C954.6,448.0 958.4,450.1 961.7,451.1C964.9,452.1 966.7,451.8 970.7,452.6C974.8,453.3 980.8,454.7 985.8,455.6C990.9,456.5 995.9,457.5 1001.0,457.9C1006.0,458.3 1011.8,458.4 1016.1,457.9C1020.4,457.4 1023.1,455.9 1026.7,454.8C1030.2,453.8 1034.0,453.0 1037.3,451.8C1040.5,450.7 1044.4,449.2 1046.3,448.0C1048.2,446.9 1048.2,445.5 1048.6,445.0"/>
<path class="tr" stroke="#911eb4" d="M1013.1,413.3C1014.8,414.8 1020.4,419.6 1023.6,422.3C1026.9,425.1 1030.2,427.1 1032.7,429.9C1035.2,432.7 1037.0,435.9 1038.8,439.0C1040.5,442.0 1043.1,444.8 1043.3,448.0C1043.6,451.3 1041.3,454.8 1040.3,458.6C1039.3,462.4 1037.3,466.7 1037.3,470.7C1037.3,474.8 1038.8,478.8 1040.3,482.8C1041.8,486.9 1044.1,490.6 1046.3,494.9C1048.6,499.2 1051.4,503.7 1053.9,508.5C1056.4,513.3 1059.4,518.9 1061.5,523.6C1063.5,528.4 1064.7,533.7 1066.0,537.3C1067.2,540.8 1068.5,543.7 1069.0,545.0"/>
<path class="tr" stroke="#911eb4" d="M1025.9,398.1C1026.2,400.2 1026.8,406.5 1027.4,410.2C1028.1,414.0 1028.8,417.6 1029.7,420.8C1030.6,424.1 1032.5,426.6 1032.7,429.9C1033.0,433.2 1031.3,436.7 1031.2,440.5C1031.1,444.3 1031.5,448.5 1032.0,452.6C1032.5,456.6 1033.6,460.6 1034.2,464.7C1034.9,468.7 1035.7,473.2 1035.7,476.8C1035.7,480.3 1036.0,482.8 1034.2,485.8C1032.5,488.9 1028.2,491.9 1025.2,494.9C1022.1,497.9 1018.9,501.0 1016.1,504.0C1013.3,507.0 1009.8,511.6 1008.5,513.1"/>
<path class="tr" stroke="#911eb4" d="M961.7,452.6C961.5,453.6 959.4,456.6 960.9,458.6C962.4,460.6 967.1,462.4 970.7,464.7C974.4,466.9 978.8,470.2 982.8,472.2C986.9,474.3 990.6,475.3 994.9,476.8C999.2,478.3 1003.7,480.1 1008.5,481.3C1013.3,482.6 1018.6,483.6 1023.6,484.3C1028.7,485.1 1033.7,485.8 1038.8,485.8C1043.8,485.8 1050.1,485.6 1053.9,484.3C1057.7,483.1 1060.1,480.6 1061.5,478.3C1062.8,476.0 1062.1,472.0 1062.2,470.7"/>
<path class="tr" stroke="#911eb4" d="M1031.2,465.4C1029.7,465.6 1025.7,465.6 1022.1,466.2C1018.6,466.8 1014.1,468.0 1010.0,469.2C1006.0,470.5 1002.0,472.2 997.9,473.8C993.9,475.3 989.9,476.5 985.8,478.3C981.8,480.1 978.0,482.7 973.8,484.3C969.5,486.0 962.2,486.4 960.1,488.1C958.1,489.9 961.9,492.0 961.7,494.9C961.4,497.8 959.6,501.5 958.6,505.5C957.6,509.5 956.4,514.8 955.6,519.1C954.8,523.4 953.8,526.9 954.1,531.2C954.3,535.5 956.6,542.7 957.1,545.0"/>
<path class="tr" stroke="#911eb4" d="M1021.4,425.4C1020.8,427.4 1018.7,433.2 1017.6,437.5C1016.5,441.7 1015.6,446.5 1014.6,451.1C1013.6,455.6 1012.6,460.1 1011.6,464.7C1010.5,469.2 1009.5,474.3 1008.5,478.3C1007.5,482.3 1006.4,485.1 1005.5,488.9C1004.6,492.7 1003.2,497.2 1003.2,501.0C1003.2,504.7 1004.6,509.0 1005.5,511.6C1006.4,514.1 1006.8,515.8 1008.5,516.1C1010.3,516.3 1014.8,513.6 1016.1,513.1"/>
<path class="tr" stroke="#911eb4" d="M1078.1,485.8C1077.6,487.4 1076.1,491.6 1075.1,494.9C1074.1,498.2 1073.3,502.0 1072.0,505.5C1070.8,509.0 1069.3,512.3 1067.5,516.1C1065.7,519.9 1063.7,524.7 1061.5,528.2C1059.2,531.7 1056.4,534.5 1053.9,537.3C1051.4,540.1 1047.6,543.7 1046.3,545.0"/>
<path class="tr" stroke="#911eb4" d="M1053.9,482.8C1055.2,483.3 1058.9,484.3 1061.5,485.8C1064.0,487.4 1066.5,489.4 1069.0,491.9C1071.5,494.4 1074.3,497.9 1076.6,501.0C1078.8,504.0 1080.1,508.5 1082.6,510.0C1085.1,511.6 1091.7,509.9 1091.7,510.0C1091.7,510.2 1085.1,509.8 1082.6,510.8C1080.1,511.8 1078.6,514.2 1076.6,516.1C1074.6,518.0 1073.0,520.6 1070.5,522.1C1068.0,523.6 1063.0,524.7 1061.5,525.2"/>
<path class="tr" stroke="#911eb4" d="M1022.1,473.8C1021.9,475.8 1020.4,481.8 1020.6,485.8C1020.9,489.9 1022.4,493.9 1023.6,497.9C1024.9,502.0 1026.4,506.3 1028.2,510.0C1029.9,513.8 1031.7,517.1 1034.2,520.6C1036.8,524.2 1040.0,527.9 1043.3,531.2C1046.6,534.5 1050.9,538.0 1053.9,540.3C1056.9,542.6 1060.2,544.2 1061.5,545.0"/>
<path class="tr" stroke="#911eb4" d="M1020.6,494.9C1022.4,494.4 1027.4,493.2 1031.2,491.9C1035.0,490.6 1039.5,488.6 1043.3,487.4C1047.1,486.1 1052.1,484.8 1053.9,484.3"/>
<path class="tr" stroke="#911eb4" d="M1049.4,494.9C1051.4,494.9 1057.4,495.2 1061.5,494.9C1065.5,494.7 1071.5,493.7 1073.5,493.4"/>
<path class="tr" stroke="#911eb4" d="M1046.3,485.8C1047.6,488.4 1051.4,496.4 1053.9,501.0C1056.4,505.5 1058.9,509.0 1061.5,513.1C1064.0,517.1 1067.8,523.1 1069.0,525.2"/>
<path class="tr" stroke="#911eb4" d="M960.6,489.1C960.7,490.2 961.4,492.8 961.2,495.7C961.0,498.6 960.1,502.8 959.4,506.6C958.6,510.4 957.8,514.9 956.9,518.7C956.0,522.5 953.9,526.0 953.9,529.6C953.9,533.2 955.7,537.1 956.9,540.5C958.1,543.9 958.8,549.3 961.2,550.2C963.6,551.1 966.9,546.9 971.5,545.9C976.0,544.9 982.5,544.1 988.4,544.1C994.2,544.1 1000.5,545.2 1006.5,545.9C1012.6,546.6 1019.0,547.7 1024.7,548.3C1030.3,549.0 1036.4,548.9 1040.4,549.6C1044.4,550.3 1045.4,551.1 1048.9,552.6C1052.3,554.1 1057.3,556.6 1061.0,558.6C1064.6,560.6 1067.6,562.7 1070.6,564.7C1073.7,566.7 1075.8,568.4 1079.1,570.7C1082.4,573.0 1088.7,577.3 1090.6,578.6"/>
<path class="tr" stroke="#911eb4" d="M983.5,529.6C984.8,529.3 988.4,529.2 990.8,527.8C993.2,526.4 995.8,523.2 998.1,521.1C1000.3,519.0 1002.1,515.7 1004.1,515.1C1006.1,514.5 1007.9,518.1 1010.2,517.5C1012.4,516.9 1015.0,513.7 1017.4,511.5C1019.8,509.2 1022.3,506.4 1024.7,504.2C1027.1,502.0 1029.3,500.2 1031.9,498.1C1034.6,496.1 1037.6,493.9 1040.4,492.1C1043.2,490.3 1047.5,488.1 1048.9,487.3"/>
<path class="tr" stroke="#911eb4" d="M1005.3,486.0C1005.1,487.7 1004.5,492.7 1004.1,495.7C1003.7,498.8 1002.7,501.4 1002.9,504.2C1003.1,507.0 1003.7,512.1 1005.3,512.7C1006.9,513.3 1010.2,509.8 1012.6,507.8C1015.0,505.8 1018.6,501.8 1019.8,500.6"/>
<path class="tr" stroke="#911eb4" d="M1044.0,545.3C1043.4,546.9 1041.6,551.4 1040.4,555.0C1039.2,558.6 1037.8,563.9 1036.8,567.1C1035.8,570.3 1034.0,572.3 1034.4,574.4C1034.8,576.4 1036.8,578.0 1039.2,579.2C1041.6,580.4 1045.2,581.6 1048.9,581.6C1052.5,581.6 1057.9,580.2 1061.0,579.2C1064.0,578.2 1065.6,577.6 1067.0,575.6C1068.4,573.5 1068.4,569.9 1069.4,567.1C1070.4,564.3 1071.5,561.0 1073.1,558.6C1074.7,556.2 1076.1,554.4 1079.1,552.6C1082.1,550.8 1087.6,549.8 1091.2,547.7C1094.8,545.7 1097.9,541.5 1100.9,540.5C1103.9,539.5 1106.9,541.1 1109.4,541.7C1111.8,542.3 1114.5,545.1 1115.4,544.1C1116.3,543.1 1115.8,538.1 1114.8,535.6C1113.8,533.2 1112.3,530.7 1109.4,529.6C1106.4,528.5 1101.3,529.0 1097.3,529.0C1093.2,529.0 1089.6,529.7 1085.2,529.6C1080.7,529.5 1074.7,529.0 1070.6,528.4C1066.6,527.8 1062.6,526.4 1061.0,526.0"/>
<path class="tr" stroke="#911eb4" d="M1027.1,504.2C1027.5,505.8 1027.9,510.6 1029.5,513.9C1031.1,517.1 1034.0,520.5 1036.8,523.5C1039.6,526.6 1043.2,529.2 1046.5,532.0C1049.7,534.8 1052.9,537.5 1056.1,540.5C1059.4,543.5 1062.6,547.1 1065.8,550.2C1069.0,553.2 1074.3,556.2 1075.5,558.6C1076.7,561.0 1073.5,563.7 1073.1,564.7"/>
<path class="tr" stroke="#911eb4" d="M1076.7,486.0C1076.5,487.7 1076.5,492.1 1075.5,495.7C1074.5,499.4 1072.3,504.0 1070.6,507.8C1069.0,511.7 1067.8,515.3 1065.8,518.7C1063.8,522.1 1061.4,525.2 1058.5,528.4C1055.7,531.6 1051.3,535.2 1048.9,538.1C1046.5,540.9 1044.8,544.1 1044.0,545.3"/>
<path class="tr" stroke="#911eb4" d="M1048.9,487.3C1049.3,489.3 1050.1,495.3 1051.3,499.4C1052.5,503.4 1054.5,507.4 1056.1,511.5C1057.7,515.5 1059.8,519.5 1061.0,523.5C1062.2,527.6 1062.4,531.6 1063.4,535.6C1064.4,539.7 1065.4,543.9 1067.0,547.7C1068.6,551.6 1071.0,555.4 1073.1,558.6C1075.1,561.9 1077.1,564.5 1079.1,567.1C1081.1,569.7 1083.2,572.4 1085.2,574.4C1087.1,576.3 1089.7,577.9 1090.6,578.6"/>
<path class="tr" stroke="#911eb4" d="M1070.6,494.5C1071.5,495.3 1074.1,497.5 1075.5,499.4C1076.9,501.2 1077.9,503.6 1079.1,505.4C1080.3,507.2 1080.3,509.5 1082.7,510.2C1085.2,510.9 1093.6,509.5 1093.6,509.6C1093.6,509.7 1085.8,509.7 1082.7,510.8C1079.7,512.0 1078.1,514.4 1075.5,516.3C1072.9,518.2 1069.4,520.7 1067.0,522.3C1064.6,524.0 1062.0,525.4 1061.0,526.0"/>
<path class="tr" stroke="#911eb4" d="M1032.7,429.9C1034.0,432.2 1037.8,438.7 1040.3,443.5C1042.8,448.3 1045.6,453.6 1047.8,458.6C1050.1,463.7 1052.1,469.2 1053.9,473.8C1055.7,478.3 1056.4,481.3 1058.4,485.8C1060.4,490.4 1064.7,498.4 1066.0,501.0"/>
<path class="tr" stroke="#911eb4" d="M1016.1,464.7C1017.6,466.7 1021.6,473.2 1025.2,476.8C1028.7,480.3 1032.7,483.3 1037.3,485.8C1041.8,488.4 1047.3,490.4 1052.4,491.9C1057.4,493.4 1065.0,494.4 1067.5,494.9"/>
<path class="tr" stroke="#911eb4" d="M1072.0,455.6C1070.8,458.1 1067.2,465.7 1064.5,470.7C1061.7,475.8 1057.9,480.8 1055.4,485.8C1052.9,490.9 1050.9,495.9 1049.4,501.0C1047.8,506.0 1046.8,513.6 1046.3,516.1"/>
<path class="tr" stroke="#911eb4" d="M1038.8,470.7C1040.0,472.7 1043.1,478.8 1046.3,482.8C1049.6,486.9 1054.4,490.6 1058.4,494.9C1062.5,499.2 1067.5,505.0 1070.5,508.5C1073.5,512.1 1075.6,514.8 1076.6,516.1"/>
<circle cx="1079.5" cy="473.8" r="10.8" fill="#878787"/>
<circle cx="973.9" cy="524.8" r="10.7" fill="#898989"/>
<circle cx="973.9" cy="524.8" r="6.0" fill="none" stroke="#fff" stroke-width="1.9"/>
</g>
<g id="traj2" style="stroke-width:4.1">
<path class="tr" stroke="#ffe119" d="M1647.9,385.0C1648.4,384.0 1649.7,381.2 1651.0,379.0C1652.2,376.7 1653.0,373.7 1655.5,371.4C1658.0,369.1 1661.8,366.7 1666.1,365.4C1670.4,364.0 1678.4,364.4 1681.2,363.1C1684.0,361.8 1681.7,358.8 1682.7,357.8C1683.7,356.8 1686.0,356.5 1687.3,357.0C1688.5,357.6 1688.8,361.0 1690.3,360.8C1691.8,360.7 1694.1,358.1 1696.3,356.3C1698.6,354.5 1701.9,352.3 1703.9,350.2C1705.9,348.2 1705.7,346.2 1708.4,344.2C1711.2,342.2 1717.0,339.9 1720.5,338.1C1724.1,336.4 1726.8,334.6 1729.6,333.6C1732.4,332.6 1734.6,331.8 1737.2,332.1C1739.7,332.3 1742.7,333.1 1744.7,335.1C1746.7,337.1 1748.5,340.9 1749.3,344.2C1750.0,347.5 1749.8,351.0 1749.3,354.8C1748.8,358.6 1747.5,362.6 1746.2,366.9C1745.0,371.2 1743.2,376.2 1741.7,380.5C1740.2,384.8 1738.7,388.5 1737.2,392.6C1735.6,396.6 1733.9,401.1 1732.6,404.7C1731.4,408.2 1730.1,412.2 1729.6,413.8"/>
<path class="tr" stroke="#ffe119" d="M1647.9,385.0C1649.7,384.9 1655.5,384.8 1658.5,384.3C1661.6,383.8 1663.6,382.8 1666.1,382.0C1668.6,381.2 1671.1,381.0 1673.6,379.7C1676.2,378.5 1679.2,376.1 1681.2,374.4C1683.2,372.8 1684.2,371.7 1685.7,369.9C1687.3,368.1 1689.5,364.9 1690.3,363.9"/>
<path class="tr" stroke="#ffe119" d="M1663.1,391.1C1661.0,391.3 1655.5,391.6 1651.0,392.6C1646.4,393.6 1640.9,395.4 1635.8,397.1C1630.8,398.9 1624.8,401.5 1620.7,403.2C1616.7,404.8 1612.7,405.7 1611.7,406.9C1610.6,408.2 1613.2,409.8 1614.7,410.7C1616.2,411.6 1618.5,411.4 1620.7,412.2C1623.0,413.1 1625.3,415.3 1628.3,416.0C1631.3,416.8 1635.1,416.6 1638.9,416.8C1642.7,416.9 1646.4,416.3 1651.0,416.8C1655.5,417.3 1661.0,418.8 1666.1,419.8C1671.1,420.8 1676.2,421.8 1681.2,422.8C1686.2,423.8 1693.8,425.3 1696.3,425.8"/>
<path class="tr" stroke="#ffe119" d="M1629.8,453.1C1630.8,451.8 1633.8,447.1 1635.8,445.5C1637.9,443.9 1640.1,442.5 1641.9,443.2C1643.7,444.0 1645.2,448.2 1646.4,450.0C1647.7,451.9 1649.0,453.8 1649.5,454.6"/>
<path class="tr" stroke="#ffe119" d="M1634.3,448.5 L1644.9,448.5"/>
<path class="tr" stroke="#ffe119" d="M1717.5,434.9C1719.0,435.4 1723.0,437.9 1726.6,437.9C1730.1,437.9 1734.9,434.4 1738.7,434.9C1742.4,435.4 1746.7,439.2 1749.3,441.0C1751.8,442.7 1751.5,443.7 1753.8,445.5C1756.1,447.3 1760.8,449.8 1762.9,451.6C1764.9,453.3 1766.4,454.3 1765.9,456.1C1765.4,457.9 1762.6,460.6 1759.8,462.1C1757.1,463.6 1752.3,464.2 1749.3,465.2C1746.2,466.2 1743.7,466.9 1741.7,468.2C1739.7,469.4 1737.4,471.0 1737.2,472.7C1736.9,474.5 1739.4,476.7 1740.2,478.8C1740.9,480.8 1741.4,483.9 1741.7,485.0"/>
<path class="tr" stroke="#ffe119" style="stroke-width:4" d="M1613.2,492.9C1614.4,492.5 1618.2,489.9 1620.7,490.7C1623.2,491.4 1628.3,495.9 1628.3,497.5C1628.3,499.0 1623.2,500.5 1620.7,499.7C1618.2,499.0 1614.4,494.1 1613.2,492.9"/>
<path class="tr" stroke="#ffe119" d="M1741.7,485.4C1742.2,487.4 1743.5,493.9 1744.7,497.5C1746.0,501.0 1747.2,504.0 1749.3,506.5C1751.3,509.1 1754.0,510.6 1756.8,512.6C1759.6,514.6 1763.6,516.4 1765.9,518.6C1768.2,520.9 1768.7,524.7 1770.4,526.2C1772.2,527.7 1775.5,526.9 1776.5,527.7C1777.5,528.5 1777.7,530.2 1776.5,530.7C1775.2,531.2 1771.7,530.7 1768.9,530.7C1766.1,530.7 1762.4,531.7 1759.8,530.7C1757.3,529.7 1755.8,526.7 1753.8,524.7C1751.8,522.7 1749.8,520.6 1747.7,518.6C1745.7,516.6 1742.7,513.6 1741.7,512.6"/>
<path class="tr" stroke="#ffe119" d="M1749.3,530.7C1749.3,532.2 1750.0,537.3 1749.3,539.8C1748.5,542.3 1747.2,545.1 1744.7,545.8C1742.2,546.6 1737.2,545.6 1734.1,544.3C1731.1,543.1 1729.1,540.6 1726.6,538.3C1724.1,536.0 1721.5,533.0 1719.0,530.7C1716.5,528.5 1714.0,527.2 1711.5,524.7C1708.9,522.2 1706.4,518.4 1703.9,515.6C1701.4,512.8 1697.6,509.3 1696.3,508.0"/>
<path class="tr" stroke="#ffe119" d="M1681.2,545.8C1682.5,546.4 1685.7,548.4 1688.8,548.9C1691.8,549.4 1695.6,549.6 1699.4,548.9C1703.1,548.1 1707.4,544.8 1711.5,544.3C1715.5,543.8 1719.8,545.8 1723.5,545.8C1727.3,545.8 1732.4,544.6 1734.1,544.3"/>
<path class="tr" stroke="#ffe119" d="M1635.8,524.7C1637.4,526.2 1642.4,531.5 1644.9,533.8C1647.4,536.0 1651.0,537.3 1651.0,538.3C1651.0,539.3 1645.9,539.5 1644.9,539.8"/>
<path class="tr" stroke="#ffe119" d="M1651.0,521.7C1652.2,523.2 1656.0,528.0 1658.5,530.7C1661.0,533.5 1664.8,537.0 1666.1,538.3"/>
<path class="tr" stroke="#ffe119" d="M1681.2,503.5C1683.7,503.0 1692.6,502.2 1696.3,500.5C1700.1,498.7 1702.6,494.2 1703.9,492.9"/>
<path class="tr" stroke="#ffe119" d="M1688.8,485.4C1690.0,485.9 1693.8,487.4 1696.3,488.4C1698.9,489.4 1700.1,491.2 1703.9,491.4C1707.7,491.7 1716.5,490.2 1719.0,489.9"/>
<path class="tr" stroke="#ffe119" d="M1703.9,512.6C1706.4,513.6 1714.0,517.1 1719.0,518.6C1724.1,520.1 1730.4,519.6 1734.1,521.7C1737.9,523.7 1740.4,529.2 1741.7,530.7"/>
<path class="tr" stroke="#ffe119" d="M1635.8,485.4C1636.9,488.4 1641.9,499.2 1641.9,503.5C1641.9,507.8 1635.3,508.5 1635.8,511.1C1636.4,513.6 1643.4,517.4 1644.9,518.6"/>
<path class="tr" stroke="#ffe119" d="M1719.0,470.2C1720.3,471.8 1725.8,476.0 1726.6,479.3C1727.3,482.6 1725.6,486.9 1723.5,489.9C1721.5,492.9 1716.0,496.2 1714.5,497.5"/>
<path class="tr" stroke="#ffe119" d="M1691.6,509.5C1692.6,508.9 1695.6,507.1 1697.5,505.8C1699.5,504.5 1701.4,503.0 1703.4,501.7C1705.3,500.4 1707.3,499.3 1709.3,498.0C1711.3,496.7 1713.9,495.5 1715.4,493.9C1717.0,492.3 1717.7,490.5 1718.7,488.4C1719.6,486.4 1720.9,483.9 1721.1,481.6C1721.4,479.2 1720.9,476.3 1720.1,474.3C1719.3,472.2 1718.3,470.3 1716.3,469.3C1714.3,468.3 1710.2,468.1 1707.9,468.2C1705.6,468.3 1704.1,468.7 1702.5,470.0C1700.8,471.2 1699.3,473.9 1697.8,475.8C1696.3,477.6 1695.1,479.4 1693.6,481.2C1692.1,482.9 1690.4,484.8 1688.8,486.4C1687.1,488.1 1685.4,489.8 1683.6,491.3C1681.8,492.8 1679.7,494.0 1677.9,495.4C1676.1,496.9 1674.6,498.8 1672.7,500.1C1670.8,501.3 1668.7,502.1 1666.5,502.9C1664.2,503.7 1661.3,504.7 1659.0,504.7C1656.7,504.7 1654.9,503.4 1652.7,502.7C1650.6,502.0 1647.8,501.7 1646.0,500.3C1644.2,498.8 1642.5,496.1 1641.9,493.8C1641.4,491.6 1642.2,489.0 1642.9,487.0C1643.7,484.9 1644.6,482.7 1646.4,481.6C1648.2,480.4 1651.4,480.0 1653.6,480.0C1655.8,480.0 1657.6,480.7 1659.8,481.3C1662.0,481.9 1664.5,483.1 1666.8,483.6C1669.1,484.1 1671.3,484.1 1673.5,484.4C1675.7,484.6 1677.7,484.9 1680.0,485.0C1682.3,485.2 1685.0,485.3 1687.4,485.3C1689.8,485.2 1692.1,484.9 1694.5,484.6C1696.9,484.4 1699.4,484.2 1701.8,483.9C1704.2,483.6 1706.8,483.1 1709.0,482.9C1711.2,482.6 1712.8,482.6 1715.0,482.1C1717.2,481.7 1719.7,480.4 1722.1,480.3C1724.5,480.1 1727.3,480.3 1729.4,480.9C1731.6,481.6 1733.8,482.4 1735.2,484.1C1736.5,485.7 1737.1,488.7 1737.3,491.0C1737.6,493.3 1737.0,495.5 1736.7,497.8C1736.4,500.1 1735.6,502.6 1735.7,505.0C1735.7,507.4 1736.8,509.8 1737.1,512.1C1737.4,514.3 1736.8,516.3 1737.4,518.6C1738.1,520.9 1740.6,523.6 1740.8,525.8C1741.0,528.0 1739.9,529.9 1738.7,531.8C1737.4,533.8 1735.2,536.4 1733.2,537.5C1731.2,538.5 1728.8,538.7 1726.7,538.1C1724.5,537.6 1722.4,535.5 1720.5,534.0C1718.5,532.6 1716.6,531.0 1714.8,529.4C1713.0,527.8 1711.3,525.9 1709.7,524.4C1708.1,522.9 1706.8,521.9 1705.1,520.3C1703.5,518.7 1701.5,516.6 1700.0,514.8C1698.5,513.1 1697.9,511.2 1696.2,509.8C1694.4,508.4 1691.6,507.0 1689.4,506.2C1687.2,505.4 1685.3,505.0 1683.0,505.0C1680.7,505.0 1678.1,505.4 1675.8,506.2C1673.4,507.0 1670.8,508.5 1668.9,509.8C1666.9,511.0 1665.4,512.2 1663.8,513.8C1662.2,515.3 1660.9,517.4 1659.2,519.0C1657.6,520.7 1655.0,521.9 1654.0,523.9C1653.0,525.9 1653.1,528.7 1653.3,531.0C1653.4,533.3 1653.4,536.0 1654.7,537.6C1656.1,539.2 1659.3,539.9 1661.5,540.6C1663.6,541.3 1665.6,542.4 1667.7,541.8C1669.9,541.1 1672.4,538.5 1674.3,536.8C1676.2,535.1 1677.4,533.2 1679.0,531.6C1680.6,530.0 1682.1,528.7 1683.8,527.3C1685.5,525.9 1687.1,524.7 1689.1,523.3C1691.1,521.9 1693.7,520.4 1695.8,519.0C1697.8,517.7 1699.5,516.0 1701.6,515.1C1703.6,514.2 1705.9,514.0 1708.1,513.7C1710.3,513.4 1712.3,513.1 1714.6,513.2C1716.9,513.3 1719.4,514.0 1721.7,514.2C1724.0,514.5 1725.8,514.3 1728.3,514.6C1730.7,514.8 1734.0,515.4 1736.5,515.6C1739.0,515.8 1741.2,516.4 1743.3,515.7C1745.4,515.0 1747.8,512.9 1749.2,511.1C1750.6,509.4 1751.3,507.3 1751.5,505.1C1751.8,502.9 1751.6,499.9 1750.6,497.9C1749.6,495.9 1747.6,494.0 1745.5,493.0C1743.4,492.1 1740.3,491.9 1737.8,492.0C1735.4,492.1 1732.0,493.4 1730.8,493.7"/>
<circle cx="1637.1" cy="421.3" r="10.8" fill="#878787"/>
<path class="tr" stroke="#4363d8" d="M1663.1,391.1C1661.0,390.4 1655.5,387.7 1651.0,387.3C1646.4,386.9 1640.9,387.9 1635.8,388.8C1630.8,389.7 1625.8,391.3 1620.7,392.6C1615.7,393.8 1610.6,395.2 1605.6,396.4C1600.6,397.5 1595.5,398.5 1590.5,399.4C1585.4,400.3 1578.9,400.8 1575.4,401.7C1571.8,402.5 1570.8,402.7 1569.3,404.7C1567.8,406.7 1567.3,410.7 1566.3,413.8C1565.3,416.8 1565.0,420.1 1563.3,422.8C1561.5,425.6 1557.6,428.6 1555.7,430.4C1553.8,432.1 1551.9,431.9 1551.9,433.4C1551.9,434.9 1553.6,437.2 1555.7,439.5C1557.8,441.7 1562.5,445.0 1564.8,447.0C1567.0,449.0 1569.1,450.3 1569.3,451.6C1569.6,452.8 1565.3,454.3 1566.3,454.6C1567.3,454.8 1571.3,454.3 1575.4,453.1C1579.4,451.8 1585.4,449.0 1590.5,447.0C1595.5,445.0 1600.6,443.0 1605.6,441.0C1610.6,439.0 1616.2,436.6 1620.7,434.9C1625.3,433.3 1630.8,431.8 1632.8,431.1"/>
<path class="tr" stroke="#4363d8" d="M1569.3,451.6C1571.6,451.0 1578.1,449.8 1582.9,448.5C1587.7,447.3 1592.8,446.0 1598.0,444.0C1603.3,442.0 1609.6,438.7 1614.7,436.4C1619.7,434.2 1626.0,431.4 1628.3,430.4"/>
<path class="tr" stroke="#4363d8" d="M1566.3,454.6C1568.6,454.8 1574.6,455.2 1579.9,456.1C1585.2,457.0 1592.2,459.0 1598.0,459.9C1603.8,460.8 1609.6,461.1 1614.7,461.4C1619.7,461.6 1624.3,461.6 1628.3,461.4C1632.3,461.1 1635.1,460.6 1638.9,459.9C1642.7,459.1 1647.7,457.7 1651.0,456.8C1654.2,456.0 1657.3,455.0 1658.5,454.6"/>
<path class="tr" stroke="#4363d8" d="M1663.1,391.1C1664.8,389.8 1670.6,386.3 1673.6,383.5C1676.7,380.7 1678.7,377.0 1681.2,374.4C1683.7,371.9 1686.2,370.2 1688.8,368.4C1691.3,366.6 1693.6,365.1 1696.3,363.9C1699.1,362.6 1702.9,361.8 1705.4,360.8C1707.9,359.8 1708.9,358.3 1711.5,357.8C1714.0,357.3 1718.0,357.3 1720.5,357.8C1723.0,358.3 1725.3,358.8 1726.6,360.8C1727.8,362.8 1727.6,366.6 1728.1,369.9C1728.6,373.2 1729.3,376.7 1729.6,380.5C1729.8,384.3 1729.8,388.5 1729.6,392.6C1729.3,396.6 1728.3,401.1 1728.1,404.7C1727.8,408.2 1727.1,411.7 1728.1,413.8C1729.1,415.8 1734.1,416.0 1734.1,416.8C1734.1,417.5 1729.3,416.3 1728.1,418.3C1726.8,420.3 1726.6,425.1 1726.6,428.9C1726.6,432.7 1727.8,439.0 1728.1,441.0"/>
<path class="tr" stroke="#4363d8" d="M1675.2,385.8C1677.4,385.4 1684.7,384.4 1688.8,383.5C1692.8,382.6 1696.3,381.7 1699.4,380.5C1702.4,379.2 1705.2,378.2 1706.9,375.9C1708.7,373.7 1709.2,369.6 1709.9,366.9C1710.7,364.1 1711.2,360.6 1711.5,359.3"/>
<path class="tr" stroke="#4363d8" d="M1666.1,391.1C1664.8,392.8 1661.6,397.9 1658.5,401.7C1655.5,405.4 1649.5,411.0 1647.9,413.8C1646.4,416.5 1647.4,417.3 1649.5,418.3C1651.5,419.3 1657.8,418.8 1660.0,419.8C1662.3,420.8 1662.6,423.6 1663.1,424.3"/>
<path class="tr" stroke="#4363d8" d="M1658.5,413.8C1661.0,412.0 1668.6,406.7 1673.6,403.2C1678.7,399.6 1683.7,395.9 1688.8,392.6C1693.8,389.3 1699.4,385.8 1703.9,383.5C1708.4,381.2 1713.2,379.5 1716.0,379.0C1718.8,378.5 1720.0,378.7 1720.5,380.5C1721.0,382.2 1720.5,386.0 1719.0,389.6C1717.5,393.1 1714.0,397.6 1711.5,401.7C1708.9,405.7 1705.2,411.7 1703.9,413.8"/>
<path class="tr" stroke="#4363d8" style="stroke-width:4.5" d="M1696.3,395.6C1695.8,397.1 1695.3,401.7 1693.3,404.7C1691.3,407.7 1686.8,410.2 1684.2,413.8C1681.7,417.3 1679.9,421.8 1678.2,425.8C1676.4,429.9 1674.4,435.9 1673.6,437.9"/>
<path class="tr" stroke="#4363d8" d="M1719.0,363.9C1719.0,366.1 1718.8,373.2 1719.0,377.5C1719.3,381.7 1719.5,385.5 1720.5,389.6C1721.5,393.6 1724.1,398.1 1725.1,401.7C1726.1,405.2 1726.3,409.2 1726.6,410.7"/>
<path class="tr" stroke="#4363d8" d="M1638.9,433.4C1637.4,434.9 1632.3,439.2 1629.8,442.5C1627.3,445.8 1625.0,449.3 1623.8,453.1C1622.5,456.8 1622.2,461.1 1622.2,465.2C1622.2,469.2 1623.0,474.0 1623.8,477.3C1624.5,480.6 1626.3,483.7 1626.8,485.0"/>
<path class="tr" stroke="#4363d8" d="M1647.9,437.9C1648.4,438.7 1650.0,440.7 1651.0,442.5C1652.0,444.2 1653.2,446.5 1654.0,448.5C1654.7,450.5 1655.3,453.6 1655.5,454.6"/>
<path class="tr" stroke="#4363d8" d="M1651.0,442.5C1652.5,443.0 1657.0,445.5 1660.0,445.5C1663.1,445.5 1667.6,443.0 1669.1,442.5"/>
<path class="tr" stroke="#4363d8" d="M1696.3,436.4C1697.1,437.2 1699.4,440.7 1700.9,441.0C1702.4,441.2 1703.6,437.2 1705.4,437.9C1707.2,438.7 1709.7,445.5 1711.5,445.5C1713.2,445.5 1715.0,437.4 1716.0,437.9C1717.0,438.4 1717.2,446.8 1717.5,448.5"/>
<path class="tr" stroke="#4363d8" d="M1688.8,425.8C1688.0,427.4 1686.0,431.6 1684.2,434.9C1682.5,438.2 1679.7,442.5 1678.2,445.5C1676.7,448.5 1675.7,451.8 1675.2,453.1"/>
<path class="tr" stroke="#4363d8" d="M1711.5,524.7C1712.7,526.9 1716.5,534.0 1719.0,538.3C1721.5,542.6 1723.3,546.6 1726.6,550.4C1729.8,554.2 1734.9,557.9 1738.7,561.0C1742.4,564.0 1745.7,566.5 1749.3,568.5C1752.8,570.5 1756.1,572.2 1759.8,573.1C1763.6,573.9 1767.9,573.4 1771.9,573.8C1776.0,574.2 1780.8,574.6 1784.0,575.3C1787.3,576.1 1790.6,577.2 1791.6,578.4C1792.6,579.5 1791.8,581.6 1790.1,582.1C1788.3,582.6 1784.0,582.1 1781.0,581.4C1778.0,580.6 1774.5,578.7 1771.9,577.6C1769.4,576.5 1768.4,575.7 1765.9,574.6C1763.4,573.4 1760.1,572.4 1756.8,570.8C1753.5,569.2 1749.8,567.0 1746.2,564.7C1742.7,562.5 1739.2,560.2 1735.6,557.2C1732.1,554.2 1728.1,550.1 1725.1,546.6C1722.0,543.1 1719.8,539.4 1717.5,536.0C1715.2,532.6 1712.5,527.8 1711.5,526.2"/>
<path class="tr" stroke="#4363d8" d="M1625.3,459.7C1624.9,461.4 1623.1,466.5 1623.0,470.2C1622.9,474.0 1623.6,478.3 1624.5,482.3C1625.4,486.4 1627.4,490.2 1628.3,494.4C1629.2,498.7 1629.3,503.5 1629.8,508.0C1630.3,512.6 1630.8,517.4 1631.3,521.7C1631.8,525.9 1632.1,530.2 1632.8,533.8C1633.6,537.3 1633.8,541.1 1635.8,542.8C1637.9,544.6 1641.1,544.3 1644.9,544.3C1648.7,544.3 1653.7,543.6 1658.5,542.8C1663.3,542.1 1668.6,540.6 1673.6,539.8C1678.7,539.0 1683.7,538.3 1688.8,538.3C1693.8,538.3 1699.4,539.3 1703.9,539.8C1708.4,540.3 1712.2,541.6 1716.0,541.3C1719.8,541.1 1723.5,540.1 1726.6,538.3C1729.6,536.5 1731.9,533.5 1734.1,530.7C1736.4,528.0 1738.7,524.9 1740.2,521.7C1741.7,518.4 1743.5,514.6 1743.2,511.1C1743.0,507.5 1740.4,504.0 1738.7,500.5C1736.9,497.0 1734.1,493.7 1732.6,489.9C1731.1,486.1 1730.1,479.8 1729.6,477.8"/>
<path class="tr" stroke="#4363d8" d="M1632.8,485.4C1633.3,487.9 1634.8,495.4 1635.8,500.5C1636.9,505.5 1637.6,510.6 1638.9,515.6C1640.1,520.6 1641.4,529.7 1643.4,530.7C1645.4,531.7 1648.4,524.2 1651.0,521.7C1653.5,519.1 1657.3,516.6 1658.5,515.6"/>
<path class="tr" stroke="#4363d8" d="M1681.2,497.5C1682.5,499.2 1686.8,504.5 1688.8,508.0C1690.8,511.6 1693.1,515.1 1693.3,518.6C1693.6,522.2 1692.3,526.2 1690.3,529.2C1688.3,532.2 1682.7,535.5 1681.2,536.8"/>
<path class="tr" stroke="#4363d8" style="stroke-width:4" d="M1696.3,530.7C1697.6,528.7 1701.9,522.7 1703.9,518.6C1705.9,514.6 1707.4,510.8 1708.4,506.5C1709.4,502.2 1709.9,497.0 1709.9,492.9C1709.9,488.9 1708.2,485.6 1708.4,482.3C1708.7,479.1 1710.9,474.8 1711.5,473.3"/>
<path class="tr" stroke="#4363d8" d="M1711.5,500.5C1712.7,502.5 1716.5,508.5 1719.0,512.6C1721.5,516.6 1724.8,520.6 1726.6,524.7C1728.3,528.7 1729.1,534.8 1729.6,536.8"/>
<path class="tr" stroke="#4363d8" d="M1681.2,503.5C1683.7,503.0 1691.3,501.5 1696.3,500.5C1701.4,499.5 1706.4,498.0 1711.5,497.5C1716.5,497.0 1724.1,497.5 1726.6,497.5"/>
<path class="tr" stroke="#4363d8" d="M1694.9,514.9C1695.4,513.9 1696.5,511.1 1697.6,508.9C1698.6,506.8 1699.5,504.0 1701.0,502.0C1702.5,500.0 1705.0,498.8 1706.5,497.0C1707.9,495.3 1708.7,493.6 1709.8,491.7C1710.8,489.8 1711.7,487.7 1712.9,485.7C1714.0,483.7 1715.6,481.8 1716.7,479.7C1717.9,477.6 1718.6,475.1 1719.9,473.2C1721.3,471.3 1722.9,469.7 1724.8,468.6C1726.7,467.4 1729.1,466.1 1731.2,466.2C1733.3,466.3 1735.9,467.9 1737.6,469.3C1739.3,470.6 1741.0,472.1 1741.7,474.3C1742.4,476.4 1742.6,480.2 1742.0,482.3C1741.3,484.4 1739.7,485.4 1738.0,486.8C1736.3,488.1 1734.0,489.3 1732.0,490.2C1729.9,491.1 1728.2,491.3 1725.9,492.1C1723.6,492.9 1720.6,494.5 1718.2,495.1C1715.8,495.7 1713.8,495.5 1711.5,495.9C1709.2,496.3 1706.8,497.2 1704.5,497.5C1702.3,497.8 1700.3,498.0 1698.1,497.5C1695.9,497.0 1693.6,495.5 1691.3,494.6C1689.1,493.6 1686.7,493.0 1684.6,491.9C1682.6,490.8 1681.0,489.4 1679.1,488.1C1677.2,486.7 1675.1,485.2 1673.2,483.7C1671.3,482.1 1669.5,480.3 1667.8,478.8C1666.1,477.2 1664.8,475.9 1663.1,474.6C1661.3,473.2 1658.5,472.3 1657.3,470.4C1656.0,468.6 1655.5,465.6 1655.5,463.4C1655.6,461.2 1656.2,458.9 1657.5,457.2C1658.8,455.4 1661.2,453.8 1663.3,453.0C1665.3,452.2 1667.5,451.7 1669.7,452.2C1671.8,452.7 1674.6,454.3 1676.1,456.1C1677.7,458.0 1678.0,461.3 1678.9,463.2C1679.9,465.1 1680.7,465.6 1682.0,467.5C1683.3,469.3 1685.1,472.3 1686.6,474.2C1688.1,476.2 1689.7,477.5 1691.2,479.3C1692.6,481.1 1693.5,483.2 1695.1,485.0C1696.7,486.8 1699.3,488.0 1700.7,489.9C1702.2,491.7 1702.8,493.9 1704.0,496.0C1705.2,498.1 1707.0,500.5 1708.0,502.4C1709.1,504.3 1709.2,505.8 1710.4,507.5C1711.6,509.2 1713.5,511.1 1715.3,512.8C1717.1,514.5 1719.1,516.6 1721.1,517.9C1723.0,519.2 1724.7,520.1 1727.0,520.6C1729.4,521.2 1733.0,520.5 1735.2,521.3C1737.4,522.1 1739.1,523.6 1740.2,525.6C1741.3,527.6 1741.7,530.9 1741.5,533.2C1741.4,535.5 1740.7,537.3 1739.3,539.1C1737.9,540.9 1735.5,543.1 1733.3,543.8C1731.2,544.5 1728.5,543.9 1726.3,543.3C1724.2,542.6 1722.1,541.3 1720.3,539.9C1718.5,538.5 1716.8,536.7 1715.5,534.8C1714.1,532.9 1713.1,530.7 1712.4,528.6C1711.7,526.4 1711.5,524.0 1711.2,521.8C1710.9,519.6 1710.9,517.5 1710.6,515.3C1710.3,513.1 1709.6,511.2 1709.5,508.8C1709.3,506.4 1709.6,503.3 1709.9,500.9C1710.1,498.4 1710.5,496.2 1711.0,494.1C1711.6,491.9 1712.3,489.8 1713.2,487.8C1714.1,485.7 1715.4,483.8 1716.6,481.7C1717.8,479.6 1719.3,477.2 1720.4,475.1C1721.5,473.1 1722.6,471.6 1723.2,469.4C1723.8,467.2 1724.3,464.3 1723.9,462.0C1723.5,459.7 1722.6,457.1 1720.8,455.6C1719.1,454.0 1715.7,453.0 1713.5,452.6C1711.3,452.2 1709.3,452.4 1707.4,453.3C1705.5,454.3 1703.4,456.2 1702.1,458.2C1700.9,460.2 1700.4,463.0 1699.8,465.3C1699.3,467.7 1699.1,469.9 1698.8,472.3C1698.5,474.6 1698.5,477.2 1697.9,479.5C1697.4,481.7 1696.3,483.5 1695.5,485.8C1694.8,488.1 1694.1,491.1 1693.4,493.3C1692.6,495.5 1691.7,497.0 1690.9,499.0C1690.1,501.1 1689.4,503.6 1688.6,505.8C1687.7,508.0 1687.1,510.3 1685.8,512.2C1684.5,514.1 1682.5,515.7 1680.8,517.2C1679.0,518.8 1677.4,520.2 1675.4,521.5C1673.5,522.8 1671.3,524.0 1669.2,525.2C1667.0,526.3 1664.7,527.6 1662.5,528.3C1660.3,528.9 1658.3,528.9 1656.1,529.1C1653.9,529.3 1651.5,529.7 1649.2,529.6C1647.0,529.6 1644.6,529.7 1642.5,529.1C1640.4,528.4 1637.8,527.4 1636.7,525.6C1635.5,523.8 1635.4,520.4 1635.4,518.1C1635.4,515.8 1635.6,513.5 1636.7,511.7C1637.8,509.8 1640.0,508.7 1641.9,507.2C1643.7,505.8 1645.8,504.2 1647.8,503.0C1649.7,501.9 1651.4,501.1 1653.6,500.3C1655.7,499.5 1658.4,498.4 1660.7,498.0C1662.9,497.5 1665.1,497.4 1667.3,497.7C1669.6,498.0 1672.1,498.9 1674.2,499.7C1676.3,500.5 1678.2,501.1 1680.0,502.5C1681.7,503.9 1683.4,506.1 1684.7,508.1C1686.0,510.2 1687.4,512.7 1687.8,514.9C1688.3,517.1 1687.9,519.1 1687.4,521.3C1686.8,523.5 1685.7,526.1 1684.4,528.1C1683.0,530.0 1681.3,532.1 1679.4,533.2C1677.5,534.3 1675.3,534.6 1673.0,534.7C1670.7,534.7 1668.1,534.1 1665.9,533.3C1663.6,532.6 1661.3,531.7 1659.5,530.2C1657.7,528.7 1655.6,526.6 1655.1,524.5C1654.6,522.3 1655.7,519.3 1656.2,517.1C1656.8,514.8 1657.2,512.7 1658.2,510.8C1659.2,508.8 1660.9,507.1 1662.5,505.4C1664.0,503.7 1665.6,502.0 1667.4,500.6C1669.2,499.2 1671.0,498.0 1673.2,497.1C1675.3,496.2 1677.9,495.4 1680.3,495.2C1682.7,495.0 1685.2,495.2 1687.6,495.8C1689.9,496.4 1692.4,497.4 1694.3,498.7C1696.2,500.0 1698.0,501.7 1698.9,503.7C1699.9,505.8 1699.9,508.6 1700.1,510.8C1700.3,513.1 1700.5,515.0 1700.1,517.3C1699.7,519.7 1698.6,522.6 1697.5,524.8C1696.4,527.1 1694.8,529.0 1693.5,530.8C1692.2,532.7 1691.5,534.8 1689.8,535.9C1688.1,537.1 1685.5,537.7 1683.2,537.7C1681.0,537.7 1678.3,537.0 1676.2,535.9C1674.1,534.8 1672.2,532.9 1670.7,531.2C1669.3,529.5 1669.1,527.6 1667.8,525.8C1666.5,524.1 1664.7,522.4 1663.1,520.7C1661.4,518.9 1659.6,516.9 1657.7,515.3C1655.9,513.6 1653.8,512.3 1651.9,511.0C1649.9,509.8 1648.0,508.9 1646.0,507.8C1644.1,506.6 1641.8,505.7 1640.3,504.0C1638.9,502.4 1637.7,499.9 1637.3,497.7C1636.9,495.5 1637.4,492.8 1638.2,490.7C1639.0,488.7 1640.4,486.6 1642.3,485.4C1644.2,484.3 1647.3,483.7 1649.7,483.9C1652.0,484.0 1654.5,485.1 1656.4,486.3C1658.4,487.6 1660.5,489.7 1661.5,491.5C1662.5,493.4 1662.2,496.6 1662.4,497.6"/>
<circle cx="1706.9" cy="424.3" r="10.8" fill="#878787"/>
<circle cx="1693.3" cy="473.3" r="10.7" fill="#898989"/>
<circle cx="1693.3" cy="473.3" r="6.0" fill="none" stroke="#fff" stroke-width="1.9"/>
<polyline class="tr" stroke="#f032e6" style="stroke-width:3.6" points="1668.9,478.0 1677.7,482.6 1672.8,486.2 1667.6,488.8 1658.6,480.0 1652.3,474.3 1654.6,465.5 1655.3,461.7 1648.2,465.8 1653.8,465.6 1658.3,474.8 1662.6,479.8 1669.6,478.2 1678.9,475.5 1671.5,467.7 1658.9,472.9 1660.3,462.2 1657.4,466.3 1659.4,477.3 1656.3,486.5 1651.7,482.0 1665.0,476.6 1668.7,478.5 1672.1,482.0 1678.4,480.2 1682.1,480.2 1675.9,472.2 1681.8,468.6 1694.9,467.9 1693.1,460.3 1692.2,450.3 1683.6,461.3 1675.2,461.7 1668.3,467.5 1668.7,476.9 1678.2,480.6 1678.0,488.6 1681.4,488.7 1682.6,485.5 1688.0,479.0 1690.3,468.5 1697.4,464.3 1695.8,457.9 1692.3,458.0 1689.5,448.9 1693.6,447.2 1700.1,449.1 1703.3,453.1 1700.5,448.1 1705.7,452.9 1700.6,457.9 1692.8,469.8 1694.9,459.4 1690.3,454.0 1686.2,450.1 1689.4,444.5 1688.0,458.0 1696.1,449.8 1699.4,445.8 1688.5,451.6 1684.9,448.0 1681.8,449.2 1683.0,452.7 1688.9,450.7 1695.9,447.1 1701.5,453.5 1704.0,456.4 1692.0,452.0 1692.1,447.8 1686.0,456.3 1687.4,461.4 1692.4,466.2 1688.4,465.3 1680.7,458.9 1681.6,447.0 1671.4,450.9 1670.5,459.2 1668.8,470.0 1664.8,470.3 1658.7,481.8 1647.1,489.1 1654.4,498.7 1649.1,501.9 1643.7,490.0 1643.7,478.6 1647.8,481.1 1658.2,486.8 1660.7,490.3 1666.7,501.9 1674.4,496.0 1662.4,494.1 1666.0,485.9 1674.4,478.5 1674.8,485.3 1680.3,483.1 1682.2,478.3 1686.6,467.5 1693.8,470.0 1689.8,468.8 1689.7,463.8 1682.8,455.5 1676.8,462.2 1686.8,471.0 1689.9,474.8 1680.0,484.0 1671.4,481.5 1670.3,486.6 1665.7,490.8 1659.2,492.7 1656.6,487.5 1650.1,486.8 1658.5,494.1 1662.7,485.3 1668.9,485.2 1677.5,485.6 1672.1,497.0 1661.7,501.6 1657.6,497.6 1652.4,495.0 1647.5,491.6 1644.3,487.4 1645.9,476.4 1651.9,476.7 1649.3,464.1 1649.2,468.4 1645.8,474.7"/>
<polyline class="tr" stroke="#f032e6" style="stroke-width:3.6" points="1670.1,474.4 1666.7,475.1 1663.2,467.8 1658.1,461.9 1660.7,458.8 1658.7,464.1 1655.2,466.4 1653.5,474.7 1657.2,481.9 1660.5,482.9 1665.9,490.7 1668.1,497.3 1657.6,496.4 1654.6,493.8 1660.4,497.5 1669.1,494.0 1659.2,499.1 1661.2,489.9 1664.1,489.0 1666.4,485.8 1668.8,483.5 1672.8,480.0 1674.6,473.6 1678.6,467.7 1680.7,459.7 1691.7,462.0 1694.0,457.0 1692.5,460.0 1694.2,463.4 1691.9,467.0 1689.7,470.1 1685.0,480.4 1686.0,476.9 1688.0,473.7 1688.9,462.8 1692.1,459.8 1689.5,467.3 1686.6,470.5 1683.0,477.6 1685.6,471.8 1684.0,467.6 1681.9,457.4 1675.9,457.2 1681.2,466.5 1680.1,471.4 1687.8,472.7 1690.9,472.7 1678.6,470.6 1676.7,466.0 1673.5,462.2 1669.6,454.1 1676.5,460.4 1669.3,467.5 1671.1,474.8 1667.7,479.8 1660.1,472.3"/>
<path class="tr" stroke="#f032e6" d="M1723.5,428.9C1722.8,428.4 1719.3,427.4 1719.0,425.8C1718.8,424.3 1720.8,420.1 1722.0,419.8C1723.3,419.5 1724.6,423.1 1726.6,424.3C1728.6,425.6 1731.1,426.1 1734.1,427.4C1737.2,428.6 1741.7,430.4 1744.7,431.9C1747.7,433.4 1750.3,434.7 1752.3,436.4C1754.3,438.2 1754.5,441.7 1756.8,442.5C1759.1,443.2 1762.4,441.6 1765.9,441.0C1769.4,440.3 1775.0,438.7 1778.0,438.7C1781.0,438.7 1783.0,439.1 1784.0,441.0C1785.0,442.9 1784.8,447.3 1784.0,450.0C1783.3,452.8 1782.0,456.6 1779.5,457.6C1777.0,458.6 1771.7,456.8 1768.9,456.1C1766.1,455.3 1763.9,453.6 1762.9,453.1"/>
<path class="tr" stroke="#f032e6" d="M1779.5,457.6C1778.2,458.9 1774.5,462.6 1771.9,465.2C1769.4,467.7 1766.9,470.5 1764.4,472.7C1761.9,475.0 1759.3,476.7 1756.8,478.8C1754.3,480.8 1750.5,483.9 1749.3,485.0"/>
<path class="tr" stroke="#f032e6" d="M1756.8,442.5C1755.6,443.5 1751.8,446.8 1749.3,448.5C1746.7,450.3 1744.2,451.3 1741.7,453.1C1739.2,454.8 1736.7,457.1 1734.1,459.1C1731.6,461.1 1729.1,463.4 1726.6,465.2C1724.1,466.9 1721.5,468.4 1719.0,469.7C1716.5,471.0 1712.7,472.2 1711.5,472.7"/>
<path class="tr" stroke="#f032e6" d="M1647.9,462.1C1649.0,461.1 1651.5,458.1 1654.0,456.1C1656.5,454.1 1661.0,451.6 1663.1,450.0C1665.1,448.5 1663.6,447.8 1666.1,447.0C1668.6,446.3 1674.4,445.3 1678.2,445.5C1682.0,445.8 1685.7,448.8 1688.8,448.5C1691.8,448.3 1693.8,444.5 1696.3,444.0C1698.9,443.5 1702.1,444.2 1703.9,445.5C1705.7,446.8 1705.7,449.8 1706.9,451.6C1708.2,453.3 1709.4,455.8 1711.5,456.1C1713.5,456.3 1716.5,455.1 1719.0,453.1C1721.5,451.0 1724.3,445.8 1726.6,444.0C1728.8,442.2 1731.4,441.5 1732.6,442.5C1733.9,443.5 1735.1,447.3 1734.1,450.0C1733.1,452.8 1727.8,457.6 1726.6,459.1"/>
<path class="tr" stroke="#f032e6" d="M1779.5,459.7C1778.2,460.9 1774.5,464.7 1771.9,467.2C1769.4,469.7 1766.9,472.3 1764.4,474.8C1761.9,477.3 1759.3,480.1 1756.8,482.3C1754.3,484.6 1751.8,486.4 1749.3,488.4C1746.7,490.4 1744.2,493.2 1741.7,494.4C1739.2,495.7 1736.4,496.5 1734.1,495.9C1731.9,495.4 1729.6,493.4 1728.1,491.4C1726.6,489.4 1725.3,486.6 1725.1,483.9C1724.8,481.1 1725.6,477.8 1726.6,474.8C1727.6,471.8 1729.1,468.5 1731.1,465.7C1733.1,462.9 1735.6,460.7 1738.7,458.1C1741.7,455.6 1745.7,452.6 1749.3,450.6C1752.8,448.6 1756.1,447.1 1759.8,446.0C1763.6,445.0 1768.2,445.0 1771.9,444.5C1775.7,444.0 1780.8,443.3 1782.5,443.0"/>
<path class="tr" stroke="#f032e6" style="stroke-width:5" d="M1696.3,477.8C1698.9,476.5 1706.4,473.3 1711.5,470.2C1716.5,467.2 1722.8,463.2 1726.6,459.7C1730.4,456.1 1733.4,451.8 1734.1,449.1C1734.9,446.3 1731.6,444.0 1731.1,443.0"/>
<path class="tr" stroke="#f032e6" style="stroke-width:4" d="M1693.3,470.2C1695.8,469.2 1703.9,466.7 1708.4,464.2C1713.0,461.7 1717.5,458.1 1720.5,455.1C1723.5,452.1 1725.6,447.6 1726.6,446.0"/>
<circle cx="1672.9" cy="525.4" r="10.7" fill="#898989"/>
<circle cx="1672.9" cy="525.4" r="6.0" fill="none" stroke="#fff" stroke-width="1.9"/>
</g>
<g id="strips">
<g id="row-mgh013">
<rect x="25.5" y="856.2" width="1849.8" height="26.4" fill="#a3a3a3"/>
<path d="M101.3,856.2h2.4V882.6h-2.4zM399.6,856.2h2.4V882.6h-2.4zM647.8,856.2h2.4V882.6h-2.4zM654.8,856.2h5.0V882.6h-5.0zM959.8,856.2h5.0V882.6h-5.0zM982.3,856.2h2.4V882.6h-2.4zM1042.0,856.2h2.4V882.6h-2.4zM1080.8,856.2h2.4V882.6h-2.4zM1113.2,856.2h5.0V882.6h-5.0zM1144.5,856.2h2.4V882.6h-2.4zM1163.3,856.2h2.4V882.6h-2.4zM1167.0,856.2h2.4V882.6h-2.4zM1177.8,856.2h2.4V882.6h-2.4zM1185.8,856.2h2.4V882.6h-2.4zM1206.3,856.2h2.4V882.6h-2.4zM1216.3,856.2h2.4V882.6h-2.4zM1233.3,856.2h2.4V882.6h-2.4zM1265.8,856.2h2.4V882.6h-2.4zM1292.8,856.2h2.4V882.6h-2.4zM1298.3,856.2h2.4V882.6h-2.4zM1339.5,856.2h2.4V882.6h-2.4zM1360.3,856.2h2.4V882.6h-2.4zM1372.8,856.2h2.4V882.6h-2.4zM1395.3,856.2h2.4V882.6h-2.4zM1413.3,856.2h2.4V882.6h-2.4zM1419.5,856.2h2.4V882.6h-2.4zM1438.2,856.2h5.0V882.6h-5.0zM1508.0,856.2h2.4V882.6h-2.4zM1549.3,856.2h2.4V882.6h-2.4zM1578.0,856.2h5.0V882.6h-5.0zM1719.8,856.2h2.4V882.6h-2.4zM1741.8,856.2h5.0V882.6h-5.0zM1760.5,856.2h2.4V882.6h-2.4zM1781.3,856.2h2.4V882.6h-2.4zM1793.8,856.2h2.4V882.6h-2.4zM1814.3,856.2h2.4V882.6h-2.4z" fill="#3f4753"/>
<rect x="25.5" y="862.0" width="1849.8" height="14.8" fill="#f58231"/>
</g>
<g id="row-mgh019">
<rect x="25.5" y="885.5" width="1849.8" height="26.3" fill="#a3a3a3"/>
<path d="M25.8,885.5h2.4V911.8h-2.4zM95.0,885.5h2.4V911.8h-2.4zM136.8,885.5h2.4V911.8h-2.4zM144.6,885.5h2.4V911.8h-2.4zM202.1,885.5h2.4V911.8h-2.4zM296.2,885.5h5.0V911.8h-5.0zM313.3,885.5h2.4V911.8h-2.4zM316.8,885.5h2.4V911.8h-2.4zM331.3,885.5h2.4V911.8h-2.4zM337.6,885.5h2.4V911.8h-2.4zM352.5,885.5h5.0V911.8h-5.0zM356.8,885.5h2.4V911.8h-2.4zM363.8,885.5h2.4V911.8h-2.4zM372.0,885.5h5.0V911.8h-5.0zM391.3,885.5h2.4V911.8h-2.4zM395.8,885.5h2.4V911.8h-2.4zM399.3,885.5h2.4V911.8h-2.4zM411.8,885.5h2.4V911.8h-2.4zM425.8,885.5h2.4V911.8h-2.4zM433.8,885.5h2.4V911.8h-2.4zM467.6,885.5h2.4V911.8h-2.4zM497.6,885.5h2.4V911.8h-2.4zM512.5,885.5h2.4V911.8h-2.4zM536.8,885.5h2.4V911.8h-2.4zM600.3,885.5h2.4V911.8h-2.4zM630.3,885.5h2.4V911.8h-2.4zM633.5,885.5h2.4V911.8h-2.4zM704.8,885.5h5.0V911.8h-5.0zM713.5,885.5h2.4V911.8h-2.4zM718.5,885.5h2.4V911.8h-2.4zM723.5,885.5h5.0V911.8h-5.0zM737.8,885.5h2.4V911.8h-2.4zM746.0,885.5h2.4V911.8h-2.4zM758.5,885.5h2.4V911.8h-2.4zM763.5,885.5h5.0V911.8h-5.0zM774.8,885.5h2.4V911.8h-2.4zM779.3,885.5h2.4V911.8h-2.4zM802.2,885.5h5.0V911.8h-5.0zM809.8,885.5h2.4V911.8h-2.4zM840.3,885.5h2.4V911.8h-2.4zM846.8,885.5h2.4V911.8h-2.4zM852.8,885.5h2.4V911.8h-2.4zM875.5,885.5h2.4V911.8h-2.4zM970.3,885.5h2.4V911.8h-2.4zM976.0,885.5h5.0V911.8h-5.0zM990.5,885.5h2.4V911.8h-2.4zM1001.0,885.5h2.4V911.8h-2.4zM1010.8,885.5h2.4V911.8h-2.4zM1020.8,885.5h2.4V911.8h-2.4zM1024.5,885.5h2.4V911.8h-2.4zM1029.8,885.5h7.0V911.8h-7.0zM1042.0,885.5h2.4V911.8h-2.4zM1048.3,885.5h2.4V911.8h-2.4zM1053.3,885.5h2.4V911.8h-2.4zM1060.8,885.5h2.4V911.8h-2.4zM1068.3,885.5h2.4V911.8h-2.4zM1076.3,885.5h2.4V911.8h-2.4zM1080.8,885.5h2.4V911.8h-2.4zM1085.8,885.5h2.4V911.8h-2.4zM1091.0,885.5h5.8V911.8h-5.8zM1099.5,885.5h2.4V911.8h-2.4zM1105.8,885.5h2.4V911.8h-2.4zM1113.3,885.5h2.4V911.8h-2.4zM1120.8,885.5h5.0V911.8h-5.0zM1129.5,885.5h5.0V911.8h-5.0zM1137.0,885.5h2.4V911.8h-2.4zM1147.0,885.5h2.4V911.8h-2.4zM1157.0,885.5h2.4V911.8h-2.4zM1162.0,885.5h2.4V911.8h-2.4zM1173.3,885.5h2.4V911.8h-2.4zM1179.5,885.5h2.4V911.8h-2.4zM1185.8,885.5h2.4V911.8h-2.4zM1202.0,885.5h2.4V911.8h-2.4zM1208.3,885.5h2.4V911.8h-2.4zM1225.8,885.5h2.4V911.8h-2.4zM1230.8,885.5h5.0V911.8h-5.0zM1245.8,885.5h2.4V911.8h-2.4zM1250.8,885.5h2.4V911.8h-2.4zM1255.8,885.5h5.0V911.8h-5.0zM1270.8,885.5h2.4V911.8h-2.4zM1275.8,885.5h2.4V911.8h-2.4zM1279.5,885.5h5.0V911.8h-5.0zM1288.3,885.5h2.4V911.8h-2.4zM1293.3,885.5h2.4V911.8h-2.4zM1297.0,885.5h2.4V911.8h-2.4zM1300.8,885.5h5.0V911.8h-5.0zM1309.5,885.5h2.4V911.8h-2.4zM1314.5,885.5h2.4V911.8h-2.4zM1320.8,885.5h5.0V911.8h-5.0zM1329.5,885.5h2.4V911.8h-2.4zM1334.5,885.5h2.4V911.8h-2.4zM1342.0,885.5h2.4V911.8h-2.4zM1352.0,885.5h2.4V911.8h-2.4zM1359.5,885.5h2.4V911.8h-2.4zM1368.3,885.5h2.4V911.8h-2.4zM1373.2,885.5h5.0V911.8h-5.0zM1383.3,885.5h2.4V911.8h-2.4zM1393.3,885.5h2.4V911.8h-2.4zM1403.3,885.5h2.4V911.8h-2.4zM1415.8,885.5h2.4V911.8h-2.4zM1422.0,885.5h2.4V911.8h-2.4zM1425.8,885.5h2.4V911.8h-2.4zM1443.3,885.5h2.4V911.8h-2.4zM1446.5,885.5h5.0V911.8h-5.0zM1468.8,885.5h2.4V911.8h-2.4zM1504.5,885.5h2.4V911.8h-2.4zM1519.3,885.5h2.4V911.8h-2.4zM1525.5,885.5h5.0V911.8h-5.0zM1533.0,885.5h2.4V911.8h-2.4zM1540.5,885.5h2.4V911.8h-2.4zM1549.2,885.5h5.0V911.8h-5.0zM1571.8,885.5h2.4V911.8h-2.4zM1579.3,885.5h2.4V911.8h-2.4zM1594.3,885.5h2.4V911.8h-2.4zM1609.3,885.5h2.4V911.8h-2.4zM1617.0,885.5h5.8V911.8h-5.8zM1630.5,885.5h2.4V911.8h-2.4zM1636.8,885.5h2.4V911.8h-2.4zM1650.5,885.5h5.0V911.8h-5.0zM1679.3,885.5h2.4V911.8h-2.4zM1688.0,885.5h2.4V911.8h-2.4zM1720.5,885.5h2.4V911.8h-2.4zM1756.3,885.5h2.4V911.8h-2.4zM1770.5,885.5h2.4V911.8h-2.4zM1775.5,885.5h2.4V911.8h-2.4zM1783.0,885.5h2.4V911.8h-2.4zM1791.8,885.5h2.4V911.8h-2.4zM1814.3,885.5h2.4V911.8h-2.4zM1825.5,885.5h2.4V911.8h-2.4zM1830.5,885.5h2.4V911.8h-2.4zM1850.5,885.5h2.4V911.8h-2.4zM1859.3,885.5h2.4V911.8h-2.4zM1865.5,885.5h2.4V911.8h-2.4z" fill="#3f4753"/>
<rect x="25.5" y="891.3" width="1849.8" height="14.5" fill="#f8bcd4"/>
</g>
<g id="row-mgh011">
<rect x="25.5" y="915.0" width="1849.8" height="25.6" fill="#a3a3a3"/>
<path d="M27.8,915.0h5.8V940.6h-5.8zM33.8,915.0h5.0V940.6h-5.0zM40.0,915.0h2.4V940.6h-2.4zM44.0,915.0h5.8V940.6h-5.8zM51.3,915.0h2.4V940.6h-2.4zM55.0,915.0h2.4V940.6h-2.4zM66.3,915.0h2.4V940.6h-2.4zM70.2,915.0h4.5V940.6h-4.5zM80.0,915.0h2.4V940.6h-2.4zM84.3,915.0h2.4V940.6h-2.4zM88.8,915.0h2.4V940.6h-2.4zM93.8,915.0h2.4V940.6h-2.4zM97.5,915.0h2.4V940.6h-2.4zM114.0,915.0h5.8V940.6h-5.8zM121.5,915.0h7.0V940.6h-7.0zM130.2,915.0h8.2V940.6h-8.2zM140.1,915.0h2.4V940.6h-2.4zM144.0,915.0h4.5V940.6h-4.5zM150.2,915.0h4.5V940.6h-4.5zM156.3,915.0h2.4V940.6h-2.4zM161.3,915.0h2.4V940.6h-2.4zM165.2,915.0h8.2V940.6h-8.2zM175.1,915.0h2.4V940.6h-2.4zM178.8,915.0h2.4V940.6h-2.4zM182.6,915.0h2.4V940.6h-2.4zM186.3,915.0h2.4V940.6h-2.4zM191.3,915.0h2.4V940.6h-2.4zM195.1,915.0h2.4V940.6h-2.4zM198.8,915.0h2.4V940.6h-2.4zM202.6,915.0h2.4V940.6h-2.4zM207.6,915.0h2.4V940.6h-2.4zM212.6,915.0h2.4V940.6h-2.4zM222.6,915.0h2.4V940.6h-2.4zM226.5,915.0h7.0V940.6h-7.0zM241.3,915.0h2.4V940.6h-2.4zM246.3,915.0h2.4V940.6h-2.4zM251.5,915.0h4.5V940.6h-4.5zM268.8,915.0h2.4V940.6h-2.4zM281.5,915.0h5.8V940.6h-5.8zM292.6,915.0h2.4V940.6h-2.4zM299.0,915.0h8.2V940.6h-8.2zM315.1,915.0h2.4V940.6h-2.4zM318.8,915.0h2.4V940.6h-2.4zM328.8,915.0h2.4V940.6h-2.4zM335.2,915.0h9.5V940.6h-9.5zM350.1,915.0h2.4V940.6h-2.4zM353.8,915.0h2.4V940.6h-2.4zM358.8,915.0h2.4V940.6h-2.4zM362.6,915.0h2.4V940.6h-2.4zM366.3,915.0h2.4V940.6h-2.4zM374.0,915.0h9.5V940.6h-9.5zM386.3,915.0h2.4V940.6h-2.4zM390.1,915.0h2.4V940.6h-2.4zM393.8,915.0h2.4V940.6h-2.4zM405.8,915.0h2.4V940.6h-2.4zM415.1,915.0h2.4V940.6h-2.4zM420.1,915.0h2.4V940.6h-2.4zM423.8,915.0h2.4V940.6h-2.4zM429.0,915.0h9.5V940.6h-9.5zM441.3,915.0h2.4V940.6h-2.4zM451.3,915.0h2.4V940.6h-2.4zM455.1,915.0h2.4V940.6h-2.4zM460.1,915.0h2.4V940.6h-2.4zM466.3,915.0h2.4V940.6h-2.4zM470.1,915.0h2.4V940.6h-2.4zM475.2,915.0h10.8V940.6h-10.8zM490.1,915.0h2.4V940.6h-2.4zM499.0,915.0h5.8V940.6h-5.8zM506.3,915.0h2.4V940.6h-2.4zM512.5,915.0h2.4V940.6h-2.4zM517.3,915.0h2.4V940.6h-2.4zM531.0,915.0h2.4V940.6h-2.4zM534.8,915.0h2.4V940.6h-2.4zM540.0,915.0h7.0V940.6h-7.0zM549.8,915.0h2.4V940.6h-2.4zM553.8,915.0h9.5V940.6h-9.5zM564.8,915.0h2.4V940.6h-2.4zM568.5,915.0h2.4V940.6h-2.4zM573.5,915.0h2.4V940.6h-2.4zM578.5,915.0h2.4V940.6h-2.4zM583.5,915.0h5.0V940.6h-5.0zM592.3,915.0h2.4V940.6h-2.4zM598.5,915.0h2.4V940.6h-2.4zM605.0,915.0h5.8V940.6h-5.8zM615.0,915.0h13.2V940.6h-13.2zM636.0,915.0h2.4V940.6h-2.4zM639.8,915.0h2.4V940.6h-2.4zM643.5,915.0h2.4V940.6h-2.4zM648.5,915.0h2.4V940.6h-2.4zM652.3,915.0h2.4V940.6h-2.4zM657.3,915.0h2.4V940.6h-2.4zM662.3,915.0h2.4V940.6h-2.4zM672.3,915.0h2.4V940.6h-2.4zM714.8,915.0h2.4V940.6h-2.4zM719.8,915.0h2.4V940.6h-2.4zM727.3,915.0h2.4V940.6h-2.4zM731.0,915.0h2.4V940.6h-2.4zM734.8,915.0h2.4V940.6h-2.4zM739.8,915.0h2.4V940.6h-2.4zM743.5,915.0h2.4V940.6h-2.4zM754.8,915.0h2.4V940.6h-2.4zM758.5,915.0h2.4V940.6h-2.4zM763.5,915.0h2.4V940.6h-2.4zM767.3,915.0h2.4V940.6h-2.4zM771.0,915.0h2.4V940.6h-2.4zM775.0,915.0h12.0V940.6h-12.0zM789.8,915.0h2.4V940.6h-2.4zM796.0,915.0h2.4V940.6h-2.4zM800.0,915.0h8.2V940.6h-8.2zM813.5,915.0h2.4V940.6h-2.4zM817.3,915.0h2.4V940.6h-2.4zM821.0,915.0h2.4V940.6h-2.4zM826.0,915.0h2.4V940.6h-2.4zM831.2,915.0h5.8V940.6h-5.8zM846.2,915.0h5.8V940.6h-5.8zM856.0,915.0h2.4V940.6h-2.4zM861.0,915.0h2.4V940.6h-2.4zM865.0,915.0h7.0V940.6h-7.0zM877.3,915.0h2.4V940.6h-2.4zM881.0,915.0h2.4V940.6h-2.4zM884.8,915.0h2.4V940.6h-2.4zM892.3,915.0h2.4V940.6h-2.4zM899.8,915.0h2.4V940.6h-2.4zM912.3,915.0h2.4V940.6h-2.4zM917.5,915.0h7.0V940.6h-7.0zM929.8,915.0h2.4V940.6h-2.4zM934.8,915.0h2.4V940.6h-2.4zM943.5,915.0h2.4V940.6h-2.4zM948.8,915.0h5.8V940.6h-5.8zM957.3,915.0h2.4V940.6h-2.4zM961.0,915.0h2.4V940.6h-2.4zM977.3,915.0h2.4V940.6h-2.4zM982.3,915.0h2.4V940.6h-2.4zM986.0,915.0h2.4V940.6h-2.4zM994.8,915.0h2.4V940.6h-2.4zM999.8,915.0h2.4V940.6h-2.4zM1006.2,915.0h5.8V940.6h-5.8zM1017.0,915.0h2.4V940.6h-2.4zM1023.3,915.0h2.4V940.6h-2.4zM1029.5,915.0h2.4V940.6h-2.4zM1035.8,915.0h2.4V940.6h-2.4zM1042.0,915.0h2.4V940.6h-2.4zM1049.5,915.0h2.4V940.6h-2.4zM1053.3,915.0h2.4V940.6h-2.4zM1057.0,915.0h2.4V940.6h-2.4zM1060.8,915.0h2.4V940.6h-2.4zM1064.5,915.0h2.4V940.6h-2.4zM1069.5,915.0h5.0V940.6h-5.0zM1086.0,915.0h5.8V940.6h-5.8zM1095.8,915.0h2.4V940.6h-2.4zM1100.8,915.0h2.4V940.6h-2.4zM1132.0,915.0h2.4V940.6h-2.4zM1137.0,915.0h2.4V940.6h-2.4zM1140.8,915.0h2.4V940.6h-2.4zM1157.0,915.0h5.0V940.6h-5.0zM1164.5,915.0h2.4V940.6h-2.4zM1168.2,915.0h5.0V940.6h-5.0zM1185.8,915.0h2.4V940.6h-2.4zM1190.8,915.0h2.4V940.6h-2.4zM1198.3,915.0h2.4V940.6h-2.4zM1203.3,915.0h2.4V940.6h-2.4zM1225.8,915.0h2.4V940.6h-2.4zM1229.5,915.0h5.0V940.6h-5.0zM1237.0,915.0h2.4V940.6h-2.4zM1243.3,915.0h2.4V940.6h-2.4zM1255.8,915.0h2.4V940.6h-2.4zM1259.5,915.0h5.0V940.6h-5.0zM1283.3,915.0h2.4V940.6h-2.4zM1289.5,915.0h5.0V940.6h-5.0zM1307.0,915.0h2.4V940.6h-2.4zM1312.0,915.0h2.4V940.6h-2.4zM1314.5,915.0h5.0V940.6h-5.0zM1322.0,915.0h2.4V940.6h-2.4zM1327.0,915.0h2.4V940.6h-2.4zM1332.0,915.0h2.4V940.6h-2.4zM1337.2,915.0h8.2V940.6h-8.2zM1348.3,915.0h2.4V940.6h-2.4zM1364.5,915.0h2.4V940.6h-2.4zM1378.3,915.0h2.4V940.6h-2.4zM1383.3,915.0h2.4V940.6h-2.4zM1387.0,915.0h5.0V940.6h-5.0zM1408.3,915.0h2.4V940.6h-2.4zM1415.8,915.0h2.4V940.6h-2.4zM1438.3,915.0h2.4V940.6h-2.4zM1442.0,915.0h5.0V940.6h-5.0zM1467.0,915.0h2.4V940.6h-2.4zM1490.8,915.0h2.4V940.6h-2.4zM1502.0,915.0h2.4V940.6h-2.4zM1505.8,915.0h2.4V940.6h-2.4zM1513.0,915.0h5.0V940.6h-5.0zM1521.8,915.0h2.4V940.6h-2.4zM1526.8,915.0h2.4V940.6h-2.4zM1536.8,915.0h2.4V940.6h-2.4zM1546.8,915.0h2.4V940.6h-2.4zM1554.3,915.0h2.4V940.6h-2.4zM1560.5,915.0h2.4V940.6h-2.4zM1569.3,915.0h2.4V940.6h-2.4zM1573.0,915.0h2.4V940.6h-2.4zM1578.0,915.0h2.4V940.6h-2.4zM1583.0,915.0h2.4V940.6h-2.4zM1589.2,915.0h5.0V940.6h-5.0zM1596.8,915.0h2.4V940.6h-2.4zM1601.8,915.0h2.4V940.6h-2.4zM1606.8,915.0h2.4V940.6h-2.4zM1611.8,915.0h2.4V940.6h-2.4zM1615.5,915.0h5.0V940.6h-5.0zM1623.0,915.0h2.4V940.6h-2.4zM1629.3,915.0h2.4V940.6h-2.4zM1635.5,915.0h2.4V940.6h-2.4zM1651.8,915.0h2.4V940.6h-2.4zM1663.0,915.0h2.4V940.6h-2.4zM1670.5,915.0h2.4V940.6h-2.4zM1679.3,915.0h2.4V940.6h-2.4zM1688.0,915.0h5.0V940.6h-5.0zM1696.8,915.0h2.4V940.6h-2.4zM1704.2,915.0h5.0V940.6h-5.0zM1713.0,915.0h5.0V940.6h-5.0zM1723.0,915.0h2.4V940.6h-2.4zM1728.0,915.0h2.4V940.6h-2.4zM1735.5,915.0h5.0V940.6h-5.0zM1756.8,915.0h2.4V940.6h-2.4zM1761.8,915.0h2.4V940.6h-2.4zM1766.8,915.0h2.4V940.6h-2.4zM1770.5,915.0h5.0V940.6h-5.0zM1778.0,915.0h2.4V940.6h-2.4zM1784.3,915.0h2.4V940.6h-2.4zM1789.3,915.0h2.4V940.6h-2.4zM1801.8,915.0h2.4V940.6h-2.4zM1809.3,915.0h2.4V940.6h-2.4zM1814.3,915.0h2.4V940.6h-2.4zM1819.3,915.0h2.4V940.6h-2.4zM1824.3,915.0h2.4V940.6h-2.4zM1830.5,915.0h2.4V940.6h-2.4zM1839.3,915.0h2.4V940.6h-2.4zM1846.8,915.0h2.4V940.6h-2.4zM1850.5,915.0h2.4V940.6h-2.4zM1856.8,915.0h2.4V940.6h-2.4zM1865.5,915.0h2.4V940.6h-2.4zM1870.5,915.0h2.4V940.6h-2.4z" fill="#3f4753"/>
<rect x="25.5" y="921.2" width="1849.8" height="13.4" fill="#fffac8"/>
</g>
<g id="row-mgh009">
<rect x="25.5" y="944.5" width="1849.8" height="26.0" fill="#a3a3a3"/>
<path d="M26.3,944.5h2.4V970.5h-2.4zM30.8,944.5h2.4V970.5h-2.4zM37.8,944.5h7.0V970.5h-7.0zM56.3,944.5h2.4V970.5h-2.4zM62.5,944.5h2.4V970.5h-2.4zM70.5,944.5h2.4V970.5h-2.4zM105.0,944.5h2.4V970.5h-2.4zM138.3,944.5h2.4V970.5h-2.4zM141.8,944.5h2.4V970.5h-2.4zM165.1,944.5h2.4V970.5h-2.4zM182.6,944.5h2.4V970.5h-2.4zM188.8,944.5h2.4V970.5h-2.4zM195.0,944.5h5.0V970.5h-5.0zM207.6,944.5h2.4V970.5h-2.4zM218.8,944.5h2.4V970.5h-2.4zM226.3,944.5h2.4V970.5h-2.4zM237.6,944.5h2.4V970.5h-2.4zM248.8,944.5h2.4V970.5h-2.4zM268.8,944.5h2.4V970.5h-2.4zM286.3,944.5h2.4V970.5h-2.4zM312.6,944.5h2.4V970.5h-2.4zM317.6,944.5h2.4V970.5h-2.4zM340.1,944.5h2.4V970.5h-2.4zM355.1,944.5h2.4V970.5h-2.4zM360.1,944.5h2.4V970.5h-2.4zM365.1,944.5h2.4V970.5h-2.4zM371.2,944.5h5.0V970.5h-5.0zM381.8,944.5h2.4V970.5h-2.4zM431.8,944.5h2.4V970.5h-2.4zM441.8,944.5h2.4V970.5h-2.4zM465.1,944.5h2.4V970.5h-2.4zM471.3,944.5h2.4V970.5h-2.4zM477.6,944.5h2.4V970.5h-2.4zM482.6,944.5h2.4V970.5h-2.4zM501.3,944.5h2.4V970.5h-2.4zM506.3,944.5h2.4V970.5h-2.4zM512.5,944.5h2.4V970.5h-2.4zM526.8,944.5h2.4V970.5h-2.4zM534.3,944.5h2.4V970.5h-2.4zM539.8,944.5h2.4V970.5h-2.4zM561.8,944.5h2.4V970.5h-2.4zM569.8,944.5h2.4V970.5h-2.4zM580.3,944.5h2.4V970.5h-2.4zM585.3,944.5h2.4V970.5h-2.4zM594.3,944.5h2.4V970.5h-2.4zM611.0,944.5h2.4V970.5h-2.4zM635.5,944.5h2.4V970.5h-2.4zM651.8,944.5h2.4V970.5h-2.4zM702.3,944.5h2.4V970.5h-2.4zM706.0,944.5h2.4V970.5h-2.4zM717.3,944.5h2.4V970.5h-2.4zM729.8,944.5h2.4V970.5h-2.4zM749.8,944.5h2.4V970.5h-2.4zM761.0,944.5h2.4V970.5h-2.4zM767.3,944.5h2.4V970.5h-2.4zM773.5,944.5h5.0V970.5h-5.0zM781.0,944.5h5.0V970.5h-5.0zM799.8,944.5h5.0V970.5h-5.0zM809.8,944.5h2.4V970.5h-2.4zM826.0,944.5h2.4V970.5h-2.4zM859.3,944.5h2.4V970.5h-2.4zM945.3,944.5h2.4V970.5h-2.4zM976.0,944.5h2.4V970.5h-2.4zM984.0,944.5h2.4V970.5h-2.4zM1019.5,944.5h2.4V970.5h-2.4zM1043.3,944.5h2.4V970.5h-2.4zM1053.3,944.5h2.4V970.5h-2.4zM1060.8,944.5h5.0V970.5h-5.0zM1083.3,944.5h2.4V970.5h-2.4zM1090.8,944.5h2.4V970.5h-2.4zM1095.8,944.5h2.4V970.5h-2.4zM1115.8,944.5h2.4V970.5h-2.4zM1122.0,944.5h2.4V970.5h-2.4zM1128.3,944.5h2.4V970.5h-2.4zM1133.3,944.5h2.4V970.5h-2.4zM1139.5,944.5h2.4V970.5h-2.4zM1169.5,944.5h5.0V970.5h-5.0zM1183.3,944.5h2.4V970.5h-2.4zM1189.5,944.5h2.4V970.5h-2.4zM1194.5,944.5h2.4V970.5h-2.4zM1207.0,944.5h5.0V970.5h-5.0zM1230.8,944.5h2.4V970.5h-2.4zM1248.3,944.5h2.4V970.5h-2.4zM1264.5,944.5h2.4V970.5h-2.4zM1270.8,944.5h5.0V970.5h-5.0zM1288.3,944.5h2.4V970.5h-2.4zM1305.8,944.5h2.4V970.5h-2.4zM1322.0,944.5h2.4V970.5h-2.4zM1329.5,944.5h2.4V970.5h-2.4zM1335.8,944.5h2.4V970.5h-2.4zM1343.3,944.5h2.4V970.5h-2.4zM1358.3,944.5h2.4V970.5h-2.4zM1373.3,944.5h2.4V970.5h-2.4zM1388.3,944.5h2.4V970.5h-2.4zM1397.0,944.5h2.4V970.5h-2.4zM1410.8,944.5h5.0V970.5h-5.0zM1423.3,944.5h2.4V970.5h-2.4zM1438.2,944.5h5.0V970.5h-5.0zM1448.3,944.5h2.4V970.5h-2.4zM1452.8,944.5h2.4V970.5h-2.4zM1557.3,944.5h2.4V970.5h-2.4zM1561.3,944.5h2.4V970.5h-2.4zM1566.8,944.5h2.4V970.5h-2.4zM1579.8,944.5h2.4V970.5h-2.4zM1586.3,944.5h2.4V970.5h-2.4zM1620.5,944.5h2.4V970.5h-2.4zM1633.0,944.5h5.0V970.5h-5.0zM1681.8,944.5h2.4V970.5h-2.4zM1711.0,944.5h2.4V970.5h-2.4zM1728.0,944.5h2.4V970.5h-2.4zM1736.8,944.5h2.4V970.5h-2.4zM1745.5,944.5h2.4V970.5h-2.4zM1752.3,944.5h2.4V970.5h-2.4zM1764.3,944.5h2.4V970.5h-2.4zM1781.3,944.5h2.4V970.5h-2.4zM1786.8,944.5h2.4V970.5h-2.4zM1794.3,944.5h2.4V970.5h-2.4zM1805.5,944.5h5.0V970.5h-5.0zM1821.8,944.5h2.4V970.5h-2.4zM1836.8,944.5h2.4V970.5h-2.4zM1850.5,944.5h2.4V970.5h-2.4zM1865.5,944.5h2.4V970.5h-2.4zM1870.5,944.5h2.4V970.5h-2.4z" fill="#3f4753"/>
<rect x="25.5" y="950.7" width="1849.8" height="13.7" fill="#469990"/>
</g>
<g id="row-mgh005">
<rect x="25.5" y="973.8" width="1849.8" height="26.3" fill="#a3a3a3"/>
<path d="M177.6,973.8h2.4V1000.1h-2.4zM182.6,973.8h2.4V1000.1h-2.4zM186.2,973.8h5.0V1000.1h-5.0zM193.8,973.8h2.4V1000.1h-2.4zM218.8,973.8h2.4V1000.1h-2.4zM226.3,973.8h2.4V1000.1h-2.4zM231.3,973.8h2.4V1000.1h-2.4zM238.8,973.8h2.4V1000.1h-2.4zM247.6,973.8h2.4V1000.1h-2.4zM253.8,973.8h2.4V1000.1h-2.4zM263.8,973.8h2.4V1000.1h-2.4zM268.8,973.8h2.4V1000.1h-2.4zM283.8,973.8h2.4V1000.1h-2.4zM292.6,973.8h2.4V1000.1h-2.4zM297.6,973.8h2.4V1000.1h-2.4zM305.1,973.8h2.4V1000.1h-2.4zM310.0,973.8h5.0V1000.1h-5.0zM317.6,973.8h2.4V1000.1h-2.4zM322.6,973.8h2.4V1000.1h-2.4zM328.8,973.8h2.4V1000.1h-2.4zM333.8,973.8h5.0V1000.1h-5.0zM341.2,973.8h5.0V1000.1h-5.0zM362.6,973.8h2.4V1000.1h-2.4zM367.6,973.8h2.4V1000.1h-2.4zM377.5,973.8h5.0V1000.1h-5.0zM386.3,973.8h2.4V1000.1h-2.4zM392.5,973.8h5.0V1000.1h-5.0zM398.8,973.8h2.4V1000.1h-2.4zM405.1,973.8h2.4V1000.1h-2.4zM411.3,973.8h2.4V1000.1h-2.4zM442.6,973.8h2.4V1000.1h-2.4zM451.3,973.8h2.4V1000.1h-2.4zM458.8,973.8h2.4V1000.1h-2.4zM492.6,973.8h2.4V1000.1h-2.4zM512.5,973.8h2.4V1000.1h-2.4zM518.5,973.8h2.4V1000.1h-2.4zM527.3,973.8h2.4V1000.1h-2.4zM536.0,973.8h2.4V1000.1h-2.4zM539.8,973.8h5.0V1000.1h-5.0zM552.3,973.8h2.4V1000.1h-2.4zM558.5,973.8h5.0V1000.1h-5.0zM569.8,973.8h2.4V1000.1h-2.4zM576.0,973.8h2.4V1000.1h-2.4zM587.3,973.8h2.4V1000.1h-2.4zM594.8,973.8h2.4V1000.1h-2.4zM601.0,973.8h2.4V1000.1h-2.4zM611.0,973.8h5.0V1000.1h-5.0zM624.8,973.8h2.4V1000.1h-2.4zM631.0,973.8h2.4V1000.1h-2.4zM668.5,973.8h2.4V1000.1h-2.4zM717.3,973.8h2.4V1000.1h-2.4zM750.3,973.8h2.4V1000.1h-2.4zM756.8,973.8h2.4V1000.1h-2.4zM761.0,973.8h2.4V1000.1h-2.4zM767.3,973.8h2.4V1000.1h-2.4zM772.3,973.8h2.4V1000.1h-2.4zM777.3,973.8h2.4V1000.1h-2.4zM794.8,973.8h2.4V1000.1h-2.4zM799.3,973.8h2.4V1000.1h-2.4zM811.8,973.8h2.4V1000.1h-2.4zM818.5,973.8h2.4V1000.1h-2.4zM824.8,973.8h2.4V1000.1h-2.4zM838.5,973.8h2.4V1000.1h-2.4zM846.0,973.8h2.4V1000.1h-2.4zM851.0,973.8h2.4V1000.1h-2.4zM858.5,973.8h2.4V1000.1h-2.4zM874.8,973.8h2.4V1000.1h-2.4zM884.8,973.8h2.4V1000.1h-2.4zM891.8,973.8h2.4V1000.1h-2.4zM912.3,973.8h2.4V1000.1h-2.4zM918.5,973.8h5.0V1000.1h-5.0zM928.5,973.8h2.4V1000.1h-2.4zM939.8,973.8h2.4V1000.1h-2.4zM951.0,973.8h2.4V1000.1h-2.4zM963.5,973.8h2.4V1000.1h-2.4zM982.3,973.8h2.4V1000.1h-2.4zM996.0,973.8h2.4V1000.1h-2.4zM1002.3,973.8h2.4V1000.1h-2.4zM1066.3,973.8h2.4V1000.1h-2.4zM1083.3,973.8h2.4V1000.1h-2.4zM1090.8,973.8h2.4V1000.1h-2.4zM1126.3,973.8h2.4V1000.1h-2.4zM1133.8,973.8h2.4V1000.1h-2.4zM1179.5,973.8h2.4V1000.1h-2.4zM1356.3,973.8h2.4V1000.1h-2.4zM1372.5,973.8h2.4V1000.1h-2.4z" fill="#3f4753"/>
<rect x="25.5" y="980.0" width="1849.8" height="14.3" fill="#bfef45"/>
</g>
<g id="row-mgh020">
<path d="M266.1,1003.0h2.8V1029.4h-2.8zM908.4,1003.0h2.8V1029.4h-2.8zM1423.1,1003.0h2.8V1029.4h-2.8zM1861.6,1003.0h2.8V1029.4h-2.8z" fill="#a6a6a6"/>
<path d="M25.6,1003.0h2.8V1029.4h-2.8zM29.1,1003.0h2.8V1029.4h-2.8zM40.2,1003.0h5.8V1029.4h-5.8zM47.4,1003.0h2.8V1029.4h-2.8zM52.4,1003.0h2.8V1029.4h-2.8zM56.1,1003.0h2.8V1029.4h-2.8zM62.4,1003.0h2.8V1029.4h-2.8zM66.1,1003.0h2.8V1029.4h-2.8zM69.9,1003.0h5.2V1029.4h-5.2zM76.1,1003.0h2.8V1029.4h-2.8zM84.0,1003.0h5.8V1029.4h-5.8zM91.1,1003.0h2.8V1029.4h-2.8zM99.8,1003.0h2.8V1029.4h-2.8zM103.6,1003.0h2.8V1029.4h-2.8zM108.6,1003.0h2.8V1029.4h-2.8zM113.6,1003.0h2.8V1029.4h-2.8zM121.5,1003.0h19.5V1029.4h-19.5zM142.3,1003.0h2.8V1029.4h-2.8zM152.8,1003.0h8.2V1029.4h-8.2zM162.8,1003.0h4.5V1029.4h-4.5zM169.8,1003.0h2.8V1029.4h-2.8zM177.3,1003.0h2.8V1029.4h-2.8zM183.6,1003.0h2.8V1029.4h-2.8zM188.6,1003.0h2.8V1029.4h-2.8zM193.6,1003.0h2.8V1029.4h-2.8zM198.6,1003.0h2.8V1029.4h-2.8zM203.6,1003.0h2.8V1029.4h-2.8zM213.6,1003.0h2.8V1029.4h-2.8zM218.6,1003.0h2.8V1029.4h-2.8zM222.3,1003.0h2.8V1029.4h-2.8zM226.1,1003.0h2.8V1029.4h-2.8zM232.3,1003.0h2.8V1029.4h-2.8zM237.3,1003.0h2.8V1029.4h-2.8zM242.3,1003.0h2.8V1029.4h-2.8zM246.1,1003.0h2.8V1029.4h-2.8zM251.1,1003.0h2.8V1029.4h-2.8zM273.6,1003.0h2.8V1029.4h-2.8zM280.2,1003.0h5.8V1029.4h-5.8zM291.1,1003.0h2.8V1029.4h-2.8zM294.9,1003.0h2.8V1029.4h-2.8zM298.6,1003.0h2.8V1029.4h-2.8zM303.6,1003.0h2.8V1029.4h-2.8zM308.6,1003.0h2.8V1029.4h-2.8zM313.6,1003.0h2.8V1029.4h-2.8zM317.4,1003.0h2.8V1029.4h-2.8zM322.4,1003.0h2.8V1029.4h-2.8zM329.0,1003.0h4.5V1029.4h-4.5zM339.9,1003.0h2.8V1029.4h-2.8zM346.5,1003.0h9.5V1029.4h-9.5zM357.4,1003.0h2.8V1029.4h-2.8zM364.0,1003.0h14.5V1029.4h-14.5zM379.9,1003.0h2.8V1029.4h-2.8zM384.9,1003.0h2.8V1029.4h-2.8zM388.6,1003.0h2.8V1029.4h-2.8zM393.6,1003.0h2.8V1029.4h-2.8zM398.6,1003.0h2.8V1029.4h-2.8zM404.0,1003.0h17.0V1029.4h-17.0zM428.6,1003.0h2.8V1029.4h-2.8zM436.1,1003.0h2.8V1029.4h-2.8zM443.6,1003.0h2.8V1029.4h-2.8zM449.0,1003.0h4.5V1029.4h-4.5zM458.6,1003.0h2.8V1029.4h-2.8zM464.0,1003.0h7.0V1029.4h-7.0zM472.4,1003.0h2.8V1029.4h-2.8zM476.1,1003.0h2.8V1029.4h-2.8zM481.1,1003.0h2.8V1029.4h-2.8zM492.8,1003.0h13.2V1029.4h-13.2zM508.6,1003.0h2.8V1029.4h-2.8zM513.6,1003.0h2.8V1029.4h-2.8zM517.1,1003.0h2.8V1029.4h-2.8zM522.1,1003.0h2.8V1029.4h-2.8zM527.5,1003.0h8.2V1029.4h-8.2zM538.4,1003.0h2.8V1029.4h-2.8zM542.1,1003.0h2.8V1029.4h-2.8zM547.1,1003.0h2.8V1029.4h-2.8zM552.1,1003.0h2.8V1029.4h-2.8zM557.5,1003.0h5.8V1029.4h-5.8zM567.5,1003.0h8.2V1029.4h-8.2zM579.6,1003.0h2.8V1029.4h-2.8zM585.0,1003.0h4.5V1029.4h-4.5zM595.0,1003.0h5.8V1029.4h-5.8zM602.5,1003.0h5.8V1029.4h-5.8zM610.0,1003.0h10.8V1029.4h-10.8zM624.6,1003.0h2.8V1029.4h-2.8zM632.1,1003.0h2.8V1029.4h-2.8zM635.9,1003.0h2.8V1029.4h-2.8zM642.1,1003.0h2.8V1029.4h-2.8zM651.2,1003.0h9.5V1029.4h-9.5zM665.0,1003.0h8.2V1029.4h-8.2zM675.0,1003.0h4.5V1029.4h-4.5zM682.1,1003.0h2.8V1029.4h-2.8zM685.9,1003.0h2.8V1029.4h-2.8zM693.4,1003.0h2.8V1029.4h-2.8zM697.1,1003.0h2.8V1029.4h-2.8zM702.1,1003.0h2.8V1029.4h-2.8zM707.5,1003.0h7.0V1029.4h-7.0zM715.0,1003.0h5.8V1029.4h-5.8zM723.8,1003.0h10.8V1029.4h-10.8zM736.2,1003.0h4.5V1029.4h-4.5zM742.1,1003.0h2.8V1029.4h-2.8zM747.1,1003.0h2.8V1029.4h-2.8zM752.1,1003.0h2.8V1029.4h-2.8zM758.8,1003.0h8.2V1029.4h-8.2zM768.4,1003.0h2.8V1029.4h-2.8zM773.8,1003.0h5.8V1029.4h-5.8zM785.0,1003.0h9.5V1029.4h-9.5zM797.5,1003.0h7.0V1029.4h-7.0zM805.9,1003.0h2.8V1029.4h-2.8zM812.1,1003.0h2.8V1029.4h-2.8zM816.2,1003.0h5.8V1029.4h-5.8zM824.6,1003.0h2.8V1029.4h-2.8zM833.8,1003.0h15.8V1029.4h-15.8zM850.9,1003.0h2.8V1029.4h-2.8zM855.0,1003.0h9.5V1029.4h-9.5zM867.1,1003.0h2.8V1029.4h-2.8zM873.8,1003.0h5.8V1029.4h-5.8zM882.1,1003.0h2.8V1029.4h-2.8zM886.2,1003.0h5.8V1029.4h-5.8zM893.8,1003.0h12.0V1029.4h-12.0zM917.1,1003.0h2.8V1029.4h-2.8zM920.9,1003.0h2.8V1029.4h-2.8zM926.2,1003.0h5.8V1029.4h-5.8zM934.6,1003.0h2.8V1029.4h-2.8zM940.0,1003.0h4.5V1029.4h-4.5zM947.5,1003.0h10.8V1029.4h-10.8zM962.1,1003.0h2.8V1029.4h-2.8zM970.0,1003.0h8.2V1029.4h-8.2zM982.1,1003.0h2.8V1029.4h-2.8zM987.1,1003.0h2.8V1029.4h-2.8zM992.5,1003.0h4.5V1029.4h-4.5zM1002.1,1003.0h2.8V1029.4h-2.8zM1008.4,1003.0h2.8V1029.4h-2.8zM1013.1,1003.0h2.8V1029.4h-2.8zM1018.1,1003.0h2.8V1029.4h-2.8zM1026.0,1003.0h5.8V1029.4h-5.8zM1036.0,1003.0h8.2V1029.4h-8.2zM1046.0,1003.0h8.2V1029.4h-8.2zM1056.0,1003.0h5.8V1029.4h-5.8zM1063.5,1003.0h8.2V1029.4h-8.2zM1073.1,1003.0h2.8V1029.4h-2.8zM1078.1,1003.0h2.8V1029.4h-2.8zM1086.0,1003.0h13.2V1029.4h-13.2zM1103.1,1003.0h2.8V1029.4h-2.8zM1113.1,1003.0h2.8V1029.4h-2.8zM1119.3,1003.0h2.8V1029.4h-2.8zM1125.6,1003.0h2.8V1029.4h-2.8zM1131.0,1003.0h12.0V1029.4h-12.0zM1151.8,1003.0h2.8V1029.4h-2.8zM1163.5,1003.0h15.8V1029.4h-15.8zM1181.0,1003.0h5.8V1029.4h-5.8zM1188.1,1003.0h2.8V1029.4h-2.8zM1191.8,1003.0h2.8V1029.4h-2.8zM1196.8,1003.0h2.8V1029.4h-2.8zM1206.0,1003.0h7.0V1029.4h-7.0zM1216.0,1003.0h9.5V1029.4h-9.5zM1228.1,1003.0h2.8V1029.4h-2.8zM1233.1,1003.0h2.8V1029.4h-2.8zM1240.6,1003.0h2.8V1029.4h-2.8zM1245.6,1003.0h2.8V1029.4h-2.8zM1249.3,1003.0h2.8V1029.4h-2.8zM1254.3,1003.0h2.8V1029.4h-2.8zM1258.1,1003.0h2.8V1029.4h-2.8zM1263.1,1003.0h2.8V1029.4h-2.8zM1268.1,1003.0h2.8V1029.4h-2.8zM1271.8,1003.0h2.8V1029.4h-2.8zM1279.8,1003.0h17.0V1029.4h-17.0zM1298.5,1003.0h5.8V1029.4h-5.8zM1305.6,1003.0h2.8V1029.4h-2.8zM1311.8,1003.0h2.8V1029.4h-2.8zM1320.6,1003.0h2.8V1029.4h-2.8zM1326.8,1003.0h2.8V1029.4h-2.8zM1331.8,1003.0h2.8V1029.4h-2.8zM1338.1,1003.0h2.8V1029.4h-2.8zM1343.1,1003.0h2.8V1029.4h-2.8zM1349.3,1003.0h2.8V1029.4h-2.8zM1356.0,1003.0h7.0V1029.4h-7.0zM1364.3,1003.0h2.8V1029.4h-2.8zM1372.2,1003.0h15.8V1029.4h-15.8zM1394.3,1003.0h2.8V1029.4h-2.8zM1399.8,1003.0h10.8V1029.4h-10.8zM1413.1,1003.0h2.8V1029.4h-2.8zM1418.1,1003.0h2.8V1029.4h-2.8zM1428.1,1003.0h2.8V1029.4h-2.8zM1434.3,1003.0h2.8V1029.4h-2.8zM1439.3,1003.0h2.8V1029.4h-2.8zM1446.8,1003.0h2.8V1029.4h-2.8zM1451.8,1003.0h2.8V1029.4h-2.8zM1458.5,1003.0h7.0V1029.4h-7.0zM1476.0,1003.0h9.5V1029.4h-9.5zM1488.1,1003.0h2.8V1029.4h-2.8zM1494.8,1003.0h14.2V1029.4h-14.2zM1509.1,1003.0h2.8V1029.4h-2.8zM1514.5,1003.0h4.5V1029.4h-4.5zM1522.8,1003.0h2.8V1029.4h-2.8zM1527.8,1003.0h2.8V1029.4h-2.8zM1532.8,1003.0h2.8V1029.4h-2.8zM1539.1,1003.0h2.8V1029.4h-2.8zM1551.6,1003.0h2.8V1029.4h-2.8zM1559.1,1003.0h2.8V1029.4h-2.8zM1564.5,1003.0h15.8V1029.4h-15.8zM1584.5,1003.0h13.2V1029.4h-13.2zM1601.6,1003.0h2.8V1029.4h-2.8zM1607.0,1003.0h8.2V1029.4h-8.2zM1620.8,1003.0h9.5V1029.4h-9.5zM1631.6,1003.0h2.8V1029.4h-2.8zM1636.6,1003.0h2.8V1029.4h-2.8zM1641.6,1003.0h2.8V1029.4h-2.8zM1646.6,1003.0h2.8V1029.4h-2.8zM1651.6,1003.0h2.8V1029.4h-2.8zM1657.0,1003.0h7.0V1029.4h-7.0zM1666.6,1003.0h2.8V1029.4h-2.8zM1672.0,1003.0h7.0V1029.4h-7.0zM1681.6,1003.0h2.8V1029.4h-2.8zM1687.0,1003.0h8.2V1029.4h-8.2zM1697.0,1003.0h9.5V1029.4h-9.5zM1707.8,1003.0h2.8V1029.4h-2.8zM1711.6,1003.0h2.8V1029.4h-2.8zM1719.5,1003.0h5.8V1029.4h-5.8zM1727.8,1003.0h2.8V1029.4h-2.8zM1734.1,1003.0h2.8V1029.4h-2.8zM1739.1,1003.0h2.8V1029.4h-2.8zM1744.1,1003.0h2.8V1029.4h-2.8zM1749.1,1003.0h2.8V1029.4h-2.8zM1754.5,1003.0h4.5V1029.4h-4.5zM1762.8,1003.0h2.8V1029.4h-2.8zM1767.8,1003.0h2.8V1029.4h-2.8zM1774.5,1003.0h7.0V1029.4h-7.0zM1784.1,1003.0h2.8V1029.4h-2.8zM1789.1,1003.0h2.8V1029.4h-2.8zM1795.3,1003.0h2.8V1029.4h-2.8zM1804.1,1003.0h2.8V1029.4h-2.8zM1812.0,1003.0h7.0V1029.4h-7.0zM1821.6,1003.0h2.8V1029.4h-2.8zM1832.8,1003.0h2.8V1029.4h-2.8zM1840.8,1003.0h8.2V1029.4h-8.2zM1852.0,1003.0h5.8V1029.4h-5.8z" fill="#3f4753"/>
<rect x="25.5" y="1009.2" width="1849.8" height="13.8" fill="#ffe119"/>
</g>
<g id="row-mgh016">
<path d="M28.8,1032.4h2.4V1058.3h-2.4zM34.3,1032.4h2.4V1058.3h-2.4zM43.8,1032.4h2.4V1058.3h-2.4zM113.8,1032.4h2.4V1058.3h-2.4zM117.5,1032.4h2.4V1058.3h-2.4zM129.0,1032.4h5.0V1058.3h-5.0zM146.3,1032.4h2.4V1058.3h-2.4zM168.8,1032.4h2.4V1058.3h-2.4zM171.8,1032.4h2.4V1058.3h-2.4zM203.8,1032.4h2.4V1058.3h-2.4zM208.8,1032.4h2.4V1058.3h-2.4zM213.8,1032.4h2.4V1058.3h-2.4zM249.0,1032.4h7.0V1058.3h-7.0zM276.3,1032.4h2.4V1058.3h-2.4zM286.5,1032.4h5.8V1058.3h-5.8zM308.8,1032.4h2.4V1058.3h-2.4zM365.1,1032.4h2.4V1058.3h-2.4zM401.3,1032.4h2.4V1058.3h-2.4zM407.6,1032.4h2.4V1058.3h-2.4zM421.5,1032.4h9.5V1058.3h-9.5zM436.3,1032.4h2.4V1058.3h-2.4zM443.8,1032.4h2.4V1058.3h-2.4zM452.6,1032.4h2.4V1058.3h-2.4zM458.8,1032.4h2.4V1058.3h-2.4zM481.3,1032.4h2.4V1058.3h-2.4zM487.8,1032.4h5.8V1058.3h-5.8zM505.1,1032.4h2.4V1058.3h-2.4zM543.8,1032.4h9.5V1058.3h-9.5zM563.5,1032.4h2.4V1058.3h-2.4zM601.2,1032.4h5.8V1058.3h-5.8zM621.0,1032.4h2.4V1058.3h-2.4zM696.0,1032.4h2.4V1058.3h-2.4zM701.0,1032.4h2.4V1058.3h-2.4zM753.8,1032.4h7.0V1058.3h-7.0zM802.3,1032.4h2.4V1058.3h-2.4zM812.3,1032.4h2.4V1058.3h-2.4zM821.0,1032.4h2.4V1058.3h-2.4zM892.3,1032.4h2.4V1058.3h-2.4zM906.2,1032.4h5.8V1058.3h-5.8zM927.3,1032.4h2.4V1058.3h-2.4zM1002.3,1032.4h2.4V1058.3h-2.4zM1042.0,1032.4h2.4V1058.3h-2.4zM1057.0,1032.4h2.4V1058.3h-2.4zM1317.0,1032.4h2.4V1058.3h-2.4zM1417.0,1032.4h2.4V1058.3h-2.4zM1430.8,1032.4h2.4V1058.3h-2.4zM1478.3,1032.4h2.4V1058.3h-2.4zM1495.8,1032.4h2.4V1058.3h-2.4zM1513.0,1032.4h2.4V1058.3h-2.4zM1524.3,1032.4h2.4V1058.3h-2.4zM1548.0,1032.4h2.4V1058.3h-2.4zM1574.3,1032.4h2.4V1058.3h-2.4zM1586.8,1032.4h2.4V1058.3h-2.4zM1638.0,1032.4h2.4V1058.3h-2.4zM1643.0,1032.4h2.4V1058.3h-2.4zM1656.8,1032.4h2.4V1058.3h-2.4zM1684.3,1032.4h2.4V1058.3h-2.4zM1699.3,1032.4h2.4V1058.3h-2.4zM1711.8,1032.4h2.4V1058.3h-2.4zM1718.0,1032.4h2.4V1058.3h-2.4zM1735.5,1032.4h2.4V1058.3h-2.4zM1748.2,1032.4h5.8V1058.3h-5.8zM1759.3,1032.4h2.4V1058.3h-2.4zM1804.3,1032.4h2.4V1058.3h-2.4zM1851.8,1032.4h2.4V1058.3h-2.4z" fill="#a6a6a6"/>
<path d="M38.3,1032.4h2.4V1058.3h-2.4zM47.5,1032.4h2.4V1058.3h-2.4zM51.5,1032.4h7.0V1058.3h-7.0zM70.5,1032.4h2.4V1058.3h-2.4zM83.0,1032.4h5.0V1058.3h-5.0zM132.2,1032.4h5.0V1058.3h-5.0zM141.3,1032.4h2.4V1058.3h-2.4zM153.1,1032.4h2.4V1058.3h-2.4zM163.8,1032.4h2.4V1058.3h-2.4zM182.6,1032.4h2.4V1058.3h-2.4zM187.5,1032.4h5.0V1058.3h-5.0zM195.1,1032.4h2.4V1058.3h-2.4zM227.1,1032.4h2.4V1058.3h-2.4zM235.1,1032.4h2.4V1058.3h-2.4zM238.8,1032.4h2.4V1058.3h-2.4zM245.1,1032.4h2.4V1058.3h-2.4zM262.6,1032.4h2.4V1058.3h-2.4zM296.3,1032.4h2.4V1058.3h-2.4zM302.6,1032.4h2.4V1058.3h-2.4zM323.3,1032.4h2.4V1058.3h-2.4zM337.6,1032.4h2.4V1058.3h-2.4zM353.8,1032.4h2.4V1058.3h-2.4zM358.8,1032.4h2.4V1058.3h-2.4zM372.6,1032.4h2.4V1058.3h-2.4zM377.6,1032.4h2.4V1058.3h-2.4zM386.3,1032.4h2.4V1058.3h-2.4zM510.1,1032.4h2.4V1058.3h-2.4zM513.8,1032.4h2.4V1058.3h-2.4zM517.3,1032.4h2.4V1058.3h-2.4zM522.3,1032.4h2.4V1058.3h-2.4zM527.3,1032.4h2.4V1058.3h-2.4zM532.5,1032.4h7.0V1058.3h-7.0zM568.5,1032.4h2.4V1058.3h-2.4zM573.5,1032.4h2.4V1058.3h-2.4zM577.3,1032.4h2.4V1058.3h-2.4zM582.3,1032.4h2.4V1058.3h-2.4zM586.0,1032.4h2.4V1058.3h-2.4zM592.3,1032.4h2.4V1058.3h-2.4zM609.8,1032.4h2.4V1058.3h-2.4zM627.3,1032.4h2.4V1058.3h-2.4zM631.0,1032.4h2.4V1058.3h-2.4zM636.0,1032.4h2.4V1058.3h-2.4zM642.3,1032.4h2.4V1058.3h-2.4zM657.3,1032.4h2.4V1058.3h-2.4zM661.0,1032.4h2.4V1058.3h-2.4zM666.0,1032.4h2.4V1058.3h-2.4zM671.0,1032.4h5.0V1058.3h-5.0zM678.5,1032.4h2.4V1058.3h-2.4zM683.5,1032.4h2.4V1058.3h-2.4zM709.8,1032.4h2.4V1058.3h-2.4zM717.3,1032.4h2.4V1058.3h-2.4zM722.3,1032.4h2.4V1058.3h-2.4zM728.5,1032.4h2.4V1058.3h-2.4zM749.8,1032.4h2.4V1058.3h-2.4zM762.3,1032.4h2.4V1058.3h-2.4zM767.3,1032.4h2.4V1058.3h-2.4zM772.3,1032.4h2.4V1058.3h-2.4zM787.3,1032.4h2.4V1058.3h-2.4zM791.0,1032.4h2.4V1058.3h-2.4zM806.0,1032.4h2.4V1058.3h-2.4zM839.8,1032.4h2.4V1058.3h-2.4zM844.8,1032.4h2.4V1058.3h-2.4zM858.5,1032.4h2.4V1058.3h-2.4zM862.3,1032.4h2.4V1058.3h-2.4zM872.3,1032.4h2.4V1058.3h-2.4zM876.0,1032.4h2.4V1058.3h-2.4zM881.0,1032.4h2.4V1058.3h-2.4zM897.3,1032.4h2.4V1058.3h-2.4zM901.0,1032.4h2.4V1058.3h-2.4zM934.8,1032.4h2.4V1058.3h-2.4zM939.8,1032.4h2.4V1058.3h-2.4zM943.5,1032.4h2.4V1058.3h-2.4zM948.5,1032.4h2.4V1058.3h-2.4zM953.5,1032.4h2.4V1058.3h-2.4zM958.5,1032.4h2.4V1058.3h-2.4zM964.8,1032.4h2.4V1058.3h-2.4zM973.8,1032.4h7.0V1058.3h-7.0zM1007.3,1032.4h2.4V1058.3h-2.4zM1019.5,1032.4h2.4V1058.3h-2.4zM1023.3,1032.4h2.4V1058.3h-2.4zM1027.0,1032.4h2.4V1058.3h-2.4zM1030.8,1032.4h2.4V1058.3h-2.4zM1034.5,1032.4h2.4V1058.3h-2.4zM1065.8,1032.4h2.4V1058.3h-2.4zM1070.8,1032.4h2.4V1058.3h-2.4zM1085.8,1032.4h2.4V1058.3h-2.4zM1090.8,1032.4h2.4V1058.3h-2.4zM1097.2,1032.4h5.8V1058.3h-5.8zM1107.0,1032.4h2.4V1058.3h-2.4zM1112.0,1032.4h2.4V1058.3h-2.4zM1115.8,1032.4h2.4V1058.3h-2.4zM1132.0,1032.4h2.4V1058.3h-2.4zM1138.3,1032.4h2.4V1058.3h-2.4zM1142.0,1032.4h2.4V1058.3h-2.4zM1147.0,1032.4h2.4V1058.3h-2.4zM1150.8,1032.4h2.4V1058.3h-2.4zM1155.8,1032.4h2.4V1058.3h-2.4zM1159.5,1032.4h2.4V1058.3h-2.4zM1164.5,1032.4h2.4V1058.3h-2.4zM1169.5,1032.4h2.4V1058.3h-2.4zM1173.3,1032.4h2.4V1058.3h-2.4zM1178.3,1032.4h2.4V1058.3h-2.4zM1183.3,1032.4h2.4V1058.3h-2.4zM1189.5,1032.4h2.4V1058.3h-2.4zM1198.3,1032.4h2.4V1058.3h-2.4zM1210.8,1032.4h2.4V1058.3h-2.4zM1218.3,1032.4h2.4V1058.3h-2.4zM1223.3,1032.4h2.4V1058.3h-2.4zM1230.8,1032.4h2.4V1058.3h-2.4zM1237.0,1032.4h2.4V1058.3h-2.4zM1249.5,1032.4h2.4V1058.3h-2.4zM1260.8,1032.4h5.0V1058.3h-5.0zM1268.3,1032.4h2.4V1058.3h-2.4zM1273.3,1032.4h2.4V1058.3h-2.4zM1279.5,1032.4h2.4V1058.3h-2.4zM1284.5,1032.4h2.4V1058.3h-2.4zM1288.3,1032.4h2.4V1058.3h-2.4zM1295.8,1032.4h2.4V1058.3h-2.4zM1299.5,1032.4h5.0V1058.3h-5.0zM1307.0,1032.4h2.4V1058.3h-2.4zM1313.3,1032.4h2.4V1058.3h-2.4zM1329.5,1032.4h2.4V1058.3h-2.4zM1334.5,1032.4h2.4V1058.3h-2.4zM1345.8,1032.4h2.4V1058.3h-2.4zM1354.5,1032.4h2.4V1058.3h-2.4zM1358.3,1032.4h2.4V1058.3h-2.4zM1375.8,1032.4h2.4V1058.3h-2.4zM1395.8,1032.4h2.4V1058.3h-2.4zM1402.0,1032.4h2.4V1058.3h-2.4zM1405.8,1032.4h2.4V1058.3h-2.4zM1425.8,1032.4h2.4V1058.3h-2.4zM1435.8,1032.4h2.4V1058.3h-2.4zM1443.3,1032.4h2.4V1058.3h-2.4zM1454.5,1032.4h2.4V1058.3h-2.4zM1467.0,1032.4h2.4V1058.3h-2.4zM1500.8,1032.4h2.4V1058.3h-2.4zM1504.5,1032.4h2.4V1058.3h-2.4zM1508.0,1032.4h2.4V1058.3h-2.4zM1529.5,1032.4h5.8V1058.3h-5.8zM1539.3,1032.4h2.4V1058.3h-2.4zM1564.3,1032.4h2.4V1058.3h-2.4zM1578.0,1032.4h2.4V1058.3h-2.4zM1583.0,1032.4h2.4V1058.3h-2.4zM1593.0,1032.4h2.4V1058.3h-2.4zM1598.0,1032.4h2.4V1058.3h-2.4zM1601.8,1032.4h2.4V1058.3h-2.4zM1606.8,1032.4h2.4V1058.3h-2.4zM1611.8,1032.4h2.4V1058.3h-2.4zM1619.3,1032.4h2.4V1058.3h-2.4zM1623.0,1032.4h2.4V1058.3h-2.4zM1648.0,1032.4h2.4V1058.3h-2.4zM1663.0,1032.4h5.0V1058.3h-5.0zM1670.5,1032.4h2.4V1058.3h-2.4zM1723.0,1032.4h2.4V1058.3h-2.4zM1730.5,1032.4h2.4V1058.3h-2.4zM1740.5,1032.4h2.4V1058.3h-2.4zM1764.3,1032.4h2.4V1058.3h-2.4zM1770.5,1032.4h2.4V1058.3h-2.4zM1809.3,1032.4h2.4V1058.3h-2.4zM1814.3,1032.4h2.4V1058.3h-2.4zM1819.3,1032.4h2.4V1058.3h-2.4zM1825.5,1032.4h2.4V1058.3h-2.4zM1831.8,1032.4h5.0V1058.3h-5.0zM1846.8,1032.4h2.4V1058.3h-2.4zM1860.5,1032.4h2.4V1058.3h-2.4zM1868.0,1032.4h2.4V1058.3h-2.4z" fill="#3f4753"/>
<rect x="25.5" y="1038.3" width="1849.8" height="13.7" fill="#f032e6"/>
</g>
<g id="row-mgh007">
<path d="M35.8,1062.0h2.4V1087.5h-2.4zM73.0,1062.0h2.4V1087.5h-2.4zM90.0,1062.0h2.4V1087.5h-2.4zM93.8,1062.0h2.4V1087.5h-2.4zM97.5,1062.0h2.4V1087.5h-2.4zM106.8,1062.0h2.4V1087.5h-2.4zM122.5,1062.0h2.4V1087.5h-2.4zM273.8,1062.0h2.4V1087.5h-2.4zM313.3,1062.0h2.4V1087.5h-2.4zM362.6,1062.0h2.4V1087.5h-2.4zM382.6,1062.0h2.4V1087.5h-2.4zM388.8,1062.0h2.4V1087.5h-2.4zM418.1,1062.0h2.4V1087.5h-2.4zM427.6,1062.0h2.4V1087.5h-2.4zM433.8,1062.0h2.4V1087.5h-2.4zM479.3,1062.0h2.4V1087.5h-2.4zM519.8,1062.0h2.4V1087.5h-2.4zM526.0,1062.0h2.4V1087.5h-2.4zM536.8,1062.0h2.4V1087.5h-2.4zM546.0,1062.0h2.4V1087.5h-2.4zM574.0,1062.0h2.4V1087.5h-2.4zM671.0,1062.0h2.4V1087.5h-2.4zM762.3,1062.0h2.4V1087.5h-2.4zM822.3,1062.0h2.4V1087.5h-2.4zM827.3,1062.0h2.4V1087.5h-2.4zM832.3,1062.0h2.4V1087.5h-2.4zM892.8,1062.0h2.4V1087.5h-2.4zM988.5,1062.0h2.4V1087.5h-2.4zM1013.3,1062.0h2.4V1087.5h-2.4zM1037.8,1062.0h2.4V1087.5h-2.4zM1052.0,1062.0h2.4V1087.5h-2.4zM1058.3,1062.0h2.4V1087.5h-2.4zM1182.0,1062.0h2.4V1087.5h-2.4zM1239.5,1062.0h2.4V1087.5h-2.4zM1244.5,1062.0h2.4V1087.5h-2.4zM1249.5,1062.0h2.4V1087.5h-2.4zM1292.8,1062.0h2.4V1087.5h-2.4zM1436.3,1062.0h2.4V1087.5h-2.4zM1448.3,1062.0h2.4V1087.5h-2.4zM1482.0,1062.0h2.4V1087.5h-2.4zM1500.8,1062.0h2.4V1087.5h-2.4zM1519.3,1062.0h2.4V1087.5h-2.4zM1541.8,1062.0h2.4V1087.5h-2.4zM1596.8,1062.0h2.4V1087.5h-2.4zM1646.8,1062.0h2.4V1087.5h-2.4zM1670.8,1062.0h4.5V1087.5h-4.5zM1811.8,1062.0h2.4V1087.5h-2.4zM1851.8,1062.0h2.4V1087.5h-2.4z" fill="#a6a6a6"/>
<path d="M25.8,1062.0h2.4V1087.5h-2.4zM144.6,1062.0h2.4V1087.5h-2.4zM212.1,1062.0h2.4V1087.5h-2.4zM253.3,1062.0h2.4V1087.5h-2.4zM320.1,1062.0h2.4V1087.5h-2.4zM329.3,1062.0h2.4V1087.5h-2.4zM355.1,1062.0h2.4V1087.5h-2.4zM378.3,1062.0h2.4V1087.5h-2.4zM392.6,1062.0h2.4V1087.5h-2.4zM396.8,1062.0h2.4V1087.5h-2.4zM548.5,1062.0h2.4V1087.5h-2.4zM559.3,1062.0h2.4V1087.5h-2.4zM578.5,1062.0h2.4V1087.5h-2.4zM586.0,1062.0h2.4V1087.5h-2.4zM635.5,1062.0h2.4V1087.5h-2.4zM651.8,1062.0h2.4V1087.5h-2.4zM667.8,1062.0h2.4V1087.5h-2.4zM686.5,1062.0h2.4V1087.5h-2.4zM713.5,1062.0h2.4V1087.5h-2.4zM727.3,1062.0h2.4V1087.5h-2.4zM741.8,1062.0h2.4V1087.5h-2.4zM843.5,1062.0h2.4V1087.5h-2.4zM848.5,1062.0h5.0V1087.5h-5.0zM856.0,1062.0h2.4V1087.5h-2.4zM901.0,1062.0h2.4V1087.5h-2.4zM903.5,1062.0h5.0V1087.5h-5.0zM922.2,1062.0h5.0V1087.5h-5.0zM939.2,1062.0h5.0V1087.5h-5.0zM974.0,1062.0h2.4V1087.5h-2.4zM1083.3,1062.0h2.4V1087.5h-2.4zM1087.0,1062.0h2.4V1087.5h-2.4zM1098.3,1062.0h2.4V1087.5h-2.4zM1100.8,1062.0h5.0V1087.5h-5.0zM1114.5,1062.0h2.4V1087.5h-2.4zM1120.8,1062.0h2.4V1087.5h-2.4zM1132.0,1062.0h2.4V1087.5h-2.4zM1137.0,1062.0h2.4V1087.5h-2.4zM1143.3,1062.0h2.4V1087.5h-2.4zM1150.8,1062.0h2.4V1087.5h-2.4zM1155.8,1062.0h2.4V1087.5h-2.4zM1159.5,1062.0h2.4V1087.5h-2.4zM1188.3,1062.0h2.4V1087.5h-2.4zM1313.8,1062.0h2.4V1087.5h-2.4zM1345.8,1062.0h2.4V1087.5h-2.4zM1353.3,1062.0h2.4V1087.5h-2.4zM1357.0,1062.0h2.4V1087.5h-2.4zM1395.8,1062.0h2.4V1087.5h-2.4zM1405.3,1062.0h2.4V1087.5h-2.4zM1452.0,1062.0h2.4V1087.5h-2.4zM1455.3,1062.0h2.4V1087.5h-2.4zM1462.8,1062.0h2.4V1087.5h-2.4zM1528.0,1062.0h2.4V1087.5h-2.4zM1536.8,1062.0h2.4V1087.5h-2.4zM1567.3,1062.0h2.4V1087.5h-2.4zM1579.8,1062.0h2.4V1087.5h-2.4zM1586.3,1062.0h2.4V1087.5h-2.4zM1600.5,1062.0h2.4V1087.5h-2.4zM1610.5,1062.0h2.4V1087.5h-2.4zM1633.0,1062.0h2.4V1087.5h-2.4zM1636.8,1062.0h2.4V1087.5h-2.4zM1658.0,1062.0h2.4V1087.5h-2.4zM1664.3,1062.0h2.4V1087.5h-2.4zM1713.8,1062.0h2.4V1087.5h-2.4zM1721.8,1062.0h2.4V1087.5h-2.4zM1724.2,1062.0h5.0V1087.5h-5.0zM1734.3,1062.0h2.4V1087.5h-2.4zM1739.3,1062.0h2.4V1087.5h-2.4zM1749.3,1062.0h2.4V1087.5h-2.4zM1755.5,1062.0h2.4V1087.5h-2.4zM1760.5,1062.0h2.4V1087.5h-2.4zM1774.3,1062.0h2.4V1087.5h-2.4zM1776.8,1062.0h5.0V1087.5h-5.0zM1788.0,1062.0h2.4V1087.5h-2.4zM1797.5,1062.0h2.4V1087.5h-2.4zM1819.3,1062.0h2.4V1087.5h-2.4zM1823.0,1062.0h2.4V1087.5h-2.4zM1826.8,1062.0h2.4V1087.5h-2.4zM1831.8,1062.0h2.4V1087.5h-2.4zM1855.5,1062.0h2.4V1087.5h-2.4zM1861.8,1062.0h2.4V1087.5h-2.4zM1869.3,1062.0h2.4V1087.5h-2.4z" fill="#3f4753"/>
<rect x="25.5" y="1068.0" width="1849.8" height="13.6" fill="#4363d8"/>
</g>
</g>
<g id="names">
<text class="nm" x="1891" y="878.2">mgh013</text>
<text class="nm" x="1891" y="907.5">mgh019</text>
<text class="nm" x="1891" y="937.0">mgh011</text>
<text class="nm" x="1891" y="966.5">mgh009</text>
<text class="nm" x="1891" y="995.8">mgh005</text>
<text class="nm" x="1891" y="1025.0">mgh020</text>
<text class="nm" x="1891" y="1054.4">mgh016</text>
<text class="nm" x="1891" y="1084.0">mgh007</text>
</g>
</svg></body></html>
